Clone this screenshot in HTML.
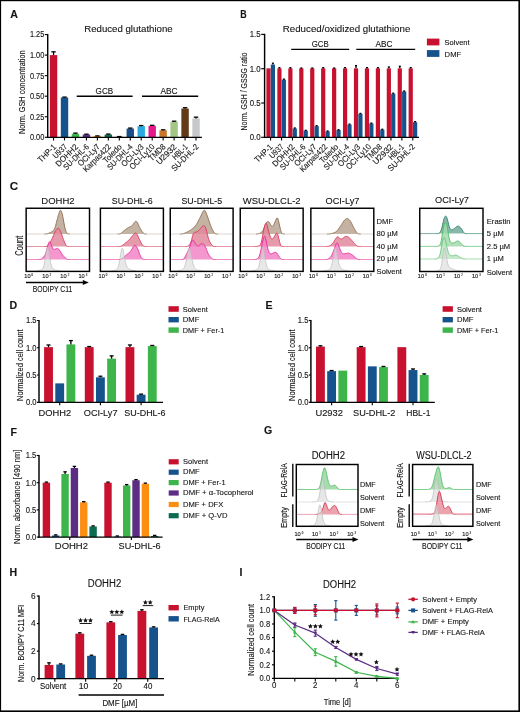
<!DOCTYPE html><html><head><meta charset="utf-8"><style>html,body{margin:0;padding:0;background:#fff;}svg{display:block;will-change:transform;} text{font-family:"Liberation Sans",sans-serif;fill:#141414;stroke:#141414;stroke-width:0.12px;}</style></head><body>
<svg width="520" height="712" viewBox="0 0 520 712">
<text x="10.2" y="17.9" font-size="10.6" font-weight="bold" fill="#000">A</text>
<text x="84.2" y="32" font-size="9.8" textLength="88.5" lengthAdjust="spacingAndGlyphs">Reduced glutathione</text>
<line x1="47.7" y1="33.95" x2="47.7" y2="138" stroke="#000" stroke-width="1.45"/>
<line x1="44.8" y1="34.55" x2="47.7" y2="34.55" stroke="#000" stroke-width="1.15"/>
<text x="44.3" y="37.4" font-size="8.6" text-anchor="end" textLength="14.4" lengthAdjust="spacingAndGlyphs">1.25</text>
<line x1="44.8" y1="55.1" x2="47.7" y2="55.1" stroke="#000" stroke-width="1.15"/>
<text x="44.3" y="57.95" font-size="8.6" text-anchor="end" textLength="14.4" lengthAdjust="spacingAndGlyphs">1.00</text>
<line x1="44.8" y1="75.65" x2="47.7" y2="75.65" stroke="#000" stroke-width="1.15"/>
<text x="44.3" y="78.5" font-size="8.6" text-anchor="end" textLength="14.4" lengthAdjust="spacingAndGlyphs">0.75</text>
<line x1="44.8" y1="96.2" x2="47.7" y2="96.2" stroke="#000" stroke-width="1.15"/>
<text x="44.3" y="99.05" font-size="8.6" text-anchor="end" textLength="14.4" lengthAdjust="spacingAndGlyphs">0.50</text>
<line x1="44.8" y1="116.75" x2="47.7" y2="116.75" stroke="#000" stroke-width="1.15"/>
<text x="44.3" y="119.6" font-size="8.6" text-anchor="end" textLength="14.4" lengthAdjust="spacingAndGlyphs">0.25</text>
<line x1="44.8" y1="137.3" x2="47.7" y2="137.3" stroke="#000" stroke-width="1.15"/>
<text x="44.3" y="140.15" font-size="8.6" text-anchor="end" textLength="14.4" lengthAdjust="spacingAndGlyphs">0.00</text>
<text transform="translate(24.6,92.3) rotate(-90)" font-size="9.2" text-anchor="middle" textLength="83.6" lengthAdjust="spacingAndGlyphs">Norm. GSH concentration</text>
<rect x="49.85" y="55.1" width="7.4" height="82.2" fill="#c8112f"/>
<line x1="53.55" y1="55.1" x2="53.55" y2="51.81" stroke="#000" stroke-width="1.3"/>
<line x1="51.35" y1="51.81" x2="55.75" y2="51.81" stroke="#000" stroke-width="1.3"/>
<line x1="53.55" y1="137.3" x2="53.55" y2="140.5" stroke="#000" stroke-width="1.1"/>
<text transform="translate(56.65,147.4) rotate(-45)" font-size="8.3" text-anchor="end" textLength="22" lengthAdjust="spacingAndGlyphs">THP-1</text>
<rect x="60.81" y="97.52" width="7.4" height="39.78" fill="#16528c"/>
<line x1="64.51" y1="97.52" x2="64.51" y2="97.1" stroke="#000" stroke-width="1.3"/>
<line x1="62.31" y1="97.1" x2="66.71" y2="97.1" stroke="#000" stroke-width="1.3"/>
<line x1="64.51" y1="137.3" x2="64.51" y2="140.5" stroke="#000" stroke-width="1.1"/>
<text transform="translate(67.61,147.4) rotate(-45)" font-size="8.3" text-anchor="end" textLength="16.5" lengthAdjust="spacingAndGlyphs">U937</text>
<rect x="71.77" y="133.77" width="7.4" height="3.53" fill="#3db54a"/>
<line x1="75.47" y1="133.77" x2="75.47" y2="133.11" stroke="#000" stroke-width="1.3"/>
<line x1="73.27" y1="133.11" x2="77.67" y2="133.11" stroke="#000" stroke-width="1.3"/>
<line x1="75.47" y1="137.3" x2="75.47" y2="140.5" stroke="#000" stroke-width="1.1"/>
<text transform="translate(78.57,147.4) rotate(-45)" font-size="8.3" text-anchor="end" textLength="28" lengthAdjust="spacingAndGlyphs">DOHH2</text>
<rect x="82.73" y="134.51" width="7.4" height="2.79" fill="#5b2d83"/>
<line x1="86.43" y1="134.51" x2="86.43" y2="134.18" stroke="#000" stroke-width="1.3"/>
<line x1="84.23" y1="134.18" x2="88.63" y2="134.18" stroke="#000" stroke-width="1.3"/>
<line x1="86.43" y1="137.3" x2="86.43" y2="140.5" stroke="#000" stroke-width="1.1"/>
<text transform="translate(89.53,147.4) rotate(-45)" font-size="8.3" text-anchor="end" textLength="32.5" lengthAdjust="spacingAndGlyphs">SU-DHL-6</text>
<rect x="93.69" y="136.15" width="7.4" height="1.15" fill="#fc8e12"/>
<line x1="97.39" y1="136.15" x2="97.39" y2="135.9" stroke="#000" stroke-width="1.3"/>
<line x1="95.19" y1="135.9" x2="99.59" y2="135.9" stroke="#000" stroke-width="1.3"/>
<line x1="97.39" y1="137.3" x2="97.39" y2="140.5" stroke="#000" stroke-width="1.1"/>
<text transform="translate(100.49,147.4) rotate(-45)" font-size="8.3" text-anchor="end" textLength="27.5" lengthAdjust="spacingAndGlyphs">OCI-Ly7</text>
<rect x="104.65" y="134.51" width="7.4" height="2.79" fill="#0d6b50"/>
<line x1="108.35" y1="134.51" x2="108.35" y2="134.09" stroke="#000" stroke-width="1.3"/>
<line x1="106.15" y1="134.09" x2="110.55" y2="134.09" stroke="#000" stroke-width="1.3"/>
<line x1="108.35" y1="137.3" x2="108.35" y2="140.5" stroke="#000" stroke-width="1.1"/>
<text transform="translate(111.45,147.4) rotate(-45)" font-size="8.3" text-anchor="end" textLength="35.5" lengthAdjust="spacingAndGlyphs">Karpas422</text>
<rect x="115.61" y="136.81" width="7.4" height="0.49" fill="#333"/>
<line x1="119.31" y1="136.81" x2="119.31" y2="136.56" stroke="#000" stroke-width="1.3"/>
<line x1="117.11" y1="136.56" x2="121.51" y2="136.56" stroke="#000" stroke-width="1.3"/>
<line x1="119.31" y1="137.3" x2="119.31" y2="140.5" stroke="#000" stroke-width="1.1"/>
<text transform="translate(122.41,147.4) rotate(-45)" font-size="8.3" text-anchor="end" textLength="23" lengthAdjust="spacingAndGlyphs">Toledo</text>
<rect x="126.57" y="128.59" width="7.4" height="8.71" fill="#1b4f8a"/>
<line x1="130.27" y1="128.59" x2="130.27" y2="128.09" stroke="#000" stroke-width="1.3"/>
<line x1="128.07" y1="128.09" x2="132.47" y2="128.09" stroke="#000" stroke-width="1.3"/>
<line x1="130.27" y1="137.3" x2="130.27" y2="140.5" stroke="#000" stroke-width="1.1"/>
<text transform="translate(133.37,147.4) rotate(-45)" font-size="8.3" text-anchor="end" textLength="32.5" lengthAdjust="spacingAndGlyphs">SU-DHL-4</text>
<rect x="137.53" y="126.2" width="7.4" height="11.1" fill="#29abe2"/>
<line x1="141.23" y1="126.2" x2="141.23" y2="125.55" stroke="#000" stroke-width="1.3"/>
<line x1="139.03" y1="125.55" x2="143.43" y2="125.55" stroke="#000" stroke-width="1.3"/>
<line x1="141.23" y1="137.3" x2="141.23" y2="140.5" stroke="#000" stroke-width="1.1"/>
<text transform="translate(144.33,147.4) rotate(-45)" font-size="8.3" text-anchor="end" textLength="28" lengthAdjust="spacingAndGlyphs">OCI-Ly3</text>
<rect x="148.49" y="125.79" width="7.4" height="11.51" fill="#e6198b"/>
<line x1="152.19" y1="125.79" x2="152.19" y2="125.3" stroke="#000" stroke-width="1.3"/>
<line x1="149.99" y1="125.3" x2="154.39" y2="125.3" stroke="#000" stroke-width="1.3"/>
<line x1="152.19" y1="137.3" x2="152.19" y2="140.5" stroke="#000" stroke-width="1.1"/>
<text transform="translate(155.29,147.4) rotate(-45)" font-size="8.3" text-anchor="end" textLength="32" lengthAdjust="spacingAndGlyphs">OCI-Ly10</text>
<rect x="159.45" y="130.31" width="7.4" height="6.99" fill="#c8782a"/>
<line x1="163.15" y1="130.31" x2="163.15" y2="129.82" stroke="#000" stroke-width="1.3"/>
<line x1="160.95" y1="129.82" x2="165.35" y2="129.82" stroke="#000" stroke-width="1.3"/>
<line x1="163.15" y1="137.3" x2="163.15" y2="140.5" stroke="#000" stroke-width="1.1"/>
<text transform="translate(166.25,147.4) rotate(-45)" font-size="8.3" text-anchor="end" textLength="20" lengthAdjust="spacingAndGlyphs">TMD8</text>
<rect x="170.41" y="121.68" width="7.4" height="15.62" fill="#a3c585"/>
<line x1="174.11" y1="121.68" x2="174.11" y2="121.19" stroke="#000" stroke-width="1.3"/>
<line x1="171.91" y1="121.19" x2="176.31" y2="121.19" stroke="#000" stroke-width="1.3"/>
<line x1="174.11" y1="137.3" x2="174.11" y2="140.5" stroke="#000" stroke-width="1.1"/>
<text transform="translate(177.21,147.4) rotate(-45)" font-size="8.3" text-anchor="end" textLength="25" lengthAdjust="spacingAndGlyphs">U2932</text>
<rect x="181.37" y="108.53" width="7.4" height="28.77" fill="#633a17"/>
<line x1="185.07" y1="108.53" x2="185.07" y2="107.71" stroke="#000" stroke-width="1.3"/>
<line x1="182.87" y1="107.71" x2="187.27" y2="107.71" stroke="#000" stroke-width="1.3"/>
<line x1="185.07" y1="137.3" x2="185.07" y2="140.5" stroke="#000" stroke-width="1.1"/>
<text transform="translate(188.17,147.4) rotate(-45)" font-size="8.3" text-anchor="end" textLength="18" lengthAdjust="spacingAndGlyphs">HBL-1</text>
<rect x="192.33" y="118.39" width="7.4" height="18.91" fill="#c7c8ca"/>
<line x1="196.03" y1="118.39" x2="196.03" y2="117.16" stroke="#000" stroke-width="1.3"/>
<line x1="193.83" y1="117.16" x2="198.23" y2="117.16" stroke="#000" stroke-width="1.3"/>
<line x1="196.03" y1="137.3" x2="196.03" y2="140.5" stroke="#000" stroke-width="1.1"/>
<text transform="translate(199.13,147.4) rotate(-45)" font-size="8.3" text-anchor="end" textLength="34.5" lengthAdjust="spacingAndGlyphs">SU-DHL-2</text>
<line x1="47.1" y1="137.3" x2="201.9" y2="137.3" stroke="#000" stroke-width="1.25"/>
<line x1="76.7" y1="96.3" x2="132.6" y2="96.3" stroke="#000" stroke-width="1.4"/>
<text x="104.4" y="93.8" font-size="9" text-anchor="middle" textLength="17.6" lengthAdjust="spacingAndGlyphs">GCB</text>
<line x1="142" y1="96.3" x2="198.2" y2="96.3" stroke="#000" stroke-width="1.4"/>
<text x="169" y="93.8" font-size="9" text-anchor="middle" textLength="17.2" lengthAdjust="spacingAndGlyphs">ABC</text>
<text x="240.3" y="17.9" font-size="10.6" textLength="6.4" lengthAdjust="spacingAndGlyphs" font-weight="bold" fill="#000">B</text>
<text x="282.8" y="31.9" font-size="9.8" textLength="127.5" lengthAdjust="spacingAndGlyphs">Reduced/oxidized glutathione</text>
<line x1="264.6" y1="33.8" x2="264.6" y2="138" stroke="#000" stroke-width="1.45"/>
<line x1="261.2" y1="34.4" x2="264.6" y2="34.4" stroke="#000" stroke-width="1.15"/>
<text x="260.6" y="37.25" font-size="8.6" text-anchor="end" textLength="10.9" lengthAdjust="spacingAndGlyphs">1.5</text>
<line x1="261.2" y1="68.7" x2="264.6" y2="68.7" stroke="#000" stroke-width="1.15"/>
<text x="260.6" y="71.55" font-size="8.6" text-anchor="end" textLength="10.9" lengthAdjust="spacingAndGlyphs">1.0</text>
<line x1="261.2" y1="103" x2="264.6" y2="103" stroke="#000" stroke-width="1.15"/>
<text x="260.6" y="105.85" font-size="8.6" text-anchor="end" textLength="10.9" lengthAdjust="spacingAndGlyphs">0.5</text>
<line x1="261.2" y1="137.3" x2="264.6" y2="137.3" stroke="#000" stroke-width="1.15"/>
<text x="260.6" y="140.15" font-size="8.6" text-anchor="end" textLength="10.9" lengthAdjust="spacingAndGlyphs">0.0</text>
<text transform="translate(247.1,91.5) rotate(-90)" font-size="9.2" text-anchor="middle" textLength="78" lengthAdjust="spacingAndGlyphs">Norm. GSH / GSSG ratio</text>
<rect x="266.4" y="68.36" width="4.2" height="68.94" fill="#c8112f"/>
<rect x="270.8" y="64.58" width="4.2" height="72.72" fill="#16528c"/>
<line x1="272.9" y1="64.58" x2="272.9" y2="63.21" stroke="#000" stroke-width="1.3"/>
<line x1="271.9" y1="63.21" x2="273.9" y2="63.21" stroke="#000" stroke-width="1.3"/>
<line x1="270.6" y1="137.3" x2="270.6" y2="140.5" stroke="#000" stroke-width="1.1"/>
<text transform="translate(273.3,147.4) rotate(-45)" font-size="8.3" text-anchor="end" textLength="22" lengthAdjust="spacingAndGlyphs">THP-1</text>
<rect x="277.34" y="68.36" width="4.2" height="68.94" fill="#c8112f"/>
<line x1="279.44" y1="68.36" x2="279.44" y2="67.67" stroke="#000" stroke-width="1.3"/>
<line x1="278.44" y1="67.67" x2="280.44" y2="67.67" stroke="#000" stroke-width="1.3"/>
<rect x="281.74" y="79.68" width="4.2" height="57.62" fill="#16528c"/>
<line x1="283.84" y1="79.68" x2="283.84" y2="79.13" stroke="#000" stroke-width="1.3"/>
<line x1="282.84" y1="79.13" x2="284.84" y2="79.13" stroke="#000" stroke-width="1.3"/>
<line x1="281.54" y1="137.3" x2="281.54" y2="140.5" stroke="#000" stroke-width="1.1"/>
<text transform="translate(284.24,147.4) rotate(-45)" font-size="8.3" text-anchor="end" textLength="16.5" lengthAdjust="spacingAndGlyphs">U937</text>
<rect x="288.28" y="68.36" width="4.2" height="68.94" fill="#c8112f"/>
<line x1="290.38" y1="68.36" x2="290.38" y2="67.67" stroke="#000" stroke-width="1.3"/>
<line x1="289.38" y1="67.67" x2="291.38" y2="67.67" stroke="#000" stroke-width="1.3"/>
<rect x="292.68" y="128.52" width="4.2" height="8.78" fill="#16528c"/>
<line x1="294.78" y1="128.52" x2="294.78" y2="127.97" stroke="#000" stroke-width="1.3"/>
<line x1="293.78" y1="127.97" x2="295.78" y2="127.97" stroke="#000" stroke-width="1.3"/>
<line x1="292.48" y1="137.3" x2="292.48" y2="140.5" stroke="#000" stroke-width="1.1"/>
<text transform="translate(295.18,147.4) rotate(-45)" font-size="8.3" text-anchor="end" textLength="28" lengthAdjust="spacingAndGlyphs">DOHH2</text>
<rect x="299.22" y="68.36" width="4.2" height="68.94" fill="#c8112f"/>
<line x1="301.32" y1="68.36" x2="301.32" y2="68.01" stroke="#000" stroke-width="1.3"/>
<line x1="300.32" y1="68.01" x2="302.32" y2="68.01" stroke="#000" stroke-width="1.3"/>
<rect x="303.62" y="130.65" width="4.2" height="6.65" fill="#16528c"/>
<line x1="305.72" y1="130.65" x2="305.72" y2="130.3" stroke="#000" stroke-width="1.3"/>
<line x1="304.72" y1="130.3" x2="306.72" y2="130.3" stroke="#000" stroke-width="1.3"/>
<line x1="303.42" y1="137.3" x2="303.42" y2="140.5" stroke="#000" stroke-width="1.1"/>
<text transform="translate(306.12,147.4) rotate(-45)" font-size="8.3" text-anchor="end" textLength="32.5" lengthAdjust="spacingAndGlyphs">SU-DHL-6</text>
<rect x="310.16" y="68.36" width="4.2" height="68.94" fill="#c8112f"/>
<line x1="312.26" y1="68.36" x2="312.26" y2="68.01" stroke="#000" stroke-width="1.3"/>
<line x1="311.26" y1="68.01" x2="313.26" y2="68.01" stroke="#000" stroke-width="1.3"/>
<rect x="314.56" y="126.19" width="4.2" height="11.11" fill="#16528c"/>
<line x1="316.66" y1="126.19" x2="316.66" y2="125.64" stroke="#000" stroke-width="1.3"/>
<line x1="315.66" y1="125.64" x2="317.66" y2="125.64" stroke="#000" stroke-width="1.3"/>
<line x1="314.36" y1="137.3" x2="314.36" y2="140.5" stroke="#000" stroke-width="1.1"/>
<text transform="translate(317.06,147.4) rotate(-45)" font-size="8.3" text-anchor="end" textLength="27.5" lengthAdjust="spacingAndGlyphs">OCI-Ly7</text>
<rect x="321.1" y="68.36" width="4.2" height="68.94" fill="#c8112f"/>
<line x1="323.2" y1="68.36" x2="323.2" y2="67.67" stroke="#000" stroke-width="1.3"/>
<line x1="322.2" y1="67.67" x2="324.2" y2="67.67" stroke="#000" stroke-width="1.3"/>
<rect x="325.5" y="131.33" width="4.2" height="5.97" fill="#16528c"/>
<line x1="327.6" y1="131.33" x2="327.6" y2="130.99" stroke="#000" stroke-width="1.3"/>
<line x1="326.6" y1="130.99" x2="328.6" y2="130.99" stroke="#000" stroke-width="1.3"/>
<line x1="325.3" y1="137.3" x2="325.3" y2="140.5" stroke="#000" stroke-width="1.1"/>
<text transform="translate(328,147.4) rotate(-45)" font-size="8.3" text-anchor="end" textLength="35.5" lengthAdjust="spacingAndGlyphs">Karpas422</text>
<rect x="332.04" y="68.36" width="4.2" height="68.94" fill="#c8112f"/>
<line x1="334.14" y1="68.36" x2="334.14" y2="68.01" stroke="#000" stroke-width="1.3"/>
<line x1="333.14" y1="68.01" x2="335.14" y2="68.01" stroke="#000" stroke-width="1.3"/>
<rect x="336.44" y="130.03" width="4.2" height="7.27" fill="#16528c"/>
<line x1="338.54" y1="130.03" x2="338.54" y2="129.69" stroke="#000" stroke-width="1.3"/>
<line x1="337.54" y1="129.69" x2="339.54" y2="129.69" stroke="#000" stroke-width="1.3"/>
<line x1="336.24" y1="137.3" x2="336.24" y2="140.5" stroke="#000" stroke-width="1.1"/>
<text transform="translate(338.94,147.4) rotate(-45)" font-size="8.3" text-anchor="end" textLength="23" lengthAdjust="spacingAndGlyphs">Toledo</text>
<rect x="342.98" y="68.36" width="4.2" height="68.94" fill="#c8112f"/>
<line x1="345.08" y1="68.36" x2="345.08" y2="67.67" stroke="#000" stroke-width="1.3"/>
<line x1="344.08" y1="67.67" x2="346.08" y2="67.67" stroke="#000" stroke-width="1.3"/>
<rect x="347.38" y="124.54" width="4.2" height="12.76" fill="#16528c"/>
<line x1="349.48" y1="124.54" x2="349.48" y2="124.13" stroke="#000" stroke-width="1.3"/>
<line x1="348.48" y1="124.13" x2="350.48" y2="124.13" stroke="#000" stroke-width="1.3"/>
<line x1="347.18" y1="137.3" x2="347.18" y2="140.5" stroke="#000" stroke-width="1.1"/>
<text transform="translate(349.88,147.4) rotate(-45)" font-size="8.3" text-anchor="end" textLength="32.5" lengthAdjust="spacingAndGlyphs">SU-DHL-4</text>
<rect x="353.92" y="68.36" width="4.2" height="68.94" fill="#c8112f"/>
<line x1="356.02" y1="68.36" x2="356.02" y2="65.61" stroke="#000" stroke-width="1.3"/>
<line x1="355.02" y1="65.61" x2="357.02" y2="65.61" stroke="#000" stroke-width="1.3"/>
<rect x="358.32" y="113.84" width="4.2" height="23.46" fill="#16528c"/>
<line x1="360.42" y1="113.84" x2="360.42" y2="113.43" stroke="#000" stroke-width="1.3"/>
<line x1="359.42" y1="113.43" x2="361.42" y2="113.43" stroke="#000" stroke-width="1.3"/>
<line x1="358.12" y1="137.3" x2="358.12" y2="140.5" stroke="#000" stroke-width="1.1"/>
<text transform="translate(360.82,147.4) rotate(-45)" font-size="8.3" text-anchor="end" textLength="28" lengthAdjust="spacingAndGlyphs">OCI-Ly3</text>
<rect x="364.86" y="68.36" width="4.2" height="68.94" fill="#c8112f"/>
<line x1="366.96" y1="68.36" x2="366.96" y2="67.67" stroke="#000" stroke-width="1.3"/>
<line x1="365.96" y1="67.67" x2="367.96" y2="67.67" stroke="#000" stroke-width="1.3"/>
<rect x="369.26" y="123.44" width="4.2" height="13.86" fill="#16528c"/>
<line x1="371.36" y1="123.44" x2="371.36" y2="123.1" stroke="#000" stroke-width="1.3"/>
<line x1="370.36" y1="123.1" x2="372.36" y2="123.1" stroke="#000" stroke-width="1.3"/>
<line x1="369.06" y1="137.3" x2="369.06" y2="140.5" stroke="#000" stroke-width="1.1"/>
<text transform="translate(371.76,147.4) rotate(-45)" font-size="8.3" text-anchor="end" textLength="32" lengthAdjust="spacingAndGlyphs">OCI-Ly10</text>
<rect x="375.8" y="68.36" width="4.2" height="68.94" fill="#c8112f"/>
<line x1="377.9" y1="68.36" x2="377.9" y2="67.67" stroke="#000" stroke-width="1.3"/>
<line x1="376.9" y1="67.67" x2="378.9" y2="67.67" stroke="#000" stroke-width="1.3"/>
<rect x="380.2" y="129.62" width="4.2" height="7.68" fill="#16528c"/>
<line x1="382.3" y1="129.62" x2="382.3" y2="129.27" stroke="#000" stroke-width="1.3"/>
<line x1="381.3" y1="129.27" x2="383.3" y2="129.27" stroke="#000" stroke-width="1.3"/>
<line x1="380" y1="137.3" x2="380" y2="140.5" stroke="#000" stroke-width="1.1"/>
<text transform="translate(382.7,147.4) rotate(-45)" font-size="8.3" text-anchor="end" textLength="20" lengthAdjust="spacingAndGlyphs">TMD8</text>
<rect x="386.74" y="68.36" width="4.2" height="68.94" fill="#c8112f"/>
<line x1="388.84" y1="68.36" x2="388.84" y2="66.99" stroke="#000" stroke-width="1.3"/>
<line x1="387.84" y1="66.99" x2="389.84" y2="66.99" stroke="#000" stroke-width="1.3"/>
<rect x="391.14" y="93.74" width="4.2" height="43.56" fill="#16528c"/>
<line x1="393.24" y1="93.74" x2="393.24" y2="93.19" stroke="#000" stroke-width="1.3"/>
<line x1="392.24" y1="93.19" x2="394.24" y2="93.19" stroke="#000" stroke-width="1.3"/>
<line x1="390.94" y1="137.3" x2="390.94" y2="140.5" stroke="#000" stroke-width="1.1"/>
<text transform="translate(393.64,147.4) rotate(-45)" font-size="8.3" text-anchor="end" textLength="25" lengthAdjust="spacingAndGlyphs">U2932</text>
<rect x="397.68" y="68.36" width="4.2" height="68.94" fill="#c8112f"/>
<line x1="399.78" y1="68.36" x2="399.78" y2="66.3" stroke="#000" stroke-width="1.3"/>
<line x1="398.78" y1="66.3" x2="400.78" y2="66.3" stroke="#000" stroke-width="1.3"/>
<rect x="402.08" y="91.54" width="4.2" height="45.76" fill="#16528c"/>
<line x1="404.18" y1="91.54" x2="404.18" y2="91" stroke="#000" stroke-width="1.3"/>
<line x1="403.18" y1="91" x2="405.18" y2="91" stroke="#000" stroke-width="1.3"/>
<line x1="401.88" y1="137.3" x2="401.88" y2="140.5" stroke="#000" stroke-width="1.1"/>
<text transform="translate(404.58,147.4) rotate(-45)" font-size="8.3" text-anchor="end" textLength="18" lengthAdjust="spacingAndGlyphs">HBL-1</text>
<rect x="408.62" y="68.36" width="4.2" height="68.94" fill="#c8112f"/>
<line x1="410.72" y1="68.36" x2="410.72" y2="67.67" stroke="#000" stroke-width="1.3"/>
<line x1="409.72" y1="67.67" x2="411.72" y2="67.67" stroke="#000" stroke-width="1.3"/>
<rect x="413.02" y="122.21" width="4.2" height="15.09" fill="#16528c"/>
<line x1="415.12" y1="122.21" x2="415.12" y2="121.66" stroke="#000" stroke-width="1.3"/>
<line x1="414.12" y1="121.66" x2="416.12" y2="121.66" stroke="#000" stroke-width="1.3"/>
<line x1="412.82" y1="137.3" x2="412.82" y2="140.5" stroke="#000" stroke-width="1.1"/>
<text transform="translate(415.52,147.4) rotate(-45)" font-size="8.3" text-anchor="end" textLength="34.5" lengthAdjust="spacingAndGlyphs">SU-DHL-2</text>
<line x1="264" y1="137.3" x2="419" y2="137.3" stroke="#000" stroke-width="1.25"/>
<line x1="291.2" y1="49.3" x2="349.2" y2="49.3" stroke="#000" stroke-width="1.2"/>
<text x="320.2" y="46.7" font-size="9" text-anchor="middle" textLength="17" lengthAdjust="spacingAndGlyphs">GCB</text>
<line x1="356.3" y1="49.3" x2="415.2" y2="49.3" stroke="#000" stroke-width="1.2"/>
<text x="384" y="46.7" font-size="9" text-anchor="middle" textLength="17" lengthAdjust="spacingAndGlyphs">ABC</text>
<rect x="426.9" y="38.6" width="12.5" height="6.8" fill="#c8112f"/>
<rect x="426.9" y="50.1" width="12.5" height="6.8" fill="#16528c"/>
<text x="444.6" y="44.9" font-size="7.6" textLength="25" lengthAdjust="spacingAndGlyphs">Solvent</text>
<text x="444.6" y="56.5" font-size="7.6" textLength="16.6" lengthAdjust="spacingAndGlyphs">DMF</text>
<text x="9.8" y="190" font-size="10.6" textLength="8.4" lengthAdjust="spacingAndGlyphs" font-weight="bold" fill="#000">C</text>
<text transform="translate(22.6,245.7) rotate(-90)" font-size="10.2" text-anchor="middle" textLength="20" lengthAdjust="spacingAndGlyphs">Count</text>
<text x="41.3" y="203.5" font-size="9.9" textLength="33.3" lengthAdjust="spacingAndGlyphs">DOHH2</text>
<path d="M44.56,234 L44.91,234 L45.26,234 L45.61,234 L45.96,233.99 L46.31,233.97 L46.66,233.93 L47.01,233.86 L47.36,233.77 L47.71,233.66 L48.06,233.53 L48.41,233.39 L48.76,233.25 L49.11,233.11 L49.46,232.96 L49.81,232.8 L50.16,232.64 L50.51,232.46 L50.86,232.28 L51.21,232.09 L51.56,231.88 L51.91,231.67 L52.26,231.45 L52.61,231.21 L52.96,230.95 L53.31,230.64 L53.66,230.26 L54.01,229.78 L54.36,229.18 L54.71,228.42 L55.06,227.49 L55.41,226.39 L55.76,225.15 L56.11,223.82 L56.46,222.44 L56.81,221.08 L57.16,219.74 L57.51,218.44 L57.86,217.16 L58.21,215.9 L58.56,214.67 L58.91,213.51 L59.26,212.44 L59.61,211.54 L59.96,210.84 L60.31,210.42 L60.66,210.32 L61.01,210.58 L61.36,211.21 L61.71,212.17 L62.06,213.41 L62.41,214.87 L62.76,216.5 L63.11,218.25 L63.46,220.1 L63.81,222.04 L64.16,223.98 L64.51,225.85 L64.86,227.53 L65.21,228.97 L65.56,230.17 L65.91,231.15 L66.26,231.96 L66.61,232.63 L66.96,233.16 L67.31,233.54 L67.66,233.78 L68.01,233.91 L68.36,233.97 L68.71,233.99 L69.06,234 L69.41,234 Z" fill="#c4b3a3" fill-opacity="1" stroke="none"/>
<line x1="26.15" y1="234" x2="44.86" y2="234" stroke="#d6cabe" stroke-width="0.8"/>
<line x1="69.11" y1="234" x2="89.5" y2="234" stroke="#d6cabe" stroke-width="0.8"/>
<path d="M44.56,234 L44.91,234 L45.26,234 L45.61,234 L45.96,233.99 L46.31,233.97 L46.66,233.93 L47.01,233.86 L47.36,233.77 L47.71,233.66 L48.06,233.53 L48.41,233.39 L48.76,233.25 L49.11,233.11 L49.46,232.96 L49.81,232.8 L50.16,232.64 L50.51,232.46 L50.86,232.28 L51.21,232.09 L51.56,231.88 L51.91,231.67 L52.26,231.45 L52.61,231.21 L52.96,230.95 L53.31,230.64 L53.66,230.26 L54.01,229.78 L54.36,229.18 L54.71,228.42 L55.06,227.49 L55.41,226.39 L55.76,225.15 L56.11,223.82 L56.46,222.44 L56.81,221.08 L57.16,219.74 L57.51,218.44 L57.86,217.16 L58.21,215.9 L58.56,214.67 L58.91,213.51 L59.26,212.44 L59.61,211.54 L59.96,210.84 L60.31,210.42 L60.66,210.32 L61.01,210.58 L61.36,211.21 L61.71,212.17 L62.06,213.41 L62.41,214.87 L62.76,216.5 L63.11,218.25 L63.46,220.1 L63.81,222.04 L64.16,223.98 L64.51,225.85 L64.86,227.53 L65.21,228.97 L65.56,230.17 L65.91,231.15 L66.26,231.96 L66.61,232.63 L66.96,233.16 L67.31,233.54 L67.66,233.78 L68.01,233.91 L68.36,233.97 L68.71,233.99 L69.06,234 L69.41,234" fill="none" stroke="#8a6a4c" stroke-width="0.9" stroke-linejoin="round"/>
<path d="M45.16,246.5 L45.51,246.5 L45.86,246.5 L46.21,246.49 L46.56,246.45 L46.91,246.37 L47.26,246.22 L47.61,245.96 L47.96,245.6 L48.31,245.14 L48.66,244.63 L49.01,244.09 L49.36,243.54 L49.71,242.98 L50.06,242.41 L50.41,241.83 L50.76,241.24 L51.11,240.64 L51.46,240.01 L51.81,239.34 L52.16,238.63 L52.51,237.87 L52.86,237.05 L53.21,236.18 L53.56,235.29 L53.91,234.4 L54.26,233.54 L54.61,232.73 L54.96,232 L55.31,231.33 L55.66,230.72 L56.01,230.16 L56.36,229.65 L56.71,229.19 L57.06,228.81 L57.41,228.5 L57.76,228.3 L58.11,228.22 L58.46,228.27 L58.81,228.47 L59.16,228.81 L59.51,229.29 L59.86,229.89 L60.21,230.58 L60.56,231.36 L60.91,232.21 L61.26,233.14 L61.61,234.14 L61.96,235.2 L62.31,236.29 L62.66,237.37 L63.01,238.41 L63.36,239.38 L63.71,240.29 L64.06,241.14 L64.41,241.96 L64.76,242.74 L65.11,243.5 L65.46,244.23 L65.81,244.9 L66.16,245.48 L66.51,245.92 L66.86,246.22 L67.21,246.39 L67.56,246.46 L67.91,246.49 L68.26,246.5 L68.61,246.5 L68.96,246.5 Z" fill="#e08a9c" fill-opacity="0.85" stroke="none"/>
<line x1="26.15" y1="246.5" x2="45.46" y2="246.5" stroke="#e0798f" stroke-width="0.8"/>
<line x1="68.66" y1="246.5" x2="89.5" y2="246.5" stroke="#e0798f" stroke-width="0.8"/>
<path d="M45.16,246.5 L45.51,246.5 L45.86,246.5 L46.21,246.49 L46.56,246.45 L46.91,246.37 L47.26,246.22 L47.61,245.96 L47.96,245.6 L48.31,245.14 L48.66,244.63 L49.01,244.09 L49.36,243.54 L49.71,242.98 L50.06,242.41 L50.41,241.83 L50.76,241.24 L51.11,240.64 L51.46,240.01 L51.81,239.34 L52.16,238.63 L52.51,237.87 L52.86,237.05 L53.21,236.18 L53.56,235.29 L53.91,234.4 L54.26,233.54 L54.61,232.73 L54.96,232 L55.31,231.33 L55.66,230.72 L56.01,230.16 L56.36,229.65 L56.71,229.19 L57.06,228.81 L57.41,228.5 L57.76,228.3 L58.11,228.22 L58.46,228.27 L58.81,228.47 L59.16,228.81 L59.51,229.29 L59.86,229.89 L60.21,230.58 L60.56,231.36 L60.91,232.21 L61.26,233.14 L61.61,234.14 L61.96,235.2 L62.31,236.29 L62.66,237.37 L63.01,238.41 L63.36,239.38 L63.71,240.29 L64.06,241.14 L64.41,241.96 L64.76,242.74 L65.11,243.5 L65.46,244.23 L65.81,244.9 L66.16,245.48 L66.51,245.92 L66.86,246.22 L67.21,246.39 L67.56,246.46 L67.91,246.49 L68.26,246.5 L68.61,246.5 L68.96,246.5" fill="none" stroke="#db3259" stroke-width="0.9" stroke-linejoin="round"/>
<path d="M38.67,259.5 L39.02,259.5 L39.37,259.5 L39.72,259.49 L40.07,259.47 L40.42,259.42 L40.77,259.32 L41.12,259.17 L41.47,258.95 L41.82,258.68 L42.17,258.37 L42.52,258.05 L42.87,257.71 L43.22,257.36 L43.57,256.98 L43.92,256.58 L44.27,256.13 L44.62,255.63 L44.97,255.05 L45.32,254.35 L45.67,253.5 L46.02,252.47 L46.37,251.26 L46.72,249.91 L47.07,248.47 L47.42,247.02 L47.77,245.66 L48.12,244.44 L48.47,243.4 L48.82,242.59 L49.17,242.04 L49.52,241.78 L49.87,241.84 L50.22,242.24 L50.57,242.91 L50.92,243.79 L51.27,244.76 L51.62,245.74 L51.97,246.63 L52.32,247.42 L52.67,248.07 L53.02,248.59 L53.37,248.97 L53.72,249.23 L54.07,249.37 L54.42,249.4 L54.77,249.34 L55.12,249.21 L55.47,249.03 L55.82,248.83 L56.17,248.64 L56.52,248.48 L56.87,248.37 L57.22,248.33 L57.57,248.38 L57.92,248.53 L58.27,248.77 L58.62,249.1 L58.97,249.51 L59.32,249.97 L59.67,250.46 L60.02,250.98 L60.37,251.51 L60.72,252.05 L61.07,252.6 L61.42,253.16 L61.77,253.72 L62.12,254.27 L62.47,254.8 L62.82,255.28 L63.17,255.73 L63.52,256.14 L63.87,256.52 L64.22,256.87 L64.57,257.21 L64.92,257.53 L65.27,257.84 L65.62,258.14 L65.97,258.44 L66.32,258.71 L66.67,258.97 L67.02,259.17 L67.37,259.32 L67.72,259.42 L68.07,259.47 L68.42,259.49 L68.77,259.5 L69.12,259.5 L69.47,259.5 L69.82,259.5 Z" fill="#f185c5" fill-opacity="0.85" stroke="none"/>
<line x1="26.15" y1="259.5" x2="38.97" y2="259.5" stroke="#f070b8" stroke-width="0.8"/>
<line x1="69.52" y1="259.5" x2="89.5" y2="259.5" stroke="#f070b8" stroke-width="0.8"/>
<path d="M38.67,259.5 L39.02,259.5 L39.37,259.5 L39.72,259.49 L40.07,259.47 L40.42,259.42 L40.77,259.32 L41.12,259.17 L41.47,258.95 L41.82,258.68 L42.17,258.37 L42.52,258.05 L42.87,257.71 L43.22,257.36 L43.57,256.98 L43.92,256.58 L44.27,256.13 L44.62,255.63 L44.97,255.05 L45.32,254.35 L45.67,253.5 L46.02,252.47 L46.37,251.26 L46.72,249.91 L47.07,248.47 L47.42,247.02 L47.77,245.66 L48.12,244.44 L48.47,243.4 L48.82,242.59 L49.17,242.04 L49.52,241.78 L49.87,241.84 L50.22,242.24 L50.57,242.91 L50.92,243.79 L51.27,244.76 L51.62,245.74 L51.97,246.63 L52.32,247.42 L52.67,248.07 L53.02,248.59 L53.37,248.97 L53.72,249.23 L54.07,249.37 L54.42,249.4 L54.77,249.34 L55.12,249.21 L55.47,249.03 L55.82,248.83 L56.17,248.64 L56.52,248.48 L56.87,248.37 L57.22,248.33 L57.57,248.38 L57.92,248.53 L58.27,248.77 L58.62,249.1 L58.97,249.51 L59.32,249.97 L59.67,250.46 L60.02,250.98 L60.37,251.51 L60.72,252.05 L61.07,252.6 L61.42,253.16 L61.77,253.72 L62.12,254.27 L62.47,254.8 L62.82,255.28 L63.17,255.73 L63.52,256.14 L63.87,256.52 L64.22,256.87 L64.57,257.21 L64.92,257.53 L65.27,257.84 L65.62,258.14 L65.97,258.44 L66.32,258.71 L66.67,258.97 L67.02,259.17 L67.37,259.32 L67.72,259.42 L68.07,259.47 L68.42,259.49 L68.77,259.5 L69.12,259.5 L69.47,259.5 L69.82,259.5" fill="none" stroke="#ea2596" stroke-width="0.9" stroke-linejoin="round"/>
<path d="M36.68,270.58 L37.08,270.57 L37.47,270.55 L37.87,270.53 L38.27,270.51 L38.67,270.48 L39.06,270.44 L39.46,270.39 L39.86,270.32 L40.26,270.24 L40.65,270.13 L41.05,269.98 L41.45,269.79 L41.84,269.53 L42.24,269.16 L42.64,268.65 L43.04,267.94 L43.43,266.96 L43.83,265.67 L44.23,264 L44.62,261.95 L45.02,259.56 L45.42,256.93 L45.82,254.22 L46.21,251.66 L46.61,249.49 L47.01,247.96 L47.41,247.22 L47.8,247.37 L48.2,248.38 L48.6,250.12 L48.99,252.38 L49.39,254.93 L49.79,257.53 L50.19,259.99 L50.58,262.16 L50.98,263.99 L51.38,265.46 L51.78,266.61 L52.17,267.48 L52.57,268.13 L52.97,268.62 L53.36,269 L53.76,269.3 L54.16,269.54 L54.56,269.74 L54.95,269.9 L55.35,270.04 L55.75,270.15 L56.14,270.25 L56.54,270.33 L56.94,270.39 L57.34,270.44 L57.73,270.48 L58.13,270.51 L58.53,270.53 L58.93,270.55 L59.32,270.57 L59.72,270.58 L59.72,270.6 L36.68,270.6 Z" fill="#d9d9d9" fill-opacity="0.6" stroke="none"/>
<path d="M36.68,270.58 L37.08,270.57 L37.47,270.55 L37.87,270.53 L38.27,270.51 L38.67,270.48 L39.06,270.44 L39.46,270.39 L39.86,270.32 L40.26,270.24 L40.65,270.13 L41.05,269.98 L41.45,269.79 L41.84,269.53 L42.24,269.16 L42.64,268.65 L43.04,267.94 L43.43,266.96 L43.83,265.67 L44.23,264 L44.62,261.95 L45.02,259.56 L45.42,256.93 L45.82,254.22 L46.21,251.66 L46.61,249.49 L47.01,247.96 L47.41,247.22 L47.8,247.37 L48.2,248.38 L48.6,250.12 L48.99,252.38 L49.39,254.93 L49.79,257.53 L50.19,259.99 L50.58,262.16 L50.98,263.99 L51.38,265.46 L51.78,266.61 L52.17,267.48 L52.57,268.13 L52.97,268.62 L53.36,269 L53.76,269.3 L54.16,269.54 L54.56,269.74 L54.95,269.9 L55.35,270.04 L55.75,270.15 L56.14,270.25 L56.54,270.33 L56.94,270.39 L57.34,270.44 L57.73,270.48 L58.13,270.51 L58.53,270.53 L58.93,270.55 L59.32,270.57 L59.72,270.58" fill="none" stroke="#bcbcbc" stroke-width="0.7" stroke-linejoin="round"/>
<rect x="26.15" y="208.25" width="63.35" height="63.15" fill="none" stroke="#000" stroke-width="1.45"/>
<text x="24.25" y="277.8" font-size="6.2" fill="#141414" textLength="6.3" lengthAdjust="spacingAndGlyphs">10</text>
<text x="31.55" y="275.6" font-size="2.8" fill="#141414" style="stroke-width:0.1px">0</text>
<text x="42.3" y="277.8" font-size="6.2" fill="#141414" textLength="6.3" lengthAdjust="spacingAndGlyphs">10</text>
<text x="49.6" y="275.6" font-size="2.8" fill="#141414" style="stroke-width:0.1px">1</text>
<text x="60.36" y="277.8" font-size="6.2" fill="#141414" textLength="6.3" lengthAdjust="spacingAndGlyphs">10</text>
<text x="67.66" y="275.6" font-size="2.8" fill="#141414" style="stroke-width:0.1px">2</text>
<text x="78.41" y="277.8" font-size="6.2" fill="#141414" textLength="6.3" lengthAdjust="spacingAndGlyphs">10</text>
<text x="85.71" y="275.6" font-size="2.8" fill="#141414" style="stroke-width:0.1px">3</text>
<text x="111.8" y="203.5" font-size="9.9" textLength="40.8" lengthAdjust="spacingAndGlyphs">SU-DHL-6</text>
<path d="M117.76,234 L118.11,234 L118.46,234 L118.81,234 L119.16,233.98 L119.51,233.95 L119.86,233.88 L120.21,233.76 L120.56,233.58 L120.91,233.35 L121.26,233.08 L121.61,232.8 L121.96,232.5 L122.31,232.21 L122.66,231.91 L123.01,231.61 L123.36,231.32 L123.71,231.02 L124.06,230.73 L124.41,230.44 L124.76,230.16 L125.11,229.87 L125.46,229.59 L125.81,229.32 L126.16,229.05 L126.51,228.8 L126.86,228.55 L127.21,228.32 L127.56,228.09 L127.91,227.88 L128.26,227.67 L128.61,227.48 L128.96,227.29 L129.31,227.11 L129.66,226.94 L130.01,226.78 L130.36,226.62 L130.71,226.46 L131.06,226.27 L131.41,226.05 L131.76,225.77 L132.11,225.44 L132.46,225.05 L132.81,224.61 L133.16,224.13 L133.51,223.64 L133.86,223.14 L134.21,222.67 L134.56,222.23 L134.91,221.85 L135.26,221.56 L135.61,221.36 L135.96,221.3 L136.31,221.38 L136.66,221.62 L137.01,222 L137.36,222.52 L137.71,223.16 L138.06,223.87 L138.41,224.65 L138.76,225.44 L139.11,226.22 L139.46,226.96 L139.81,227.66 L140.16,228.31 L140.51,228.93 L140.86,229.52 L141.21,230.1 L141.56,230.66 L141.91,231.2 L142.26,231.73 L142.61,232.22 L142.96,232.68 L143.31,233.07 L143.66,233.39 L144.01,233.64 L144.36,233.8 L144.71,233.9 L145.06,233.96 L145.41,233.99 L145.76,234 L146.11,234 L146.46,234 L146.81,234 Z" fill="#c4b3a3" fill-opacity="1" stroke="none"/>
<line x1="100.4" y1="234" x2="118.06" y2="234" stroke="#d6cabe" stroke-width="0.8"/>
<line x1="146.51" y1="234" x2="163.4" y2="234" stroke="#d6cabe" stroke-width="0.8"/>
<path d="M117.76,234 L118.11,234 L118.46,234 L118.81,234 L119.16,233.98 L119.51,233.95 L119.86,233.88 L120.21,233.76 L120.56,233.58 L120.91,233.35 L121.26,233.08 L121.61,232.8 L121.96,232.5 L122.31,232.21 L122.66,231.91 L123.01,231.61 L123.36,231.32 L123.71,231.02 L124.06,230.73 L124.41,230.44 L124.76,230.16 L125.11,229.87 L125.46,229.59 L125.81,229.32 L126.16,229.05 L126.51,228.8 L126.86,228.55 L127.21,228.32 L127.56,228.09 L127.91,227.88 L128.26,227.67 L128.61,227.48 L128.96,227.29 L129.31,227.11 L129.66,226.94 L130.01,226.78 L130.36,226.62 L130.71,226.46 L131.06,226.27 L131.41,226.05 L131.76,225.77 L132.11,225.44 L132.46,225.05 L132.81,224.61 L133.16,224.13 L133.51,223.64 L133.86,223.14 L134.21,222.67 L134.56,222.23 L134.91,221.85 L135.26,221.56 L135.61,221.36 L135.96,221.3 L136.31,221.38 L136.66,221.62 L137.01,222 L137.36,222.52 L137.71,223.16 L138.06,223.87 L138.41,224.65 L138.76,225.44 L139.11,226.22 L139.46,226.96 L139.81,227.66 L140.16,228.31 L140.51,228.93 L140.86,229.52 L141.21,230.1 L141.56,230.66 L141.91,231.2 L142.26,231.73 L142.61,232.22 L142.96,232.68 L143.31,233.07 L143.66,233.39 L144.01,233.64 L144.36,233.8 L144.71,233.9 L145.06,233.96 L145.41,233.99 L145.76,234 L146.11,234 L146.46,234 L146.81,234" fill="none" stroke="#8a6a4c" stroke-width="0.9" stroke-linejoin="round"/>
<path d="M118.61,246.5 L118.96,246.5 L119.31,246.5 L119.66,246.49 L120.01,246.47 L120.36,246.43 L120.71,246.35 L121.06,246.23 L121.41,246.05 L121.76,245.83 L122.11,245.59 L122.46,245.34 L122.81,245.08 L123.16,244.81 L123.51,244.55 L123.86,244.28 L124.21,244 L124.56,243.73 L124.91,243.45 L125.26,243.17 L125.61,242.89 L125.96,242.6 L126.31,242.32 L126.66,242.03 L127.01,241.74 L127.36,241.44 L127.71,241.13 L128.06,240.82 L128.41,240.5 L128.76,240.16 L129.11,239.82 L129.46,239.45 L129.81,239.07 L130.16,238.67 L130.51,238.26 L130.86,237.82 L131.21,237.38 L131.56,236.93 L131.91,236.49 L132.26,236.04 L132.61,235.6 L132.96,235.17 L133.31,234.76 L133.66,234.36 L134.01,234 L134.36,233.68 L134.71,233.4 L135.06,233.2 L135.41,233.09 L135.76,233.09 L136.11,233.23 L136.46,233.53 L136.81,233.98 L137.16,234.58 L137.51,235.28 L137.86,236.04 L138.21,236.81 L138.56,237.57 L138.91,238.3 L139.26,239.02 L139.61,239.74 L139.96,240.46 L140.31,241.18 L140.66,241.9 L141.01,242.59 L141.36,243.25 L141.71,243.87 L142.06,244.43 L142.41,244.93 L142.76,245.36 L143.11,245.73 L143.46,246.02 L143.81,246.23 L144.16,246.37 L144.51,246.45 L144.86,246.48 L145.21,246.5 L145.56,246.5 L145.91,246.5 L146.26,246.5 Z" fill="#e08a9c" fill-opacity="0.85" stroke="none"/>
<line x1="100.4" y1="246.5" x2="118.91" y2="246.5" stroke="#e0798f" stroke-width="0.8"/>
<line x1="145.96" y1="246.5" x2="163.4" y2="246.5" stroke="#e0798f" stroke-width="0.8"/>
<path d="M118.61,246.5 L118.96,246.5 L119.31,246.5 L119.66,246.49 L120.01,246.47 L120.36,246.43 L120.71,246.35 L121.06,246.23 L121.41,246.05 L121.76,245.83 L122.11,245.59 L122.46,245.34 L122.81,245.08 L123.16,244.81 L123.51,244.55 L123.86,244.28 L124.21,244 L124.56,243.73 L124.91,243.45 L125.26,243.17 L125.61,242.89 L125.96,242.6 L126.31,242.32 L126.66,242.03 L127.01,241.74 L127.36,241.44 L127.71,241.13 L128.06,240.82 L128.41,240.5 L128.76,240.16 L129.11,239.82 L129.46,239.45 L129.81,239.07 L130.16,238.67 L130.51,238.26 L130.86,237.82 L131.21,237.38 L131.56,236.93 L131.91,236.49 L132.26,236.04 L132.61,235.6 L132.96,235.17 L133.31,234.76 L133.66,234.36 L134.01,234 L134.36,233.68 L134.71,233.4 L135.06,233.2 L135.41,233.09 L135.76,233.09 L136.11,233.23 L136.46,233.53 L136.81,233.98 L137.16,234.58 L137.51,235.28 L137.86,236.04 L138.21,236.81 L138.56,237.57 L138.91,238.3 L139.26,239.02 L139.61,239.74 L139.96,240.46 L140.31,241.18 L140.66,241.9 L141.01,242.59 L141.36,243.25 L141.71,243.87 L142.06,244.43 L142.41,244.93 L142.76,245.36 L143.11,245.73 L143.46,246.02 L143.81,246.23 L144.16,246.37 L144.51,246.45 L144.86,246.48 L145.21,246.5 L145.56,246.5 L145.91,246.5 L146.26,246.5" fill="none" stroke="#db3259" stroke-width="0.9" stroke-linejoin="round"/>
<path d="M118.46,259.5 L118.81,259.5 L119.16,259.5 L119.51,259.5 L119.86,259.48 L120.21,259.45 L120.56,259.39 L120.91,259.27 L121.26,259.09 L121.61,258.87 L121.96,258.6 L122.31,258.33 L122.66,258.04 L123.01,257.75 L123.36,257.46 L123.71,257.17 L124.06,256.88 L124.41,256.59 L124.76,256.3 L125.11,256.01 L125.46,255.71 L125.81,255.42 L126.16,255.13 L126.51,254.84 L126.86,254.55 L127.21,254.27 L127.56,253.99 L127.91,253.72 L128.26,253.45 L128.61,253.17 L128.96,252.89 L129.31,252.59 L129.66,252.27 L130.01,251.91 L130.36,251.52 L130.71,251.07 L131.06,250.57 L131.41,250.01 L131.76,249.4 L132.11,248.75 L132.46,248.1 L132.81,247.45 L133.16,246.85 L133.51,246.3 L133.86,245.86 L134.21,245.53 L134.56,245.33 L134.91,245.29 L135.26,245.38 L135.61,245.62 L135.96,245.98 L136.31,246.44 L136.66,246.99 L137.01,247.6 L137.36,248.28 L137.71,249.01 L138.06,249.8 L138.41,250.66 L138.76,251.59 L139.11,252.57 L139.46,253.56 L139.81,254.52 L140.16,255.4 L140.51,256.17 L140.86,256.84 L141.21,257.4 L141.56,257.87 L141.91,258.28 L142.26,258.63 L142.61,258.92 L142.96,259.15 L143.31,259.32 L143.66,259.42 L144.01,259.47 L144.36,259.49 L144.71,259.5 L145.06,259.5 L145.41,259.5 Z" fill="#f185c5" fill-opacity="0.85" stroke="none"/>
<line x1="100.4" y1="259.5" x2="118.76" y2="259.5" stroke="#f070b8" stroke-width="0.8"/>
<line x1="145.11" y1="259.5" x2="163.4" y2="259.5" stroke="#f070b8" stroke-width="0.8"/>
<path d="M118.46,259.5 L118.81,259.5 L119.16,259.5 L119.51,259.5 L119.86,259.48 L120.21,259.45 L120.56,259.39 L120.91,259.27 L121.26,259.09 L121.61,258.87 L121.96,258.6 L122.31,258.33 L122.66,258.04 L123.01,257.75 L123.36,257.46 L123.71,257.17 L124.06,256.88 L124.41,256.59 L124.76,256.3 L125.11,256.01 L125.46,255.71 L125.81,255.42 L126.16,255.13 L126.51,254.84 L126.86,254.55 L127.21,254.27 L127.56,253.99 L127.91,253.72 L128.26,253.45 L128.61,253.17 L128.96,252.89 L129.31,252.59 L129.66,252.27 L130.01,251.91 L130.36,251.52 L130.71,251.07 L131.06,250.57 L131.41,250.01 L131.76,249.4 L132.11,248.75 L132.46,248.1 L132.81,247.45 L133.16,246.85 L133.51,246.3 L133.86,245.86 L134.21,245.53 L134.56,245.33 L134.91,245.29 L135.26,245.38 L135.61,245.62 L135.96,245.98 L136.31,246.44 L136.66,246.99 L137.01,247.6 L137.36,248.28 L137.71,249.01 L138.06,249.8 L138.41,250.66 L138.76,251.59 L139.11,252.57 L139.46,253.56 L139.81,254.52 L140.16,255.4 L140.51,256.17 L140.86,256.84 L141.21,257.4 L141.56,257.87 L141.91,258.28 L142.26,258.63 L142.61,258.92 L142.96,259.15 L143.31,259.32 L143.66,259.42 L144.01,259.47 L144.36,259.49 L144.71,259.5 L145.06,259.5 L145.41,259.5" fill="none" stroke="#ea2596" stroke-width="0.9" stroke-linejoin="round"/>
<path d="M111.44,270.57 L111.84,270.56 L112.24,270.55 L112.64,270.53 L113.03,270.5 L113.43,270.47 L113.83,270.43 L114.23,270.38 L114.63,270.31 L115.03,270.22 L115.43,270.11 L115.83,269.97 L116.22,269.77 L116.62,269.51 L117.02,269.13 L117.42,268.61 L117.82,267.89 L118.22,266.91 L118.62,265.61 L119.02,263.96 L119.41,261.95 L119.81,259.63 L120.21,257.1 L120.61,254.54 L121.01,252.17 L121.41,250.21 L121.81,248.87 L122.2,248.3 L122.6,248.56 L123,249.59 L123.4,251.26 L123.8,253.38 L124.2,255.7 L124.6,258.03 L125,260.2 L125.39,262.1 L125.79,263.69 L126.19,264.97 L126.59,265.98 L126.99,266.76 L127.39,267.37 L127.79,267.85 L128.18,268.25 L128.58,268.59 L128.98,268.88 L129.38,269.14 L129.78,269.37 L130.18,269.57 L130.58,269.75 L130.98,269.9 L131.37,270.03 L131.77,270.14 L132.17,270.24 L132.57,270.32 L132.97,270.38 L133.37,270.43 L133.77,270.47 L134.17,270.5 L134.56,270.53 L134.96,270.55 L135.36,270.56 L135.76,270.57 L135.76,270.6 L111.44,270.6 Z" fill="#d9d9d9" fill-opacity="0.6" stroke="none"/>
<path d="M111.44,270.57 L111.84,270.56 L112.24,270.55 L112.64,270.53 L113.03,270.5 L113.43,270.47 L113.83,270.43 L114.23,270.38 L114.63,270.31 L115.03,270.22 L115.43,270.11 L115.83,269.97 L116.22,269.77 L116.62,269.51 L117.02,269.13 L117.42,268.61 L117.82,267.89 L118.22,266.91 L118.62,265.61 L119.02,263.96 L119.41,261.95 L119.81,259.63 L120.21,257.1 L120.61,254.54 L121.01,252.17 L121.41,250.21 L121.81,248.87 L122.2,248.3 L122.6,248.56 L123,249.59 L123.4,251.26 L123.8,253.38 L124.2,255.7 L124.6,258.03 L125,260.2 L125.39,262.1 L125.79,263.69 L126.19,264.97 L126.59,265.98 L126.99,266.76 L127.39,267.37 L127.79,267.85 L128.18,268.25 L128.58,268.59 L128.98,268.88 L129.38,269.14 L129.78,269.37 L130.18,269.57 L130.58,269.75 L130.98,269.9 L131.37,270.03 L131.77,270.14 L132.17,270.24 L132.57,270.32 L132.97,270.38 L133.37,270.43 L133.77,270.47 L134.17,270.5 L134.56,270.53 L134.96,270.55 L135.36,270.56 L135.76,270.57" fill="none" stroke="#bcbcbc" stroke-width="0.7" stroke-linejoin="round"/>
<rect x="100.4" y="208.25" width="63" height="63.15" fill="none" stroke="#000" stroke-width="1.45"/>
<text x="98.5" y="277.8" font-size="6.2" fill="#141414" textLength="6.3" lengthAdjust="spacingAndGlyphs">10</text>
<text x="105.8" y="275.6" font-size="2.8" fill="#141414" style="stroke-width:0.1px">0</text>
<text x="116.45" y="277.8" font-size="6.2" fill="#141414" textLength="6.3" lengthAdjust="spacingAndGlyphs">10</text>
<text x="123.75" y="275.6" font-size="2.8" fill="#141414" style="stroke-width:0.1px">1</text>
<text x="134.41" y="277.8" font-size="6.2" fill="#141414" textLength="6.3" lengthAdjust="spacingAndGlyphs">10</text>
<text x="141.71" y="275.6" font-size="2.8" fill="#141414" style="stroke-width:0.1px">2</text>
<text x="152.37" y="277.8" font-size="6.2" fill="#141414" textLength="6.3" lengthAdjust="spacingAndGlyphs">10</text>
<text x="159.67" y="275.6" font-size="2.8" fill="#141414" style="stroke-width:0.1px">3</text>
<text x="181.4" y="203.5" font-size="9.9" textLength="40.8" lengthAdjust="spacingAndGlyphs">SU-DHL-5</text>
<path d="M179.92,234 L180.27,234 L180.62,234 L180.97,234 L181.32,233.99 L181.67,233.98 L182.02,233.95 L182.37,233.9 L182.72,233.82 L183.07,233.72 L183.42,233.6 L183.77,233.47 L184.12,233.34 L184.47,233.21 L184.82,233.07 L185.17,232.93 L185.52,232.79 L185.87,232.65 L186.22,232.5 L186.57,232.34 L186.92,232.19 L187.27,232.02 L187.62,231.84 L187.97,231.66 L188.32,231.47 L188.67,231.27 L189.02,231.06 L189.37,230.84 L189.72,230.61 L190.07,230.38 L190.42,230.15 L190.77,229.91 L191.12,229.66 L191.47,229.4 L191.82,229.14 L192.17,228.87 L192.52,228.6 L192.87,228.31 L193.22,228.01 L193.57,227.7 L193.92,227.38 L194.27,227.04 L194.62,226.69 L194.97,226.31 L195.32,225.91 L195.67,225.47 L196.02,225.01 L196.37,224.5 L196.72,223.96 L197.07,223.38 L197.42,222.77 L197.77,222.12 L198.12,221.46 L198.47,220.78 L198.82,220.1 L199.17,219.41 L199.52,218.73 L199.87,218.04 L200.22,217.34 L200.57,216.62 L200.92,215.87 L201.27,215.11 L201.62,214.33 L201.97,213.57 L202.32,212.83 L202.67,212.13 L203.02,211.51 L203.37,210.99 L203.72,210.6 L204.07,210.36 L204.42,210.31 L204.77,210.45 L205.12,210.78 L205.47,211.31 L205.82,212.01 L206.17,212.85 L206.52,213.78 L206.87,214.78 L207.22,215.8 L207.57,216.82 L207.92,217.83 L208.27,218.82 L208.62,219.82 L208.97,220.82 L209.32,221.83 L209.67,222.85 L210.02,223.85 L210.37,224.82 L210.72,225.75 L211.07,226.63 L211.42,227.46 L211.77,228.23 L212.12,228.96 L212.47,229.65 L212.82,230.3 L213.17,230.92 L213.52,231.52 L213.87,232.07 L214.22,232.58 L214.57,233.03 L214.92,233.38 L215.27,233.64 L215.62,233.82 L215.97,233.92 L216.32,233.97 L216.67,233.99 L217.02,234 L217.37,234 L217.72,234 L218.07,234 Z" fill="#c4b3a3" fill-opacity="1" stroke="none"/>
<line x1="170.25" y1="234" x2="180.22" y2="234" stroke="#d6cabe" stroke-width="0.8"/>
<line x1="217.77" y1="234" x2="233.1" y2="234" stroke="#d6cabe" stroke-width="0.8"/>
<path d="M179.92,234 L180.27,234 L180.62,234 L180.97,234 L181.32,233.99 L181.67,233.98 L182.02,233.95 L182.37,233.9 L182.72,233.82 L183.07,233.72 L183.42,233.6 L183.77,233.47 L184.12,233.34 L184.47,233.21 L184.82,233.07 L185.17,232.93 L185.52,232.79 L185.87,232.65 L186.22,232.5 L186.57,232.34 L186.92,232.19 L187.27,232.02 L187.62,231.84 L187.97,231.66 L188.32,231.47 L188.67,231.27 L189.02,231.06 L189.37,230.84 L189.72,230.61 L190.07,230.38 L190.42,230.15 L190.77,229.91 L191.12,229.66 L191.47,229.4 L191.82,229.14 L192.17,228.87 L192.52,228.6 L192.87,228.31 L193.22,228.01 L193.57,227.7 L193.92,227.38 L194.27,227.04 L194.62,226.69 L194.97,226.31 L195.32,225.91 L195.67,225.47 L196.02,225.01 L196.37,224.5 L196.72,223.96 L197.07,223.38 L197.42,222.77 L197.77,222.12 L198.12,221.46 L198.47,220.78 L198.82,220.1 L199.17,219.41 L199.52,218.73 L199.87,218.04 L200.22,217.34 L200.57,216.62 L200.92,215.87 L201.27,215.11 L201.62,214.33 L201.97,213.57 L202.32,212.83 L202.67,212.13 L203.02,211.51 L203.37,210.99 L203.72,210.6 L204.07,210.36 L204.42,210.31 L204.77,210.45 L205.12,210.78 L205.47,211.31 L205.82,212.01 L206.17,212.85 L206.52,213.78 L206.87,214.78 L207.22,215.8 L207.57,216.82 L207.92,217.83 L208.27,218.82 L208.62,219.82 L208.97,220.82 L209.32,221.83 L209.67,222.85 L210.02,223.85 L210.37,224.82 L210.72,225.75 L211.07,226.63 L211.42,227.46 L211.77,228.23 L212.12,228.96 L212.47,229.65 L212.82,230.3 L213.17,230.92 L213.52,231.52 L213.87,232.07 L214.22,232.58 L214.57,233.03 L214.92,233.38 L215.27,233.64 L215.62,233.82 L215.97,233.92 L216.32,233.97 L216.67,233.99 L217.02,234 L217.37,234 L217.72,234 L218.07,234" fill="none" stroke="#8a6a4c" stroke-width="0.9" stroke-linejoin="round"/>
<path d="M185.36,246.5 L185.71,246.5 L186.06,246.5 L186.41,246.49 L186.76,246.47 L187.11,246.41 L187.46,246.31 L187.81,246.16 L188.16,245.95 L188.51,245.7 L188.86,245.41 L189.21,245.08 L189.56,244.71 L189.91,244.26 L190.26,243.72 L190.61,243.02 L190.96,242.11 L191.31,240.97 L191.66,239.62 L192.01,238.14 L192.36,236.67 L192.71,235.35 L193.06,234.29 L193.41,233.51 L193.76,232.98 L194.11,232.64 L194.46,232.42 L194.81,232.28 L195.16,232.18 L195.51,232.11 L195.86,232.05 L196.21,231.98 L196.56,231.89 L196.91,231.77 L197.26,231.6 L197.61,231.38 L197.96,231.12 L198.31,230.82 L198.66,230.48 L199.01,230.12 L199.36,229.75 L199.71,229.37 L200.06,228.98 L200.41,228.6 L200.76,228.21 L201.11,227.81 L201.46,227.41 L201.81,227.01 L202.16,226.63 L202.51,226.28 L202.86,226 L203.21,225.8 L203.56,225.71 L203.91,225.73 L204.26,225.88 L204.61,226.17 L204.96,226.62 L205.31,227.24 L205.66,228.05 L206.01,229.04 L206.36,230.21 L206.71,231.54 L207.06,232.97 L207.41,234.43 L207.76,235.86 L208.11,237.2 L208.46,238.4 L208.81,239.46 L209.16,240.37 L209.51,241.17 L209.86,241.87 L210.21,242.51 L210.56,243.11 L210.91,243.67 L211.26,244.2 L211.61,244.69 L211.96,245.15 L212.31,245.55 L212.66,245.88 L213.01,246.14 L213.36,246.31 L213.71,246.42 L214.06,246.47 L214.41,246.49 L214.76,246.5 L215.11,246.5 L215.46,246.5 Z" fill="#e08a9c" fill-opacity="0.85" stroke="none"/>
<line x1="170.25" y1="246.5" x2="185.66" y2="246.5" stroke="#e0798f" stroke-width="0.8"/>
<line x1="215.16" y1="246.5" x2="233.1" y2="246.5" stroke="#e0798f" stroke-width="0.8"/>
<path d="M185.36,246.5 L185.71,246.5 L186.06,246.5 L186.41,246.49 L186.76,246.47 L187.11,246.41 L187.46,246.31 L187.81,246.16 L188.16,245.95 L188.51,245.7 L188.86,245.41 L189.21,245.08 L189.56,244.71 L189.91,244.26 L190.26,243.72 L190.61,243.02 L190.96,242.11 L191.31,240.97 L191.66,239.62 L192.01,238.14 L192.36,236.67 L192.71,235.35 L193.06,234.29 L193.41,233.51 L193.76,232.98 L194.11,232.64 L194.46,232.42 L194.81,232.28 L195.16,232.18 L195.51,232.11 L195.86,232.05 L196.21,231.98 L196.56,231.89 L196.91,231.77 L197.26,231.6 L197.61,231.38 L197.96,231.12 L198.31,230.82 L198.66,230.48 L199.01,230.12 L199.36,229.75 L199.71,229.37 L200.06,228.98 L200.41,228.6 L200.76,228.21 L201.11,227.81 L201.46,227.41 L201.81,227.01 L202.16,226.63 L202.51,226.28 L202.86,226 L203.21,225.8 L203.56,225.71 L203.91,225.73 L204.26,225.88 L204.61,226.17 L204.96,226.62 L205.31,227.24 L205.66,228.05 L206.01,229.04 L206.36,230.21 L206.71,231.54 L207.06,232.97 L207.41,234.43 L207.76,235.86 L208.11,237.2 L208.46,238.4 L208.81,239.46 L209.16,240.37 L209.51,241.17 L209.86,241.87 L210.21,242.51 L210.56,243.11 L210.91,243.67 L211.26,244.2 L211.61,244.69 L211.96,245.15 L212.31,245.55 L212.66,245.88 L213.01,246.14 L213.36,246.31 L213.71,246.42 L214.06,246.47 L214.41,246.49 L214.76,246.5 L215.11,246.5 L215.46,246.5" fill="none" stroke="#db3259" stroke-width="0.9" stroke-linejoin="round"/>
<path d="M181.31,259.5 L181.66,259.5 L182.01,259.5 L182.36,259.49 L182.71,259.45 L183.06,259.37 L183.41,259.19 L183.76,258.9 L184.11,258.47 L184.46,257.93 L184.81,257.32 L185.16,256.67 L185.51,256.01 L185.86,255.33 L186.21,254.65 L186.56,253.97 L186.91,253.29 L187.26,252.59 L187.61,251.89 L187.96,251.16 L188.31,250.42 L188.66,249.63 L189.01,248.79 L189.36,247.87 L189.71,246.88 L190.06,245.83 L190.41,244.75 L190.76,243.7 L191.11,242.7 L191.46,241.8 L191.81,241.03 L192.16,240.46 L192.51,240.12 L192.86,240.03 L193.21,240.17 L193.56,240.52 L193.91,241.01 L194.26,241.59 L194.61,242.2 L194.96,242.81 L195.31,243.39 L195.66,243.93 L196.01,244.43 L196.36,244.89 L196.71,245.29 L197.06,245.61 L197.41,245.85 L197.76,245.98 L198.11,246 L198.46,245.92 L198.81,245.75 L199.16,245.51 L199.51,245.22 L199.86,244.9 L200.21,244.58 L200.56,244.27 L200.91,244 L201.26,243.78 L201.61,243.63 L201.96,243.56 L202.31,243.57 L202.66,243.67 L203.01,243.85 L203.36,244.09 L203.71,244.41 L204.06,244.78 L204.41,245.22 L204.76,245.73 L205.11,246.3 L205.46,246.97 L205.81,247.72 L206.16,248.57 L206.51,249.48 L206.86,250.42 L207.21,251.36 L207.56,252.25 L207.91,253.06 L208.26,253.8 L208.61,254.46 L208.96,255.06 L209.31,255.61 L209.66,256.11 L210.01,256.58 L210.36,257.01 L210.71,257.41 L211.06,257.77 L211.41,258.11 L211.76,258.42 L212.11,258.7 L212.46,258.95 L212.81,259.15 L213.16,259.31 L213.51,259.41 L213.86,259.46 L214.21,259.49 L214.56,259.5 L214.91,259.5 L215.26,259.5 L215.61,259.5 Z" fill="#f185c5" fill-opacity="0.85" stroke="none"/>
<line x1="170.25" y1="259.5" x2="181.61" y2="259.5" stroke="#f070b8" stroke-width="0.8"/>
<line x1="215.31" y1="259.5" x2="233.1" y2="259.5" stroke="#f070b8" stroke-width="0.8"/>
<path d="M181.31,259.5 L181.66,259.5 L182.01,259.5 L182.36,259.49 L182.71,259.45 L183.06,259.37 L183.41,259.19 L183.76,258.9 L184.11,258.47 L184.46,257.93 L184.81,257.32 L185.16,256.67 L185.51,256.01 L185.86,255.33 L186.21,254.65 L186.56,253.97 L186.91,253.29 L187.26,252.59 L187.61,251.89 L187.96,251.16 L188.31,250.42 L188.66,249.63 L189.01,248.79 L189.36,247.87 L189.71,246.88 L190.06,245.83 L190.41,244.75 L190.76,243.7 L191.11,242.7 L191.46,241.8 L191.81,241.03 L192.16,240.46 L192.51,240.12 L192.86,240.03 L193.21,240.17 L193.56,240.52 L193.91,241.01 L194.26,241.59 L194.61,242.2 L194.96,242.81 L195.31,243.39 L195.66,243.93 L196.01,244.43 L196.36,244.89 L196.71,245.29 L197.06,245.61 L197.41,245.85 L197.76,245.98 L198.11,246 L198.46,245.92 L198.81,245.75 L199.16,245.51 L199.51,245.22 L199.86,244.9 L200.21,244.58 L200.56,244.27 L200.91,244 L201.26,243.78 L201.61,243.63 L201.96,243.56 L202.31,243.57 L202.66,243.67 L203.01,243.85 L203.36,244.09 L203.71,244.41 L204.06,244.78 L204.41,245.22 L204.76,245.73 L205.11,246.3 L205.46,246.97 L205.81,247.72 L206.16,248.57 L206.51,249.48 L206.86,250.42 L207.21,251.36 L207.56,252.25 L207.91,253.06 L208.26,253.8 L208.61,254.46 L208.96,255.06 L209.31,255.61 L209.66,256.11 L210.01,256.58 L210.36,257.01 L210.71,257.41 L211.06,257.77 L211.41,258.11 L211.76,258.42 L212.11,258.7 L212.46,258.95 L212.81,259.15 L213.16,259.31 L213.51,259.41 L213.86,259.46 L214.21,259.49 L214.56,259.5 L214.91,259.5 L215.26,259.5 L215.61,259.5" fill="none" stroke="#ea2596" stroke-width="0.9" stroke-linejoin="round"/>
<path d="M177,270.58 L177.39,270.57 L177.79,270.56 L178.18,270.54 L178.58,270.52 L178.97,270.5 L179.36,270.47 L179.76,270.43 L180.15,270.38 L180.54,270.32 L180.94,270.24 L181.33,270.14 L181.73,270.02 L182.12,269.86 L182.51,269.66 L182.91,269.38 L183.3,269.02 L183.7,268.54 L184.09,267.91 L184.48,267.09 L184.88,266.04 L185.27,264.74 L185.66,263.17 L186.06,261.34 L186.45,259.3 L186.85,257.12 L187.24,254.9 L187.63,252.79 L188.03,250.92 L188.42,249.45 L188.82,248.5 L189.21,248.14 L189.6,248.41 L190,249.28 L190.39,250.66 L190.78,252.45 L191.18,254.48 L191.57,256.63 L191.97,258.75 L192.36,260.75 L192.75,262.54 L193.15,264.08 L193.54,265.38 L193.94,266.43 L194.33,267.27 L194.72,267.93 L195.12,268.45 L195.51,268.85 L195.9,269.17 L196.3,269.43 L196.69,269.64 L197.09,269.81 L197.48,269.95 L197.87,270.07 L198.27,270.17 L198.66,270.25 L199.06,270.32 L199.45,270.38 L199.84,270.43 L200.24,270.47 L200.63,270.5 L201.02,270.52 L201.42,270.54 L201.81,270.56 L202.21,270.57 L202.6,270.58 L202.6,270.6 L177,270.6 Z" fill="#d9d9d9" fill-opacity="0.6" stroke="none"/>
<path d="M177,270.58 L177.39,270.57 L177.79,270.56 L178.18,270.54 L178.58,270.52 L178.97,270.5 L179.36,270.47 L179.76,270.43 L180.15,270.38 L180.54,270.32 L180.94,270.24 L181.33,270.14 L181.73,270.02 L182.12,269.86 L182.51,269.66 L182.91,269.38 L183.3,269.02 L183.7,268.54 L184.09,267.91 L184.48,267.09 L184.88,266.04 L185.27,264.74 L185.66,263.17 L186.06,261.34 L186.45,259.3 L186.85,257.12 L187.24,254.9 L187.63,252.79 L188.03,250.92 L188.42,249.45 L188.82,248.5 L189.21,248.14 L189.6,248.41 L190,249.28 L190.39,250.66 L190.78,252.45 L191.18,254.48 L191.57,256.63 L191.97,258.75 L192.36,260.75 L192.75,262.54 L193.15,264.08 L193.54,265.38 L193.94,266.43 L194.33,267.27 L194.72,267.93 L195.12,268.45 L195.51,268.85 L195.9,269.17 L196.3,269.43 L196.69,269.64 L197.09,269.81 L197.48,269.95 L197.87,270.07 L198.27,270.17 L198.66,270.25 L199.06,270.32 L199.45,270.38 L199.84,270.43 L200.24,270.47 L200.63,270.5 L201.02,270.52 L201.42,270.54 L201.81,270.56 L202.21,270.57 L202.6,270.58" fill="none" stroke="#bcbcbc" stroke-width="0.7" stroke-linejoin="round"/>
<rect x="170.25" y="208.25" width="62.85" height="63.15" fill="none" stroke="#000" stroke-width="1.45"/>
<text x="168.35" y="277.8" font-size="6.2" fill="#141414" textLength="6.3" lengthAdjust="spacingAndGlyphs">10</text>
<text x="175.65" y="275.6" font-size="2.8" fill="#141414" style="stroke-width:0.1px">0</text>
<text x="186.26" y="277.8" font-size="6.2" fill="#141414" textLength="6.3" lengthAdjust="spacingAndGlyphs">10</text>
<text x="193.56" y="275.6" font-size="2.8" fill="#141414" style="stroke-width:0.1px">1</text>
<text x="204.17" y="277.8" font-size="6.2" fill="#141414" textLength="6.3" lengthAdjust="spacingAndGlyphs">10</text>
<text x="211.47" y="275.6" font-size="2.8" fill="#141414" style="stroke-width:0.1px">2</text>
<text x="222.09" y="277.8" font-size="6.2" fill="#141414" textLength="6.3" lengthAdjust="spacingAndGlyphs">10</text>
<text x="229.39" y="275.6" font-size="2.8" fill="#141414" style="stroke-width:0.1px">3</text>
<text x="242.8" y="203.5" font-size="9.9" textLength="57.8" lengthAdjust="spacingAndGlyphs">WSU-DLCL-2</text>
<path d="M255.97,234 L256.32,234 L256.67,234 L257.02,233.99 L257.37,233.98 L257.72,233.96 L258.07,233.91 L258.42,233.82 L258.77,233.7 L259.12,233.56 L259.47,233.4 L259.82,233.23 L260.17,233.04 L260.52,232.85 L260.87,232.64 L261.22,232.41 L261.57,232.15 L261.92,231.84 L262.27,231.48 L262.62,231.03 L262.97,230.48 L263.32,229.81 L263.67,229.01 L264.02,228.1 L264.37,227.14 L264.72,226.18 L265.07,225.26 L265.42,224.43 L265.77,223.7 L266.12,223.07 L266.47,222.53 L266.82,222.09 L267.17,221.75 L267.52,221.55 L267.87,221.47 L268.22,221.54 L268.57,221.74 L268.92,222.08 L269.27,222.53 L269.62,223.05 L269.97,223.63 L270.32,224.22 L270.67,224.8 L271.02,225.34 L271.37,225.79 L271.72,226.13 L272.07,226.32 L272.42,226.34 L272.77,226.17 L273.12,225.82 L273.47,225.3 L273.82,224.65 L274.17,223.9 L274.52,223.1 L274.87,222.27 L275.22,221.42 L275.57,220.58 L275.92,219.74 L276.27,218.97 L276.62,218.34 L276.97,217.98 L277.32,217.97 L277.67,218.36 L278.02,219.16 L278.37,220.31 L278.72,221.7 L279.07,223.26 L279.42,224.87 L279.77,226.46 L280.12,227.99 L280.47,229.41 L280.82,230.66 L281.17,231.71 L281.52,232.53 L281.87,233.12 L282.22,233.51 L282.57,233.76 L282.92,233.89 L283.27,233.96 L283.62,233.99 L283.97,234 L284.32,234 L284.67,234 Z" fill="#c4b3a3" fill-opacity="1" stroke="none"/>
<line x1="240.25" y1="234" x2="256.27" y2="234" stroke="#d6cabe" stroke-width="0.8"/>
<line x1="284.37" y1="234" x2="303.15" y2="234" stroke="#d6cabe" stroke-width="0.8"/>
<path d="M255.97,234 L256.32,234 L256.67,234 L257.02,233.99 L257.37,233.98 L257.72,233.96 L258.07,233.91 L258.42,233.82 L258.77,233.7 L259.12,233.56 L259.47,233.4 L259.82,233.23 L260.17,233.04 L260.52,232.85 L260.87,232.64 L261.22,232.41 L261.57,232.15 L261.92,231.84 L262.27,231.48 L262.62,231.03 L262.97,230.48 L263.32,229.81 L263.67,229.01 L264.02,228.1 L264.37,227.14 L264.72,226.18 L265.07,225.26 L265.42,224.43 L265.77,223.7 L266.12,223.07 L266.47,222.53 L266.82,222.09 L267.17,221.75 L267.52,221.55 L267.87,221.47 L268.22,221.54 L268.57,221.74 L268.92,222.08 L269.27,222.53 L269.62,223.05 L269.97,223.63 L270.32,224.22 L270.67,224.8 L271.02,225.34 L271.37,225.79 L271.72,226.13 L272.07,226.32 L272.42,226.34 L272.77,226.17 L273.12,225.82 L273.47,225.3 L273.82,224.65 L274.17,223.9 L274.52,223.1 L274.87,222.27 L275.22,221.42 L275.57,220.58 L275.92,219.74 L276.27,218.97 L276.62,218.34 L276.97,217.98 L277.32,217.97 L277.67,218.36 L278.02,219.16 L278.37,220.31 L278.72,221.7 L279.07,223.26 L279.42,224.87 L279.77,226.46 L280.12,227.99 L280.47,229.41 L280.82,230.66 L281.17,231.71 L281.52,232.53 L281.87,233.12 L282.22,233.51 L282.57,233.76 L282.92,233.89 L283.27,233.96 L283.62,233.99 L283.97,234 L284.32,234 L284.67,234" fill="none" stroke="#8a6a4c" stroke-width="0.9" stroke-linejoin="round"/>
<path d="M253.96,246.5 L254.31,246.5 L254.66,246.5 L255.01,246.5 L255.36,246.49 L255.71,246.48 L256.06,246.46 L256.41,246.43 L256.76,246.39 L257.11,246.34 L257.46,246.29 L257.81,246.23 L258.16,246.16 L258.51,246.07 L258.86,245.94 L259.21,245.77 L259.56,245.55 L259.91,245.23 L260.26,244.79 L260.61,244.18 L260.96,243.35 L261.31,242.23 L261.66,240.82 L262.01,239.13 L262.36,237.24 L262.71,235.25 L263.06,233.28 L263.41,231.42 L263.76,229.69 L264.11,228.11 L264.46,226.69 L264.81,225.44 L265.16,224.42 L265.51,223.71 L265.86,223.37 L266.21,223.44 L266.56,223.94 L266.91,224.83 L267.26,226.01 L267.61,227.38 L267.96,228.81 L268.31,230.22 L268.66,231.54 L269.01,232.77 L269.36,233.92 L269.71,234.99 L270.06,235.98 L270.41,236.89 L270.76,237.67 L271.11,238.3 L271.46,238.76 L271.81,239.02 L272.16,239.07 L272.51,238.93 L272.86,238.63 L273.21,238.2 L273.56,237.68 L273.91,237.12 L274.26,236.54 L274.61,235.94 L274.96,235.32 L275.31,234.7 L275.66,234.11 L276.01,233.61 L276.36,233.28 L276.71,233.19 L277.06,233.4 L277.41,233.94 L277.76,234.78 L278.11,235.86 L278.46,237.12 L278.81,238.49 L279.16,239.92 L279.51,241.33 L279.86,242.68 L280.21,243.87 L280.56,244.83 L280.91,245.53 L281.26,245.99 L281.61,246.25 L281.96,246.39 L282.31,246.46 L282.66,246.49 L283.01,246.5 L283.36,246.5 L283.71,246.5 L284.06,246.5 Z" fill="#e08a9c" fill-opacity="0.85" stroke="none"/>
<line x1="240.25" y1="246.5" x2="254.26" y2="246.5" stroke="#e0798f" stroke-width="0.8"/>
<line x1="283.76" y1="246.5" x2="303.15" y2="246.5" stroke="#e0798f" stroke-width="0.8"/>
<path d="M253.96,246.5 L254.31,246.5 L254.66,246.5 L255.01,246.5 L255.36,246.49 L255.71,246.48 L256.06,246.46 L256.41,246.43 L256.76,246.39 L257.11,246.34 L257.46,246.29 L257.81,246.23 L258.16,246.16 L258.51,246.07 L258.86,245.94 L259.21,245.77 L259.56,245.55 L259.91,245.23 L260.26,244.79 L260.61,244.18 L260.96,243.35 L261.31,242.23 L261.66,240.82 L262.01,239.13 L262.36,237.24 L262.71,235.25 L263.06,233.28 L263.41,231.42 L263.76,229.69 L264.11,228.11 L264.46,226.69 L264.81,225.44 L265.16,224.42 L265.51,223.71 L265.86,223.37 L266.21,223.44 L266.56,223.94 L266.91,224.83 L267.26,226.01 L267.61,227.38 L267.96,228.81 L268.31,230.22 L268.66,231.54 L269.01,232.77 L269.36,233.92 L269.71,234.99 L270.06,235.98 L270.41,236.89 L270.76,237.67 L271.11,238.3 L271.46,238.76 L271.81,239.02 L272.16,239.07 L272.51,238.93 L272.86,238.63 L273.21,238.2 L273.56,237.68 L273.91,237.12 L274.26,236.54 L274.61,235.94 L274.96,235.32 L275.31,234.7 L275.66,234.11 L276.01,233.61 L276.36,233.28 L276.71,233.19 L277.06,233.4 L277.41,233.94 L277.76,234.78 L278.11,235.86 L278.46,237.12 L278.81,238.49 L279.16,239.92 L279.51,241.33 L279.86,242.68 L280.21,243.87 L280.56,244.83 L280.91,245.53 L281.26,245.99 L281.61,246.25 L281.96,246.39 L282.31,246.46 L282.66,246.49 L283.01,246.5 L283.36,246.5 L283.71,246.5 L284.06,246.5" fill="none" stroke="#db3259" stroke-width="0.9" stroke-linejoin="round"/>
<path d="M254.06,259.5 L254.41,259.5 L254.76,259.5 L255.11,259.49 L255.46,259.47 L255.81,259.42 L256.16,259.34 L256.51,259.2 L256.86,259.02 L257.21,258.8 L257.56,258.54 L257.91,258.23 L258.26,257.86 L258.61,257.4 L258.96,256.82 L259.31,256.07 L259.66,255.12 L260.01,253.94 L260.36,252.54 L260.71,250.95 L261.06,249.23 L261.41,247.47 L261.76,245.74 L262.11,244.06 L262.46,242.47 L262.81,240.97 L263.16,239.56 L263.51,238.29 L263.86,237.24 L264.21,236.5 L264.56,236.2 L264.91,236.42 L265.26,237.19 L265.61,238.47 L265.96,240.09 L266.31,241.87 L266.66,243.65 L267.01,245.3 L267.36,246.81 L267.71,248.17 L268.06,249.42 L268.41,250.54 L268.76,251.52 L269.11,252.34 L269.46,252.97 L269.81,253.42 L270.16,253.7 L270.51,253.82 L270.86,253.83 L271.21,253.76 L271.56,253.66 L271.91,253.54 L272.26,253.41 L272.61,253.27 L272.96,253.12 L273.31,252.95 L273.66,252.78 L274.01,252.62 L274.36,252.47 L274.71,252.35 L275.06,252.28 L275.41,252.26 L275.76,252.33 L276.11,252.5 L276.46,252.77 L276.81,253.15 L277.16,253.62 L277.51,254.15 L277.86,254.72 L278.21,255.28 L278.56,255.83 L278.91,256.35 L279.26,256.85 L279.61,257.33 L279.96,257.8 L280.31,258.24 L280.66,258.64 L281.01,258.97 L281.36,259.22 L281.71,259.37 L282.06,259.45 L282.41,259.48 L282.76,259.5 L283.11,259.5 L283.46,259.5 Z" fill="#f185c5" fill-opacity="0.85" stroke="none"/>
<line x1="240.25" y1="259.5" x2="254.36" y2="259.5" stroke="#f070b8" stroke-width="0.8"/>
<line x1="283.16" y1="259.5" x2="303.15" y2="259.5" stroke="#f070b8" stroke-width="0.8"/>
<path d="M254.06,259.5 L254.41,259.5 L254.76,259.5 L255.11,259.49 L255.46,259.47 L255.81,259.42 L256.16,259.34 L256.51,259.2 L256.86,259.02 L257.21,258.8 L257.56,258.54 L257.91,258.23 L258.26,257.86 L258.61,257.4 L258.96,256.82 L259.31,256.07 L259.66,255.12 L260.01,253.94 L260.36,252.54 L260.71,250.95 L261.06,249.23 L261.41,247.47 L261.76,245.74 L262.11,244.06 L262.46,242.47 L262.81,240.97 L263.16,239.56 L263.51,238.29 L263.86,237.24 L264.21,236.5 L264.56,236.2 L264.91,236.42 L265.26,237.19 L265.61,238.47 L265.96,240.09 L266.31,241.87 L266.66,243.65 L267.01,245.3 L267.36,246.81 L267.71,248.17 L268.06,249.42 L268.41,250.54 L268.76,251.52 L269.11,252.34 L269.46,252.97 L269.81,253.42 L270.16,253.7 L270.51,253.82 L270.86,253.83 L271.21,253.76 L271.56,253.66 L271.91,253.54 L272.26,253.41 L272.61,253.27 L272.96,253.12 L273.31,252.95 L273.66,252.78 L274.01,252.62 L274.36,252.47 L274.71,252.35 L275.06,252.28 L275.41,252.26 L275.76,252.33 L276.11,252.5 L276.46,252.77 L276.81,253.15 L277.16,253.62 L277.51,254.15 L277.86,254.72 L278.21,255.28 L278.56,255.83 L278.91,256.35 L279.26,256.85 L279.61,257.33 L279.96,257.8 L280.31,258.24 L280.66,258.64 L281.01,258.97 L281.36,259.22 L281.71,259.37 L282.06,259.45 L282.41,259.48 L282.76,259.5 L283.11,259.5 L283.46,259.5" fill="none" stroke="#ea2596" stroke-width="0.9" stroke-linejoin="round"/>
<path d="M251.78,270.58 L252.18,270.57 L252.57,270.55 L252.97,270.53 L253.37,270.51 L253.77,270.48 L254.16,270.44 L254.56,270.39 L254.96,270.32 L255.36,270.24 L255.75,270.14 L256.15,270 L256.55,269.83 L256.94,269.59 L257.34,269.28 L257.74,268.84 L258.14,268.24 L258.53,267.41 L258.93,266.3 L259.33,264.85 L259.72,263.03 L260.12,260.85 L260.52,258.39 L260.92,255.76 L261.31,253.17 L261.71,250.85 L262.11,249.03 L262.51,247.92 L262.9,247.65 L263.3,248.25 L263.7,249.63 L264.09,251.63 L264.49,254.03 L264.89,256.59 L265.29,259.09 L265.68,261.38 L266.08,263.35 L266.48,264.97 L266.88,266.25 L267.27,267.23 L267.67,267.97 L268.07,268.53 L268.46,268.95 L268.86,269.27 L269.26,269.52 L269.66,269.73 L270.05,269.9 L270.45,270.04 L270.85,270.15 L271.24,270.25 L271.64,270.33 L272.04,270.39 L272.44,270.44 L272.83,270.48 L273.23,270.51 L273.63,270.53 L274.03,270.55 L274.42,270.57 L274.82,270.58 L274.82,270.6 L251.78,270.6 Z" fill="#d9d9d9" fill-opacity="0.6" stroke="none"/>
<path d="M251.78,270.58 L252.18,270.57 L252.57,270.55 L252.97,270.53 L253.37,270.51 L253.77,270.48 L254.16,270.44 L254.56,270.39 L254.96,270.32 L255.36,270.24 L255.75,270.14 L256.15,270 L256.55,269.83 L256.94,269.59 L257.34,269.28 L257.74,268.84 L258.14,268.24 L258.53,267.41 L258.93,266.3 L259.33,264.85 L259.72,263.03 L260.12,260.85 L260.52,258.39 L260.92,255.76 L261.31,253.17 L261.71,250.85 L262.11,249.03 L262.51,247.92 L262.9,247.65 L263.3,248.25 L263.7,249.63 L264.09,251.63 L264.49,254.03 L264.89,256.59 L265.29,259.09 L265.68,261.38 L266.08,263.35 L266.48,264.97 L266.88,266.25 L267.27,267.23 L267.67,267.97 L268.07,268.53 L268.46,268.95 L268.86,269.27 L269.26,269.52 L269.66,269.73 L270.05,269.9 L270.45,270.04 L270.85,270.15 L271.24,270.25 L271.64,270.33 L272.04,270.39 L272.44,270.44 L272.83,270.48 L273.23,270.51 L273.63,270.53 L274.03,270.55 L274.42,270.57 L274.82,270.58" fill="none" stroke="#bcbcbc" stroke-width="0.7" stroke-linejoin="round"/>
<rect x="240.25" y="208.25" width="62.9" height="63.15" fill="none" stroke="#000" stroke-width="1.45"/>
<text x="238.35" y="277.8" font-size="6.2" fill="#141414" textLength="6.3" lengthAdjust="spacingAndGlyphs">10</text>
<text x="245.65" y="275.6" font-size="2.8" fill="#141414" style="stroke-width:0.1px">0</text>
<text x="256.28" y="277.8" font-size="6.2" fill="#141414" textLength="6.3" lengthAdjust="spacingAndGlyphs">10</text>
<text x="263.58" y="275.6" font-size="2.8" fill="#141414" style="stroke-width:0.1px">1</text>
<text x="274.2" y="277.8" font-size="6.2" fill="#141414" textLength="6.3" lengthAdjust="spacingAndGlyphs">10</text>
<text x="281.5" y="275.6" font-size="2.8" fill="#141414" style="stroke-width:0.1px">2</text>
<text x="292.13" y="277.8" font-size="6.2" fill="#141414" textLength="6.3" lengthAdjust="spacingAndGlyphs">10</text>
<text x="299.43" y="275.6" font-size="2.8" fill="#141414" style="stroke-width:0.1px">3</text>
<text x="325.5" y="203.5" font-size="9.9" textLength="33.9" lengthAdjust="spacingAndGlyphs">OCI-Ly7</text>
<path d="M327.12,234 L327.47,234 L327.82,234 L328.17,234 L328.52,234 L328.87,233.99 L329.22,233.97 L329.57,233.93 L329.92,233.88 L330.27,233.81 L330.62,233.73 L330.97,233.65 L331.32,233.57 L331.67,233.48 L332.02,233.4 L332.37,233.3 L332.72,233.21 L333.07,233.11 L333.42,233 L333.77,232.88 L334.12,232.76 L334.47,232.62 L334.82,232.46 L335.17,232.29 L335.52,232.09 L335.87,231.87 L336.22,231.61 L336.57,231.32 L336.92,231 L337.27,230.63 L337.62,230.23 L337.97,229.8 L338.32,229.34 L338.67,228.85 L339.02,228.35 L339.37,227.83 L339.72,227.3 L340.07,226.78 L340.42,226.26 L340.77,225.73 L341.12,225.2 L341.47,224.66 L341.82,224.11 L342.17,223.55 L342.52,222.98 L342.87,222.42 L343.22,221.87 L343.57,221.34 L343.92,220.85 L344.27,220.39 L344.62,219.98 L344.97,219.63 L345.32,219.32 L345.67,219.07 L346.02,218.87 L346.37,218.74 L346.72,218.66 L347.07,218.64 L347.42,218.68 L347.77,218.77 L348.12,218.92 L348.47,219.12 L348.82,219.38 L349.17,219.68 L349.52,220.04 L349.87,220.45 L350.22,220.92 L350.57,221.44 L350.92,222.02 L351.27,222.65 L351.62,223.33 L351.97,224.05 L352.32,224.78 L352.67,225.52 L353.02,226.25 L353.37,226.95 L353.72,227.63 L354.07,228.28 L354.42,228.91 L354.77,229.51 L355.12,230.09 L355.47,230.66 L355.82,231.21 L356.17,231.74 L356.52,232.24 L356.87,232.7 L357.22,233.1 L357.57,233.42 L357.92,233.66 L358.27,233.82 L358.62,233.92 L358.97,233.97 L359.32,233.99 L359.67,234 L360.02,234 L360.37,234 L360.72,234 Z" fill="#c4b3a3" fill-opacity="1" stroke="none"/>
<line x1="310.85" y1="234" x2="327.42" y2="234" stroke="#d6cabe" stroke-width="0.8"/>
<line x1="360.42" y1="234" x2="373.8" y2="234" stroke="#d6cabe" stroke-width="0.8"/>
<path d="M327.12,234 L327.47,234 L327.82,234 L328.17,234 L328.52,234 L328.87,233.99 L329.22,233.97 L329.57,233.93 L329.92,233.88 L330.27,233.81 L330.62,233.73 L330.97,233.65 L331.32,233.57 L331.67,233.48 L332.02,233.4 L332.37,233.3 L332.72,233.21 L333.07,233.11 L333.42,233 L333.77,232.88 L334.12,232.76 L334.47,232.62 L334.82,232.46 L335.17,232.29 L335.52,232.09 L335.87,231.87 L336.22,231.61 L336.57,231.32 L336.92,231 L337.27,230.63 L337.62,230.23 L337.97,229.8 L338.32,229.34 L338.67,228.85 L339.02,228.35 L339.37,227.83 L339.72,227.3 L340.07,226.78 L340.42,226.26 L340.77,225.73 L341.12,225.2 L341.47,224.66 L341.82,224.11 L342.17,223.55 L342.52,222.98 L342.87,222.42 L343.22,221.87 L343.57,221.34 L343.92,220.85 L344.27,220.39 L344.62,219.98 L344.97,219.63 L345.32,219.32 L345.67,219.07 L346.02,218.87 L346.37,218.74 L346.72,218.66 L347.07,218.64 L347.42,218.68 L347.77,218.77 L348.12,218.92 L348.47,219.12 L348.82,219.38 L349.17,219.68 L349.52,220.04 L349.87,220.45 L350.22,220.92 L350.57,221.44 L350.92,222.02 L351.27,222.65 L351.62,223.33 L351.97,224.05 L352.32,224.78 L352.67,225.52 L353.02,226.25 L353.37,226.95 L353.72,227.63 L354.07,228.28 L354.42,228.91 L354.77,229.51 L355.12,230.09 L355.47,230.66 L355.82,231.21 L356.17,231.74 L356.52,232.24 L356.87,232.7 L357.22,233.1 L357.57,233.42 L357.92,233.66 L358.27,233.82 L358.62,233.92 L358.97,233.97 L359.32,233.99 L359.67,234 L360.02,234 L360.37,234 L360.72,234" fill="none" stroke="#8a6a4c" stroke-width="0.9" stroke-linejoin="round"/>
<path d="M326.01,246.5 L326.36,246.5 L326.71,246.5 L327.06,246.49 L327.41,246.48 L327.76,246.45 L328.11,246.4 L328.46,246.32 L328.81,246.2 L329.16,246.06 L329.51,245.91 L329.86,245.73 L330.21,245.55 L330.56,245.35 L330.91,245.13 L331.26,244.89 L331.61,244.61 L331.96,244.29 L332.31,243.92 L332.66,243.49 L333.01,243 L333.36,242.47 L333.71,241.9 L334.06,241.31 L334.41,240.72 L334.76,240.13 L335.11,239.56 L335.46,239.02 L335.81,238.51 L336.16,238.05 L336.51,237.64 L336.86,237.3 L337.21,237.07 L337.56,236.95 L337.91,236.96 L338.26,237.07 L338.61,237.28 L338.96,237.56 L339.31,237.88 L339.66,238.2 L340.01,238.5 L340.36,238.74 L340.71,238.91 L341.06,238.99 L341.41,238.97 L341.76,238.87 L342.11,238.69 L342.46,238.47 L342.81,238.21 L343.16,237.94 L343.51,237.67 L343.86,237.41 L344.21,237.17 L344.56,236.95 L344.91,236.75 L345.26,236.57 L345.61,236.44 L345.96,236.37 L346.31,236.35 L346.66,236.4 L347.01,236.49 L347.36,236.64 L347.71,236.81 L348.06,237.02 L348.41,237.24 L348.76,237.49 L349.11,237.75 L349.46,238.03 L349.81,238.32 L350.16,238.63 L350.51,238.96 L350.86,239.31 L351.21,239.69 L351.56,240.08 L351.91,240.5 L352.26,240.93 L352.61,241.37 L352.96,241.81 L353.31,242.24 L353.66,242.66 L354.01,243.06 L354.36,243.45 L354.71,243.83 L355.06,244.2 L355.41,244.55 L355.76,244.88 L356.11,245.18 L356.46,245.46 L356.81,245.71 L357.16,245.92 L357.51,246.1 L357.86,246.24 L358.21,246.35 L358.56,246.42 L358.91,246.47 L359.26,246.49 L359.61,246.5 L359.96,246.5 L360.31,246.5 L360.66,246.5 Z" fill="#e08a9c" fill-opacity="0.85" stroke="none"/>
<line x1="310.85" y1="246.5" x2="326.31" y2="246.5" stroke="#e0798f" stroke-width="0.8"/>
<line x1="360.36" y1="246.5" x2="373.8" y2="246.5" stroke="#e0798f" stroke-width="0.8"/>
<path d="M326.01,246.5 L326.36,246.5 L326.71,246.5 L327.06,246.49 L327.41,246.48 L327.76,246.45 L328.11,246.4 L328.46,246.32 L328.81,246.2 L329.16,246.06 L329.51,245.91 L329.86,245.73 L330.21,245.55 L330.56,245.35 L330.91,245.13 L331.26,244.89 L331.61,244.61 L331.96,244.29 L332.31,243.92 L332.66,243.49 L333.01,243 L333.36,242.47 L333.71,241.9 L334.06,241.31 L334.41,240.72 L334.76,240.13 L335.11,239.56 L335.46,239.02 L335.81,238.51 L336.16,238.05 L336.51,237.64 L336.86,237.3 L337.21,237.07 L337.56,236.95 L337.91,236.96 L338.26,237.07 L338.61,237.28 L338.96,237.56 L339.31,237.88 L339.66,238.2 L340.01,238.5 L340.36,238.74 L340.71,238.91 L341.06,238.99 L341.41,238.97 L341.76,238.87 L342.11,238.69 L342.46,238.47 L342.81,238.21 L343.16,237.94 L343.51,237.67 L343.86,237.41 L344.21,237.17 L344.56,236.95 L344.91,236.75 L345.26,236.57 L345.61,236.44 L345.96,236.37 L346.31,236.35 L346.66,236.4 L347.01,236.49 L347.36,236.64 L347.71,236.81 L348.06,237.02 L348.41,237.24 L348.76,237.49 L349.11,237.75 L349.46,238.03 L349.81,238.32 L350.16,238.63 L350.51,238.96 L350.86,239.31 L351.21,239.69 L351.56,240.08 L351.91,240.5 L352.26,240.93 L352.61,241.37 L352.96,241.81 L353.31,242.24 L353.66,242.66 L354.01,243.06 L354.36,243.45 L354.71,243.83 L355.06,244.2 L355.41,244.55 L355.76,244.88 L356.11,245.18 L356.46,245.46 L356.81,245.71 L357.16,245.92 L357.51,246.1 L357.86,246.24 L358.21,246.35 L358.56,246.42 L358.91,246.47 L359.26,246.49 L359.61,246.5 L359.96,246.5 L360.31,246.5 L360.66,246.5" fill="none" stroke="#db3259" stroke-width="0.9" stroke-linejoin="round"/>
<path d="M325.31,259.5 L325.66,259.5 L326.01,259.5 L326.36,259.49 L326.71,259.47 L327.06,259.43 L327.41,259.34 L327.76,259.2 L328.11,259.02 L328.46,258.79 L328.81,258.53 L329.16,258.25 L329.51,257.96 L329.86,257.64 L330.21,257.31 L330.56,256.93 L330.91,256.51 L331.26,256.02 L331.61,255.46 L331.96,254.8 L332.31,254.05 L332.66,253.21 L333.01,252.31 L333.36,251.37 L333.71,250.4 L334.06,249.42 L334.41,248.43 L334.76,247.43 L335.11,246.43 L335.46,245.46 L335.81,244.56 L336.16,243.8 L336.51,243.24 L336.86,242.93 L337.21,242.92 L337.56,243.22 L337.91,243.79 L338.26,244.56 L338.61,245.47 L338.96,246.43 L339.31,247.39 L339.66,248.33 L340.01,249.24 L340.36,250.12 L340.71,250.94 L341.06,251.68 L341.41,252.3 L341.76,252.81 L342.11,253.19 L342.46,253.46 L342.81,253.63 L343.16,253.73 L343.51,253.78 L343.86,253.78 L344.21,253.76 L344.56,253.73 L344.91,253.68 L345.26,253.63 L345.61,253.58 L345.96,253.53 L346.31,253.46 L346.66,253.39 L347.01,253.31 L347.36,253.24 L347.71,253.19 L348.06,253.18 L348.41,253.2 L348.76,253.27 L349.11,253.37 L349.46,253.49 L349.81,253.64 L350.16,253.8 L350.51,253.97 L350.86,254.15 L351.21,254.35 L351.56,254.55 L351.91,254.76 L352.26,254.99 L352.61,255.23 L352.96,255.49 L353.31,255.77 L353.66,256.06 L354.01,256.37 L354.36,256.68 L354.71,257.01 L355.06,257.33 L355.41,257.66 L355.76,257.97 L356.11,258.28 L356.46,258.58 L356.81,258.85 L357.16,259.09 L357.51,259.27 L357.86,259.39 L358.21,259.45 L358.56,259.48 L358.91,259.5 L359.26,259.5 L359.61,259.5 L359.96,259.5 Z" fill="#f185c5" fill-opacity="0.85" stroke="none"/>
<line x1="310.85" y1="259.5" x2="325.61" y2="259.5" stroke="#f070b8" stroke-width="0.8"/>
<line x1="359.66" y1="259.5" x2="373.8" y2="259.5" stroke="#f070b8" stroke-width="0.8"/>
<path d="M325.31,259.5 L325.66,259.5 L326.01,259.5 L326.36,259.49 L326.71,259.47 L327.06,259.43 L327.41,259.34 L327.76,259.2 L328.11,259.02 L328.46,258.79 L328.81,258.53 L329.16,258.25 L329.51,257.96 L329.86,257.64 L330.21,257.31 L330.56,256.93 L330.91,256.51 L331.26,256.02 L331.61,255.46 L331.96,254.8 L332.31,254.05 L332.66,253.21 L333.01,252.31 L333.36,251.37 L333.71,250.4 L334.06,249.42 L334.41,248.43 L334.76,247.43 L335.11,246.43 L335.46,245.46 L335.81,244.56 L336.16,243.8 L336.51,243.24 L336.86,242.93 L337.21,242.92 L337.56,243.22 L337.91,243.79 L338.26,244.56 L338.61,245.47 L338.96,246.43 L339.31,247.39 L339.66,248.33 L340.01,249.24 L340.36,250.12 L340.71,250.94 L341.06,251.68 L341.41,252.3 L341.76,252.81 L342.11,253.19 L342.46,253.46 L342.81,253.63 L343.16,253.73 L343.51,253.78 L343.86,253.78 L344.21,253.76 L344.56,253.73 L344.91,253.68 L345.26,253.63 L345.61,253.58 L345.96,253.53 L346.31,253.46 L346.66,253.39 L347.01,253.31 L347.36,253.24 L347.71,253.19 L348.06,253.18 L348.41,253.2 L348.76,253.27 L349.11,253.37 L349.46,253.49 L349.81,253.64 L350.16,253.8 L350.51,253.97 L350.86,254.15 L351.21,254.35 L351.56,254.55 L351.91,254.76 L352.26,254.99 L352.61,255.23 L352.96,255.49 L353.31,255.77 L353.66,256.06 L354.01,256.37 L354.36,256.68 L354.71,257.01 L355.06,257.33 L355.41,257.66 L355.76,257.97 L356.11,258.28 L356.46,258.58 L356.81,258.85 L357.16,259.09 L357.51,259.27 L357.86,259.39 L358.21,259.45 L358.56,259.48 L358.91,259.5 L359.26,259.5 L359.61,259.5 L359.96,259.5" fill="none" stroke="#ea2596" stroke-width="0.9" stroke-linejoin="round"/>
<path d="M324.04,270.57 L324.44,270.57 L324.84,270.55 L325.24,270.53 L325.63,270.51 L326.03,270.48 L326.43,270.44 L326.83,270.4 L327.23,270.34 L327.63,270.26 L328.03,270.16 L328.43,270.04 L328.82,269.88 L329.22,269.66 L329.62,269.37 L330.02,268.98 L330.42,268.43 L330.82,267.7 L331.22,266.71 L331.62,265.44 L332.01,263.83 L332.41,261.88 L332.81,259.64 L333.21,257.2 L333.61,254.68 L334.01,252.29 L334.41,250.23 L334.8,248.69 L335.2,247.83 L335.6,247.75 L336,248.43 L336.4,249.81 L336.8,251.73 L337.2,253.98 L337.6,256.38 L337.99,258.74 L338.39,260.91 L338.79,262.81 L339.19,264.4 L339.59,265.68 L339.99,266.69 L340.39,267.47 L340.78,268.07 L341.18,268.54 L341.58,268.9 L341.98,269.2 L342.38,269.44 L342.78,269.64 L343.18,269.81 L343.58,269.96 L343.97,270.08 L344.37,270.18 L344.77,270.27 L345.17,270.34 L345.57,270.4 L345.97,270.45 L346.37,270.48 L346.77,270.51 L347.16,270.53 L347.56,270.55 L347.96,270.57 L348.36,270.57 L348.36,270.6 L324.04,270.6 Z" fill="#d9d9d9" fill-opacity="0.6" stroke="none"/>
<path d="M324.04,270.57 L324.44,270.57 L324.84,270.55 L325.24,270.53 L325.63,270.51 L326.03,270.48 L326.43,270.44 L326.83,270.4 L327.23,270.34 L327.63,270.26 L328.03,270.16 L328.43,270.04 L328.82,269.88 L329.22,269.66 L329.62,269.37 L330.02,268.98 L330.42,268.43 L330.82,267.7 L331.22,266.71 L331.62,265.44 L332.01,263.83 L332.41,261.88 L332.81,259.64 L333.21,257.2 L333.61,254.68 L334.01,252.29 L334.41,250.23 L334.8,248.69 L335.2,247.83 L335.6,247.75 L336,248.43 L336.4,249.81 L336.8,251.73 L337.2,253.98 L337.6,256.38 L337.99,258.74 L338.39,260.91 L338.79,262.81 L339.19,264.4 L339.59,265.68 L339.99,266.69 L340.39,267.47 L340.78,268.07 L341.18,268.54 L341.58,268.9 L341.98,269.2 L342.38,269.44 L342.78,269.64 L343.18,269.81 L343.58,269.96 L343.97,270.08 L344.37,270.18 L344.77,270.27 L345.17,270.34 L345.57,270.4 L345.97,270.45 L346.37,270.48 L346.77,270.51 L347.16,270.53 L347.56,270.55 L347.96,270.57 L348.36,270.57" fill="none" stroke="#bcbcbc" stroke-width="0.7" stroke-linejoin="round"/>
<rect x="310.85" y="208.25" width="62.95" height="63.15" fill="none" stroke="#000" stroke-width="1.45"/>
<text x="308.95" y="277.8" font-size="6.2" fill="#141414" textLength="6.3" lengthAdjust="spacingAndGlyphs">10</text>
<text x="316.25" y="275.6" font-size="2.8" fill="#141414" style="stroke-width:0.1px">0</text>
<text x="326.89" y="277.8" font-size="6.2" fill="#141414" textLength="6.3" lengthAdjust="spacingAndGlyphs">10</text>
<text x="334.19" y="275.6" font-size="2.8" fill="#141414" style="stroke-width:0.1px">1</text>
<text x="344.83" y="277.8" font-size="6.2" fill="#141414" textLength="6.3" lengthAdjust="spacingAndGlyphs">10</text>
<text x="352.13" y="275.6" font-size="2.8" fill="#141414" style="stroke-width:0.1px">2</text>
<text x="362.77" y="277.8" font-size="6.2" fill="#141414" textLength="6.3" lengthAdjust="spacingAndGlyphs">10</text>
<text x="370.07" y="275.6" font-size="2.8" fill="#141414" style="stroke-width:0.1px">3</text>
<line x1="26" y1="282.5" x2="83.3" y2="282.5" stroke="#000" stroke-width="1.45"/>
<path d="M82.8,280 L88.8,282.5 L82.8,285 Z" fill="#000"/>
<text x="32.8" y="291.7" font-size="8.2" textLength="39.6" lengthAdjust="spacingAndGlyphs">BODIPY C11</text>
<text x="376.6" y="223.6" font-size="7.6">DMF</text>
<text x="376.6" y="236.2" font-size="7.6">80 µM</text>
<text x="376.6" y="248.7" font-size="7.6">40 µM</text>
<text x="376.6" y="261.2" font-size="7.6">20 µM</text>
<text x="376.6" y="274.4" font-size="7.6">Solvent</text>
<text x="435" y="203.4" font-size="9.9" textLength="34" lengthAdjust="spacingAndGlyphs">OCI-Ly7</text>
<path d="M436.71,233.6 L437.06,233.6 L437.41,233.6 L437.76,233.58 L438.11,233.55 L438.46,233.47 L438.81,233.32 L439.16,233.09 L439.51,232.77 L439.86,232.38 L440.21,231.92 L440.56,231.35 L440.91,230.67 L441.26,229.81 L441.61,228.73 L441.96,227.44 L442.31,225.96 L442.66,224.36 L443.01,222.76 L443.36,221.25 L443.71,219.89 L444.06,218.71 L444.41,217.72 L444.76,216.94 L445.11,216.4 L445.46,216.13 L445.81,216.12 L446.16,216.4 L446.51,216.94 L446.86,217.73 L447.21,218.74 L447.56,219.96 L447.91,221.36 L448.26,222.85 L448.61,224.33 L448.96,225.69 L449.31,226.86 L449.66,227.79 L450.01,228.5 L450.36,229.01 L450.71,229.38 L451.06,229.62 L451.41,229.77 L451.76,229.83 L452.11,229.82 L452.46,229.74 L452.81,229.59 L453.16,229.4 L453.51,229.16 L453.86,228.89 L454.21,228.6 L454.56,228.31 L454.91,228.02 L455.26,227.73 L455.61,227.43 L455.96,227.14 L456.31,226.85 L456.66,226.58 L457.01,226.36 L457.36,226.21 L457.71,226.13 L458.06,226.13 L458.41,226.21 L458.76,226.35 L459.11,226.54 L459.46,226.77 L459.81,227.04 L460.16,227.34 L460.51,227.67 L460.86,228.05 L461.21,228.47 L461.56,228.96 L461.91,229.51 L462.26,230.11 L462.61,230.74 L462.96,231.35 L463.31,231.93 L463.66,232.44 L464.01,232.87 L464.36,233.18 L464.71,233.39 L465.06,233.51 L465.41,233.57 L465.76,233.59 L466.11,233.6 L466.46,233.6 L466.81,233.6 Z" fill="#88b8a9" fill-opacity="1" stroke="none"/>
<line x1="419.75" y1="233.6" x2="437.01" y2="233.6" stroke="#5d9c8c" stroke-width="0.8"/>
<line x1="466.51" y1="233.6" x2="483" y2="233.6" stroke="#5d9c8c" stroke-width="0.8"/>
<path d="M436.71,233.6 L437.06,233.6 L437.41,233.6 L437.76,233.58 L438.11,233.55 L438.46,233.47 L438.81,233.32 L439.16,233.09 L439.51,232.77 L439.86,232.38 L440.21,231.92 L440.56,231.35 L440.91,230.67 L441.26,229.81 L441.61,228.73 L441.96,227.44 L442.31,225.96 L442.66,224.36 L443.01,222.76 L443.36,221.25 L443.71,219.89 L444.06,218.71 L444.41,217.72 L444.76,216.94 L445.11,216.4 L445.46,216.13 L445.81,216.12 L446.16,216.4 L446.51,216.94 L446.86,217.73 L447.21,218.74 L447.56,219.96 L447.91,221.36 L448.26,222.85 L448.61,224.33 L448.96,225.69 L449.31,226.86 L449.66,227.79 L450.01,228.5 L450.36,229.01 L450.71,229.38 L451.06,229.62 L451.41,229.77 L451.76,229.83 L452.11,229.82 L452.46,229.74 L452.81,229.59 L453.16,229.4 L453.51,229.16 L453.86,228.89 L454.21,228.6 L454.56,228.31 L454.91,228.02 L455.26,227.73 L455.61,227.43 L455.96,227.14 L456.31,226.85 L456.66,226.58 L457.01,226.36 L457.36,226.21 L457.71,226.13 L458.06,226.13 L458.41,226.21 L458.76,226.35 L459.11,226.54 L459.46,226.77 L459.81,227.04 L460.16,227.34 L460.51,227.67 L460.86,228.05 L461.21,228.47 L461.56,228.96 L461.91,229.51 L462.26,230.11 L462.61,230.74 L462.96,231.35 L463.31,231.93 L463.66,232.44 L464.01,232.87 L464.36,233.18 L464.71,233.39 L465.06,233.51 L465.41,233.57 L465.76,233.59 L466.11,233.6 L466.46,233.6 L466.81,233.6" fill="none" stroke="#2f7f6c" stroke-width="0.9" stroke-linejoin="round"/>
<path d="M435.36,246.4 L435.71,246.4 L436.06,246.4 L436.41,246.39 L436.76,246.38 L437.11,246.35 L437.46,246.3 L437.81,246.22 L438.16,246.11 L438.51,245.98 L438.86,245.81 L439.21,245.59 L439.56,245.31 L439.91,244.91 L440.26,244.32 L440.61,243.47 L440.96,242.26 L441.31,240.63 L441.66,238.63 L442.01,236.38 L442.36,234.09 L442.71,231.93 L443.06,230 L443.41,228.32 L443.76,226.86 L444.11,225.58 L444.46,224.48 L444.81,223.6 L445.16,222.98 L445.51,222.69 L445.86,222.78 L446.21,223.28 L446.56,224.19 L446.91,225.48 L447.26,227.12 L447.61,229.04 L447.96,231.17 L448.31,233.39 L448.66,235.54 L449.01,237.45 L449.36,239.04 L449.71,240.26 L450.06,241.16 L450.41,241.79 L450.76,242.23 L451.11,242.54 L451.46,242.75 L451.81,242.89 L452.16,242.97 L452.51,243.01 L452.86,243 L453.21,242.95 L453.56,242.86 L453.91,242.73 L454.26,242.58 L454.61,242.41 L454.96,242.23 L455.31,242.04 L455.66,241.85 L456.01,241.65 L456.36,241.44 L456.71,241.25 L457.06,241.09 L457.41,240.99 L457.76,240.98 L458.11,241.05 L458.46,241.2 L458.81,241.41 L459.16,241.66 L459.51,241.95 L459.86,242.25 L460.21,242.57 L460.56,242.9 L460.91,243.24 L461.26,243.61 L461.61,243.99 L461.96,244.39 L462.31,244.79 L462.66,245.18 L463.01,245.53 L463.36,245.81 L463.71,246.03 L464.06,246.19 L464.41,246.29 L464.76,246.35 L465.11,246.38 L465.46,246.39 L465.81,246.4 L466.16,246.4 L466.51,246.4 Z" fill="#a3d9ad" fill-opacity="0.85" stroke="none"/>
<line x1="419.75" y1="246.4" x2="435.66" y2="246.4" stroke="#6fc682" stroke-width="0.8"/>
<line x1="466.21" y1="246.4" x2="483" y2="246.4" stroke="#6fc682" stroke-width="0.8"/>
<path d="M435.36,246.4 L435.71,246.4 L436.06,246.4 L436.41,246.39 L436.76,246.38 L437.11,246.35 L437.46,246.3 L437.81,246.22 L438.16,246.11 L438.51,245.98 L438.86,245.81 L439.21,245.59 L439.56,245.31 L439.91,244.91 L440.26,244.32 L440.61,243.47 L440.96,242.26 L441.31,240.63 L441.66,238.63 L442.01,236.38 L442.36,234.09 L442.71,231.93 L443.06,230 L443.41,228.32 L443.76,226.86 L444.11,225.58 L444.46,224.48 L444.81,223.6 L445.16,222.98 L445.51,222.69 L445.86,222.78 L446.21,223.28 L446.56,224.19 L446.91,225.48 L447.26,227.12 L447.61,229.04 L447.96,231.17 L448.31,233.39 L448.66,235.54 L449.01,237.45 L449.36,239.04 L449.71,240.26 L450.06,241.16 L450.41,241.79 L450.76,242.23 L451.11,242.54 L451.46,242.75 L451.81,242.89 L452.16,242.97 L452.51,243.01 L452.86,243 L453.21,242.95 L453.56,242.86 L453.91,242.73 L454.26,242.58 L454.61,242.41 L454.96,242.23 L455.31,242.04 L455.66,241.85 L456.01,241.65 L456.36,241.44 L456.71,241.25 L457.06,241.09 L457.41,240.99 L457.76,240.98 L458.11,241.05 L458.46,241.2 L458.81,241.41 L459.16,241.66 L459.51,241.95 L459.86,242.25 L460.21,242.57 L460.56,242.9 L460.91,243.24 L461.26,243.61 L461.61,243.99 L461.96,244.39 L462.31,244.79 L462.66,245.18 L463.01,245.53 L463.36,245.81 L463.71,246.03 L464.06,246.19 L464.41,246.29 L464.76,246.35 L465.11,246.38 L465.46,246.39 L465.81,246.4 L466.16,246.4 L466.51,246.4" fill="none" stroke="#4fba66" stroke-width="0.9" stroke-linejoin="round"/>
<path d="M434.76,259 L435.11,259 L435.46,259 L435.81,258.99 L436.16,258.96 L436.51,258.89 L436.86,258.77 L437.21,258.59 L437.56,258.33 L437.91,258.02 L438.26,257.66 L438.61,257.24 L438.96,256.75 L439.31,256.15 L439.66,255.37 L440.01,254.35 L440.36,253.03 L440.71,251.37 L441.06,249.44 L441.41,247.33 L441.76,245.22 L442.11,243.26 L442.46,241.53 L442.81,240.08 L443.16,238.94 L443.51,238.13 L443.86,237.71 L444.21,237.71 L444.56,238.14 L444.91,238.98 L445.26,240.12 L445.61,241.48 L445.96,242.95 L446.31,244.49 L446.66,246.05 L447.01,247.6 L447.36,249.08 L447.71,250.45 L448.06,251.66 L448.41,252.66 L448.76,253.47 L449.11,254.09 L449.46,254.56 L449.81,254.91 L450.16,255.17 L450.51,255.36 L450.86,255.5 L451.21,255.6 L451.56,255.68 L451.91,255.74 L452.26,255.77 L452.61,255.79 L452.96,255.77 L453.31,255.72 L453.66,255.62 L454.01,255.49 L454.36,255.35 L454.71,255.21 L455.06,255.1 L455.41,255.04 L455.76,255.03 L456.11,255.08 L456.46,255.18 L456.81,255.32 L457.16,255.5 L457.51,255.71 L457.86,255.93 L458.21,256.16 L458.56,256.4 L458.91,256.63 L459.26,256.86 L459.61,257.08 L459.96,257.29 L460.31,257.49 L460.66,257.69 L461.01,257.88 L461.36,258.07 L461.71,258.26 L462.06,258.44 L462.41,258.6 L462.76,258.75 L463.11,258.86 L463.46,258.93 L463.81,258.97 L464.16,258.99 L464.51,259 L464.86,259 L465.21,259 L465.56,259 Z" fill="#bde6c4" fill-opacity="0.85" stroke="none"/>
<line x1="419.75" y1="259" x2="435.06" y2="259" stroke="#8ed69b" stroke-width="0.8"/>
<line x1="465.26" y1="259" x2="483" y2="259" stroke="#8ed69b" stroke-width="0.8"/>
<path d="M434.76,259 L435.11,259 L435.46,259 L435.81,258.99 L436.16,258.96 L436.51,258.89 L436.86,258.77 L437.21,258.59 L437.56,258.33 L437.91,258.02 L438.26,257.66 L438.61,257.24 L438.96,256.75 L439.31,256.15 L439.66,255.37 L440.01,254.35 L440.36,253.03 L440.71,251.37 L441.06,249.44 L441.41,247.33 L441.76,245.22 L442.11,243.26 L442.46,241.53 L442.81,240.08 L443.16,238.94 L443.51,238.13 L443.86,237.71 L444.21,237.71 L444.56,238.14 L444.91,238.98 L445.26,240.12 L445.61,241.48 L445.96,242.95 L446.31,244.49 L446.66,246.05 L447.01,247.6 L447.36,249.08 L447.71,250.45 L448.06,251.66 L448.41,252.66 L448.76,253.47 L449.11,254.09 L449.46,254.56 L449.81,254.91 L450.16,255.17 L450.51,255.36 L450.86,255.5 L451.21,255.6 L451.56,255.68 L451.91,255.74 L452.26,255.77 L452.61,255.79 L452.96,255.77 L453.31,255.72 L453.66,255.62 L454.01,255.49 L454.36,255.35 L454.71,255.21 L455.06,255.1 L455.41,255.04 L455.76,255.03 L456.11,255.08 L456.46,255.18 L456.81,255.32 L457.16,255.5 L457.51,255.71 L457.86,255.93 L458.21,256.16 L458.56,256.4 L458.91,256.63 L459.26,256.86 L459.61,257.08 L459.96,257.29 L460.31,257.49 L460.66,257.69 L461.01,257.88 L461.36,258.07 L461.71,258.26 L462.06,258.44 L462.41,258.6 L462.76,258.75 L463.11,258.86 L463.46,258.93 L463.81,258.97 L464.16,258.99 L464.51,259 L464.86,259 L465.21,259 L465.56,259" fill="none" stroke="#66c478" stroke-width="0.9" stroke-linejoin="round"/>
<path d="M437.26,270.57 L437.66,270.55 L438.06,270.52 L438.46,270.45 L438.86,270.34 L439.26,270.14 L439.65,269.8 L440.05,269.26 L440.45,268.44 L440.85,267.25 L441.25,265.61 L441.65,263.5 L442.05,260.95 L442.45,258.07 L442.85,255.08 L443.25,252.25 L443.64,249.9 L444.04,248.31 L444.44,247.67 L444.84,248.05 L445.24,249.37 L445.64,251.41 L446.04,253.91 L446.44,256.55 L446.84,259.08 L447.24,261.31 L447.63,263.15 L448.03,264.57 L448.43,265.62 L448.83,266.38 L449.23,266.91 L449.63,267.3 L450.03,267.6 L450.43,267.85 L450.83,268.08 L451.23,268.29 L451.62,268.49 L452.02,268.69 L452.42,268.89 L452.82,269.08 L453.22,269.26 L453.62,269.43 L454.02,269.59 L454.42,269.73 L454.82,269.87 L455.22,269.99 L455.61,270.09 L456.01,270.19 L456.41,270.27 L456.81,270.34 L457.21,270.39 L457.61,270.44 L458.01,270.48 L458.41,270.51 L458.81,270.53 L459.21,270.55 L459.6,270.57 L460,270.58 L460.4,270.58 L460.8,270.59 L461.2,270.59 L461.6,270.6 L461.6,270.6 L437.26,270.6 Z" fill="#d9d9d9" fill-opacity="0.6" stroke="none"/>
<path d="M437.26,270.57 L437.66,270.55 L438.06,270.52 L438.46,270.45 L438.86,270.34 L439.26,270.14 L439.65,269.8 L440.05,269.26 L440.45,268.44 L440.85,267.25 L441.25,265.61 L441.65,263.5 L442.05,260.95 L442.45,258.07 L442.85,255.08 L443.25,252.25 L443.64,249.9 L444.04,248.31 L444.44,247.67 L444.84,248.05 L445.24,249.37 L445.64,251.41 L446.04,253.91 L446.44,256.55 L446.84,259.08 L447.24,261.31 L447.63,263.15 L448.03,264.57 L448.43,265.62 L448.83,266.38 L449.23,266.91 L449.63,267.3 L450.03,267.6 L450.43,267.85 L450.83,268.08 L451.23,268.29 L451.62,268.49 L452.02,268.69 L452.42,268.89 L452.82,269.08 L453.22,269.26 L453.62,269.43 L454.02,269.59 L454.42,269.73 L454.82,269.87 L455.22,269.99 L455.61,270.09 L456.01,270.19 L456.41,270.27 L456.81,270.34 L457.21,270.39 L457.61,270.44 L458.01,270.48 L458.41,270.51 L458.81,270.53 L459.21,270.55 L459.6,270.57 L460,270.58 L460.4,270.58 L460.8,270.59 L461.2,270.59 L461.6,270.6" fill="none" stroke="#bcbcbc" stroke-width="0.7" stroke-linejoin="round"/>
<rect x="419.75" y="208.3" width="63.25" height="63.2" fill="none" stroke="#000" stroke-width="1.45"/>
<text x="417.85" y="277.8" font-size="6.2" fill="#141414" textLength="6.3" lengthAdjust="spacingAndGlyphs">10</text>
<text x="425.15" y="275.6" font-size="2.8" fill="#141414" style="stroke-width:0.1px">0</text>
<text x="435.88" y="277.8" font-size="6.2" fill="#141414" textLength="6.3" lengthAdjust="spacingAndGlyphs">10</text>
<text x="443.18" y="275.6" font-size="2.8" fill="#141414" style="stroke-width:0.1px">1</text>
<text x="453.9" y="277.8" font-size="6.2" fill="#141414" textLength="6.3" lengthAdjust="spacingAndGlyphs">10</text>
<text x="461.2" y="275.6" font-size="2.8" fill="#141414" style="stroke-width:0.1px">2</text>
<text x="471.93" y="277.8" font-size="6.2" fill="#141414" textLength="6.3" lengthAdjust="spacingAndGlyphs">10</text>
<text x="479.23" y="275.6" font-size="2.8" fill="#141414" style="stroke-width:0.1px">3</text>
<text x="486.8" y="223.7" font-size="7.6">Erastin</text>
<text x="486.8" y="236.3" font-size="7.6">5 µM</text>
<text x="486.8" y="248.7" font-size="7.6">2.5 µM</text>
<text x="486.8" y="261.4" font-size="7.6">1 µM</text>
<text x="486.8" y="274.5" font-size="7.6">Solvent</text>
<text x="9.6" y="309.4" font-size="10.6" font-weight="bold" fill="#000">D</text>
<text x="265.4" y="309.4" font-size="10.6" font-weight="bold" fill="#000">E</text>
<line x1="39" y1="319.88" x2="39" y2="403" stroke="#000" stroke-width="1.45"/>
<line x1="37" y1="320.48" x2="39" y2="320.48" stroke="#000" stroke-width="1.15"/>
<text x="36.5" y="323.33" font-size="8.6" text-anchor="end" textLength="10.6" lengthAdjust="spacingAndGlyphs">1.5</text>
<line x1="37" y1="347.75" x2="39" y2="347.75" stroke="#000" stroke-width="1.15"/>
<text x="36.5" y="350.6" font-size="8.6" text-anchor="end" textLength="10.6" lengthAdjust="spacingAndGlyphs">1.0</text>
<line x1="37" y1="375.03" x2="39" y2="375.03" stroke="#000" stroke-width="1.15"/>
<text x="36.5" y="377.88" font-size="8.6" text-anchor="end" textLength="10.6" lengthAdjust="spacingAndGlyphs">0.5</text>
<line x1="37" y1="402.3" x2="39" y2="402.3" stroke="#000" stroke-width="1.15"/>
<text x="36.5" y="405.15" font-size="8.6" text-anchor="end" textLength="10.6" lengthAdjust="spacingAndGlyphs">0.0</text>
<text transform="translate(23.3,365.2) rotate(-90)" font-size="9.2" text-anchor="middle" textLength="71.4" lengthAdjust="spacingAndGlyphs">Normalized cell count</text>
<rect x="44.1" y="347.15" width="8.85" height="55.15" fill="#c8112f"/>
<line x1="48.52" y1="347.15" x2="48.52" y2="344.97" stroke="#000" stroke-width="1.3"/>
<line x1="46.52" y1="344.97" x2="50.52" y2="344.97" stroke="#000" stroke-width="1.3"/>
<rect x="55.28" y="383.37" width="8.85" height="18.93" fill="#16528c"/>
<rect x="66.46" y="344.42" width="8.85" height="57.88" fill="#3db54a"/>
<line x1="70.89" y1="344.42" x2="70.89" y2="340.6" stroke="#000" stroke-width="1.3"/>
<line x1="68.89" y1="340.6" x2="72.89" y2="340.6" stroke="#000" stroke-width="1.3"/>
<line x1="59.7" y1="402.3" x2="59.7" y2="405.3" stroke="#000" stroke-width="1.1"/>
<text x="38.5" y="415.6" font-size="9.6" textLength="32.7" lengthAdjust="spacingAndGlyphs">DOHH2</text>
<rect x="84.8" y="347.15" width="8.85" height="55.15" fill="#c8112f"/>
<line x1="89.23" y1="347.15" x2="89.23" y2="346.55" stroke="#000" stroke-width="1.3"/>
<line x1="87.23" y1="346.55" x2="91.23" y2="346.55" stroke="#000" stroke-width="1.3"/>
<rect x="95.98" y="377.32" width="8.85" height="24.98" fill="#16528c"/>
<line x1="100.41" y1="377.32" x2="100.41" y2="376.23" stroke="#000" stroke-width="1.3"/>
<line x1="98.41" y1="376.23" x2="102.41" y2="376.23" stroke="#000" stroke-width="1.3"/>
<rect x="107.16" y="358.61" width="8.85" height="43.69" fill="#3db54a"/>
<line x1="111.59" y1="358.61" x2="111.59" y2="355.88" stroke="#000" stroke-width="1.3"/>
<line x1="109.59" y1="355.88" x2="113.59" y2="355.88" stroke="#000" stroke-width="1.3"/>
<line x1="100.41" y1="402.3" x2="100.41" y2="405.3" stroke="#000" stroke-width="1.1"/>
<text x="83.8" y="415.6" font-size="9.6" textLength="33.7" lengthAdjust="spacingAndGlyphs">OCI-Ly7</text>
<rect x="125.5" y="347.15" width="8.85" height="55.15" fill="#c8112f"/>
<line x1="129.93" y1="347.15" x2="129.93" y2="344.97" stroke="#000" stroke-width="1.3"/>
<line x1="127.93" y1="344.97" x2="131.93" y2="344.97" stroke="#000" stroke-width="1.3"/>
<rect x="136.68" y="394.72" width="8.85" height="7.58" fill="#16528c"/>
<line x1="141.11" y1="394.72" x2="141.11" y2="394.12" stroke="#000" stroke-width="1.3"/>
<line x1="139.11" y1="394.12" x2="143.11" y2="394.12" stroke="#000" stroke-width="1.3"/>
<rect x="147.86" y="346.06" width="8.85" height="56.24" fill="#3db54a"/>
<line x1="152.29" y1="346.06" x2="152.29" y2="345.46" stroke="#000" stroke-width="1.3"/>
<line x1="150.29" y1="345.46" x2="154.29" y2="345.46" stroke="#000" stroke-width="1.3"/>
<line x1="141.11" y1="402.3" x2="141.11" y2="405.3" stroke="#000" stroke-width="1.1"/>
<text x="124.2" y="415.6" font-size="9.6" textLength="41.4" lengthAdjust="spacingAndGlyphs">SU-DHL-6</text>
<line x1="38.4" y1="402.3" x2="163" y2="402.3" stroke="#000" stroke-width="1.25"/>
<rect x="168.5" y="306.2" width="10.3" height="5.6" fill="#c8112f"/>
<rect x="168.5" y="317" width="10.3" height="5.4" fill="#16528c"/>
<rect x="168.5" y="327.4" width="10.3" height="5.4" fill="#3db54a"/>
<text x="182.8" y="312" font-size="7.6" textLength="25" lengthAdjust="spacingAndGlyphs">Solvent</text>
<text x="182.8" y="322.3" font-size="7.6" textLength="16.6" lengthAdjust="spacingAndGlyphs">DMF</text>
<text x="182.8" y="332.6" font-size="7.6" textLength="41.5" lengthAdjust="spacingAndGlyphs">DMF + Fer-1</text>
<line x1="310.9" y1="319.88" x2="310.9" y2="403" stroke="#000" stroke-width="1.45"/>
<line x1="308.9" y1="320.48" x2="310.9" y2="320.48" stroke="#000" stroke-width="1.15"/>
<text x="308.4" y="323.33" font-size="8.6" text-anchor="end" textLength="10.6" lengthAdjust="spacingAndGlyphs">1.5</text>
<line x1="308.9" y1="347.75" x2="310.9" y2="347.75" stroke="#000" stroke-width="1.15"/>
<text x="308.4" y="350.6" font-size="8.6" text-anchor="end" textLength="10.6" lengthAdjust="spacingAndGlyphs">1.0</text>
<line x1="308.9" y1="375.03" x2="310.9" y2="375.03" stroke="#000" stroke-width="1.15"/>
<text x="308.4" y="377.88" font-size="8.6" text-anchor="end" textLength="10.6" lengthAdjust="spacingAndGlyphs">0.5</text>
<line x1="308.9" y1="402.3" x2="310.9" y2="402.3" stroke="#000" stroke-width="1.15"/>
<text x="308.4" y="405.15" font-size="8.6" text-anchor="end" textLength="10.6" lengthAdjust="spacingAndGlyphs">0.0</text>
<text transform="translate(294.9,365.2) rotate(-90)" font-size="9.2" text-anchor="middle" textLength="71.4" lengthAdjust="spacingAndGlyphs">Normalized cell count</text>
<rect x="316" y="346.6" width="8.85" height="55.7" fill="#c8112f"/>
<line x1="320.43" y1="346.6" x2="320.43" y2="345.79" stroke="#000" stroke-width="1.3"/>
<line x1="318.43" y1="345.79" x2="322.43" y2="345.79" stroke="#000" stroke-width="1.3"/>
<rect x="327.18" y="371.15" width="8.85" height="31.15" fill="#16528c"/>
<line x1="331.61" y1="371.15" x2="331.61" y2="370.55" stroke="#000" stroke-width="1.3"/>
<line x1="329.61" y1="370.55" x2="333.61" y2="370.55" stroke="#000" stroke-width="1.3"/>
<rect x="338.36" y="370.61" width="8.85" height="31.69" fill="#3db54a"/>
<line x1="331.61" y1="402.3" x2="331.61" y2="405.3" stroke="#000" stroke-width="1.1"/>
<text x="315.4" y="415.6" font-size="9.6" textLength="27.6" lengthAdjust="spacingAndGlyphs">U2932</text>
<rect x="356.7" y="347.15" width="8.85" height="55.15" fill="#c8112f"/>
<line x1="361.12" y1="347.15" x2="361.12" y2="346.55" stroke="#000" stroke-width="1.3"/>
<line x1="359.12" y1="346.55" x2="363.12" y2="346.55" stroke="#000" stroke-width="1.3"/>
<rect x="367.88" y="366.35" width="8.85" height="35.95" fill="#16528c"/>
<rect x="379.06" y="367.06" width="8.85" height="35.24" fill="#3db54a"/>
<line x1="383.49" y1="367.06" x2="383.49" y2="366.46" stroke="#000" stroke-width="1.3"/>
<line x1="381.49" y1="366.46" x2="385.49" y2="366.46" stroke="#000" stroke-width="1.3"/>
<line x1="372.31" y1="402.3" x2="372.31" y2="405.3" stroke="#000" stroke-width="1.1"/>
<text x="353" y="415.6" font-size="9.6" textLength="42.4" lengthAdjust="spacingAndGlyphs">SU-DHL-2</text>
<rect x="397.4" y="347.15" width="8.85" height="55.15" fill="#c8112f"/>
<rect x="408.58" y="370.06" width="8.85" height="32.24" fill="#16528c"/>
<line x1="413" y1="370.06" x2="413" y2="368.97" stroke="#000" stroke-width="1.3"/>
<line x1="411" y1="368.97" x2="415" y2="368.97" stroke="#000" stroke-width="1.3"/>
<rect x="419.76" y="374.97" width="8.85" height="27.33" fill="#3db54a"/>
<line x1="424.19" y1="374.97" x2="424.19" y2="373.88" stroke="#000" stroke-width="1.3"/>
<line x1="422.19" y1="373.88" x2="426.19" y2="373.88" stroke="#000" stroke-width="1.3"/>
<line x1="413" y1="402.3" x2="413" y2="405.3" stroke="#000" stroke-width="1.1"/>
<text x="406.3" y="415.6" font-size="9.6" textLength="24.1" lengthAdjust="spacingAndGlyphs">HBL-1</text>
<line x1="310.3" y1="402.3" x2="434.8" y2="402.3" stroke="#000" stroke-width="1.25"/>
<rect x="442.6" y="306.2" width="10.3" height="5.6" fill="#c8112f"/>
<rect x="442.6" y="317" width="10.3" height="5.4" fill="#16528c"/>
<rect x="442.6" y="327.4" width="10.3" height="5.4" fill="#3db54a"/>
<text x="456.9" y="312" font-size="7.6" textLength="25" lengthAdjust="spacingAndGlyphs">Solvent</text>
<text x="456.9" y="322.3" font-size="7.6" textLength="16.6" lengthAdjust="spacingAndGlyphs">DMF</text>
<text x="456.9" y="332.6" font-size="7.6" textLength="41.5" lengthAdjust="spacingAndGlyphs">DMF + Fer-1</text>
<text x="10.4" y="435.6" font-size="10.6" font-weight="bold" fill="#000">F</text>
<line x1="39" y1="454.9" x2="39" y2="537.8" stroke="#000" stroke-width="1.45"/>
<line x1="36.7" y1="455.5" x2="39" y2="455.5" stroke="#000" stroke-width="1.15"/>
<text x="36.3" y="458.35" font-size="8.6" text-anchor="end" textLength="10.6" lengthAdjust="spacingAndGlyphs">1.5</text>
<line x1="36.7" y1="482.7" x2="39" y2="482.7" stroke="#000" stroke-width="1.15"/>
<text x="36.3" y="485.55" font-size="8.6" text-anchor="end" textLength="10.6" lengthAdjust="spacingAndGlyphs">1.0</text>
<line x1="36.7" y1="509.9" x2="39" y2="509.9" stroke="#000" stroke-width="1.15"/>
<text x="36.3" y="512.75" font-size="8.6" text-anchor="end" textLength="10.6" lengthAdjust="spacingAndGlyphs">0.5</text>
<line x1="36.7" y1="537.1" x2="39" y2="537.1" stroke="#000" stroke-width="1.15"/>
<text x="36.3" y="539.95" font-size="8.6" text-anchor="end" textLength="10.6" lengthAdjust="spacingAndGlyphs">0.0</text>
<text transform="translate(19.9,496.8) rotate(-90)" font-size="9.2" text-anchor="middle" textLength="94.5" lengthAdjust="spacingAndGlyphs">Norm. absorbance [490 nm]</text>
<rect x="42.7" y="482.7" width="7.4" height="54.4" fill="#c8112f"/>
<line x1="46.4" y1="482.7" x2="46.4" y2="482.1" stroke="#000" stroke-width="1.3"/>
<line x1="44.7" y1="482.1" x2="48.1" y2="482.1" stroke="#000" stroke-width="1.3"/>
<rect x="52.04" y="535.47" width="7.4" height="1.63" fill="#16528c"/>
<line x1="55.74" y1="535.47" x2="55.74" y2="534.87" stroke="#000" stroke-width="1.3"/>
<line x1="54.04" y1="534.87" x2="57.44" y2="534.87" stroke="#000" stroke-width="1.3"/>
<rect x="61.38" y="474" width="7.4" height="63.1" fill="#3db54a"/>
<line x1="65.08" y1="474" x2="65.08" y2="471.82" stroke="#000" stroke-width="1.3"/>
<line x1="63.38" y1="471.82" x2="66.78" y2="471.82" stroke="#000" stroke-width="1.3"/>
<rect x="70.72" y="468.01" width="7.4" height="69.09" fill="#5b2d83"/>
<line x1="74.42" y1="468.01" x2="74.42" y2="466.38" stroke="#000" stroke-width="1.3"/>
<line x1="72.72" y1="466.38" x2="76.12" y2="466.38" stroke="#000" stroke-width="1.3"/>
<rect x="80.06" y="502.28" width="7.4" height="34.82" fill="#fc8e12"/>
<line x1="83.76" y1="502.28" x2="83.76" y2="501.68" stroke="#000" stroke-width="1.3"/>
<line x1="82.06" y1="501.68" x2="85.46" y2="501.68" stroke="#000" stroke-width="1.3"/>
<rect x="89.4" y="526.49" width="7.4" height="10.61" fill="#0d6b50"/>
<line x1="93.1" y1="526.49" x2="93.1" y2="525.89" stroke="#000" stroke-width="1.3"/>
<line x1="91.4" y1="525.89" x2="94.8" y2="525.89" stroke="#000" stroke-width="1.3"/>
<line x1="69.75" y1="537.1" x2="69.75" y2="540.1" stroke="#000" stroke-width="1.1"/>
<rect x="104.3" y="482.7" width="7.4" height="54.4" fill="#c8112f"/>
<line x1="108" y1="482.7" x2="108" y2="482.1" stroke="#000" stroke-width="1.3"/>
<line x1="106.3" y1="482.1" x2="109.7" y2="482.1" stroke="#000" stroke-width="1.3"/>
<rect x="113.64" y="536.56" width="7.4" height="0.54" fill="#16528c"/>
<line x1="117.34" y1="536.56" x2="117.34" y2="535.96" stroke="#000" stroke-width="1.3"/>
<line x1="115.64" y1="535.96" x2="119.04" y2="535.96" stroke="#000" stroke-width="1.3"/>
<rect x="122.98" y="485.42" width="7.4" height="51.68" fill="#3db54a"/>
<line x1="126.68" y1="485.42" x2="126.68" y2="484.6" stroke="#000" stroke-width="1.3"/>
<line x1="124.98" y1="484.6" x2="128.38" y2="484.6" stroke="#000" stroke-width="1.3"/>
<rect x="132.32" y="480.25" width="7.4" height="56.85" fill="#5b2d83"/>
<line x1="136.02" y1="480.25" x2="136.02" y2="479.65" stroke="#000" stroke-width="1.3"/>
<line x1="134.32" y1="479.65" x2="137.72" y2="479.65" stroke="#000" stroke-width="1.3"/>
<rect x="141.66" y="483.79" width="7.4" height="53.31" fill="#fc8e12"/>
<line x1="145.36" y1="483.79" x2="145.36" y2="483.14" stroke="#000" stroke-width="1.3"/>
<line x1="143.66" y1="483.14" x2="147.06" y2="483.14" stroke="#000" stroke-width="1.3"/>
<rect x="151" y="536.01" width="7.4" height="1.09" fill="#0d6b50"/>
<line x1="154.7" y1="536.01" x2="154.7" y2="535.41" stroke="#000" stroke-width="1.3"/>
<line x1="153" y1="535.41" x2="156.4" y2="535.41" stroke="#000" stroke-width="1.3"/>
<line x1="131.35" y1="537.1" x2="131.35" y2="540.1" stroke="#000" stroke-width="1.1"/>
<line x1="38.4" y1="537.1" x2="162.6" y2="537.1" stroke="#000" stroke-width="1.25"/>
<text x="54.8" y="548.7" font-size="9.5" textLength="33.2" lengthAdjust="spacingAndGlyphs">DOHH2</text>
<text x="118.6" y="548.5" font-size="9.5" textLength="42" lengthAdjust="spacingAndGlyphs">SU-DHL-6</text>
<rect x="168.7" y="459.2" width="10" height="5.2" fill="#c8112f"/>
<text x="183.1" y="463.8" font-size="7.6" textLength="25" lengthAdjust="spacingAndGlyphs">Solvent</text>
<rect x="168.7" y="469.6" width="10" height="5.2" fill="#16528c"/>
<text x="183.1" y="474" font-size="7.6" textLength="16.6" lengthAdjust="spacingAndGlyphs">DMF</text>
<rect x="168.7" y="480" width="10" height="5.2" fill="#3db54a"/>
<text x="183.1" y="484.6" font-size="7.6" textLength="42.5" lengthAdjust="spacingAndGlyphs">DMF + Fer-1</text>
<rect x="168.7" y="490.4" width="10" height="5.2" fill="#5b2d83"/>
<text x="183.1" y="495.2" font-size="7.6" textLength="70.5" lengthAdjust="spacingAndGlyphs">DMF + α-Tocopherol</text>
<rect x="168.7" y="501.9" width="10" height="5.2" fill="#fc8e12"/>
<text x="183.1" y="507.3" font-size="7.6" textLength="40.2" lengthAdjust="spacingAndGlyphs">DMF + DFX</text>
<rect x="168.7" y="513.1" width="10" height="5.2" fill="#0d6b50"/>
<text x="183.1" y="518.3" font-size="7.6" textLength="44.4" lengthAdjust="spacingAndGlyphs">DMF + Q-VD</text>
<text x="264" y="433.5" font-size="10.6" font-weight="bold" fill="#000">G</text>
<text x="311.7" y="458.7" font-size="10" textLength="33.3" lengthAdjust="spacingAndGlyphs">DOHH2</text>
<path d="M315.31,489.5 L315.66,489.5 L316.01,489.49 L316.36,489.48 L316.71,489.43 L317.06,489.36 L317.41,489.23 L317.76,489.05 L318.11,488.83 L318.46,488.55 L318.81,488.2 L319.16,487.74 L319.51,487.1 L319.86,486.23 L320.21,485.07 L320.56,483.62 L320.91,481.94 L321.26,480.13 L321.61,478.29 L321.96,476.48 L322.31,474.75 L322.66,473.11 L323.01,471.57 L323.36,470.19 L323.71,469.04 L324.06,468.21 L324.41,467.77 L324.76,467.78 L325.11,468.23 L325.46,469.1 L325.81,470.29 L326.16,471.71 L326.51,473.29 L326.86,474.96 L327.21,476.67 L327.56,478.35 L327.91,479.92 L328.26,481.3 L328.61,482.47 L328.96,483.43 L329.31,484.22 L329.66,484.85 L330.01,485.35 L330.36,485.72 L330.71,485.96 L331.06,486.09 L331.41,486.12 L331.76,486.07 L332.11,485.95 L332.46,485.79 L332.81,485.61 L333.16,485.43 L333.51,485.27 L333.86,485.15 L334.21,485.08 L334.56,485.09 L334.91,485.18 L335.26,485.37 L335.61,485.63 L335.96,485.96 L336.31,486.35 L336.66,486.76 L337.01,487.18 L337.36,487.6 L337.71,488.02 L338.06,488.43 L338.41,488.8 L338.76,489.09 L339.11,489.3 L339.46,489.42 L339.81,489.47 L340.16,489.49 L340.51,489.5 L340.86,489.5 Z" fill="#a6dcae" fill-opacity="1" stroke="none"/>
<line x1="296.3" y1="489.5" x2="315.61" y2="489.5" stroke="#6fca80" stroke-width="0.9"/>
<line x1="340.56" y1="489.5" x2="358" y2="489.5" stroke="#6fca80" stroke-width="0.9"/>
<path d="M315.31,489.5 L315.66,489.5 L316.01,489.49 L316.36,489.48 L316.71,489.43 L317.06,489.36 L317.41,489.23 L317.76,489.05 L318.11,488.83 L318.46,488.55 L318.81,488.2 L319.16,487.74 L319.51,487.1 L319.86,486.23 L320.21,485.07 L320.56,483.62 L320.91,481.94 L321.26,480.13 L321.61,478.29 L321.96,476.48 L322.31,474.75 L322.66,473.11 L323.01,471.57 L323.36,470.19 L323.71,469.04 L324.06,468.21 L324.41,467.77 L324.76,467.78 L325.11,468.23 L325.46,469.1 L325.81,470.29 L326.16,471.71 L326.51,473.29 L326.86,474.96 L327.21,476.67 L327.56,478.35 L327.91,479.92 L328.26,481.3 L328.61,482.47 L328.96,483.43 L329.31,484.22 L329.66,484.85 L330.01,485.35 L330.36,485.72 L330.71,485.96 L331.06,486.09 L331.41,486.12 L331.76,486.07 L332.11,485.95 L332.46,485.79 L332.81,485.61 L333.16,485.43 L333.51,485.27 L333.86,485.15 L334.21,485.08 L334.56,485.09 L334.91,485.18 L335.26,485.37 L335.61,485.63 L335.96,485.96 L336.31,486.35 L336.66,486.76 L337.01,487.18 L337.36,487.6 L337.71,488.02 L338.06,488.43 L338.41,488.8 L338.76,489.09 L339.11,489.3 L339.46,489.42 L339.81,489.47 L340.16,489.49 L340.51,489.5 L340.86,489.5" fill="none" stroke="#55c06a" stroke-width="0.9" stroke-linejoin="round"/>
<path d="M312.12,501.99 L312.52,501.98 L312.91,501.97 L313.31,501.96 L313.7,501.94 L314.1,501.92 L314.49,501.89 L314.89,501.84 L315.29,501.78 L315.68,501.7 L316.08,501.59 L316.47,501.42 L316.87,501.18 L317.26,500.83 L317.66,500.33 L318.05,499.62 L318.45,498.66 L318.85,497.38 L319.24,495.76 L319.64,493.79 L320.03,491.52 L320.43,489.03 L320.82,486.48 L321.22,484.06 L321.62,481.98 L322.01,480.45 L322.41,479.63 L322.8,479.61 L323.2,480.38 L323.59,481.86 L323.99,483.89 L324.38,486.27 L324.78,488.78 L325.18,491.24 L325.57,493.49 L325.97,495.44 L326.36,497.06 L326.76,498.34 L327.15,499.32 L327.55,500.04 L327.95,500.57 L328.34,500.95 L328.74,501.22 L329.13,501.41 L329.53,501.55 L329.92,501.66 L330.32,501.74 L330.71,501.8 L331.11,501.85 L331.51,501.89 L331.9,501.92 L332.3,501.94 L332.69,501.96 L333.09,501.97 L333.48,501.98 L333.88,501.99 L333.88,502 L312.12,502 Z" fill="#d9d9d9" fill-opacity="0.62" stroke="none"/>
<line x1="296.3" y1="502" x2="312.42" y2="502" stroke="#dcdcdc" stroke-width="0.8"/>
<line x1="333.58" y1="502" x2="358" y2="502" stroke="#dcdcdc" stroke-width="0.8"/>
<path d="M312.12,501.99 L312.52,501.98 L312.91,501.97 L313.31,501.96 L313.7,501.94 L314.1,501.92 L314.49,501.89 L314.89,501.84 L315.29,501.78 L315.68,501.7 L316.08,501.59 L316.47,501.42 L316.87,501.18 L317.26,500.83 L317.66,500.33 L318.05,499.62 L318.45,498.66 L318.85,497.38 L319.24,495.76 L319.64,493.79 L320.03,491.52 L320.43,489.03 L320.82,486.48 L321.22,484.06 L321.62,481.98 L322.01,480.45 L322.41,479.63 L322.8,479.61 L323.2,480.38 L323.59,481.86 L323.99,483.89 L324.38,486.27 L324.78,488.78 L325.18,491.24 L325.57,493.49 L325.97,495.44 L326.36,497.06 L326.76,498.34 L327.15,499.32 L327.55,500.04 L327.95,500.57 L328.34,500.95 L328.74,501.22 L329.13,501.41 L329.53,501.55 L329.92,501.66 L330.32,501.74 L330.71,501.8 L331.11,501.85 L331.51,501.89 L331.9,501.92 L332.3,501.94 L332.69,501.96 L333.09,501.97 L333.48,501.98 L333.88,501.99" fill="none" stroke="#bcbcbc" stroke-width="0.7" stroke-linejoin="round"/>
<path d="M315.86,514.4 L316.21,514.4 L316.56,514.39 L316.91,514.37 L317.26,514.32 L317.61,514.23 L317.96,514.09 L318.31,513.9 L318.66,513.7 L319.01,513.49 L319.36,513.29 L319.71,513.08 L320.06,512.85 L320.41,512.59 L320.76,512.28 L321.11,511.89 L321.46,511.41 L321.81,510.82 L322.16,510.11 L322.51,509.29 L322.86,508.36 L323.21,507.31 L323.56,506.17 L323.91,504.99 L324.26,503.91 L324.61,503.08 L324.96,502.63 L325.31,502.62 L325.66,503.03 L326.01,503.76 L326.36,504.7 L326.71,505.73 L327.06,506.75 L327.41,507.69 L327.76,508.52 L328.11,509.2 L328.46,509.71 L328.81,510.05 L329.16,510.2 L329.51,510.17 L329.86,509.98 L330.21,509.64 L330.56,509.21 L330.91,508.72 L331.26,508.22 L331.61,507.75 L331.96,507.32 L332.31,506.94 L332.66,506.6 L333.01,506.31 L333.36,506.06 L333.71,505.84 L334.06,505.68 L334.41,505.58 L334.76,505.58 L335.11,505.71 L335.46,505.99 L335.81,506.44 L336.16,507.04 L336.51,507.75 L336.86,508.51 L337.21,509.28 L337.56,510.05 L337.91,510.79 L338.26,511.52 L338.61,512.23 L338.96,512.88 L339.31,513.44 L339.66,513.86 L340.01,514.14 L340.36,514.3 L340.71,514.37 L341.06,514.39 L341.41,514.4 L341.76,514.4 Z" fill="#e8949f" fill-opacity="0.85" stroke="none"/>
<line x1="296.3" y1="514.4" x2="316.16" y2="514.4" stroke="#e58ea2" stroke-width="0.8"/>
<line x1="341.46" y1="514.4" x2="358" y2="514.4" stroke="#e58ea2" stroke-width="0.8"/>
<path d="M315.86,514.4 L316.21,514.4 L316.56,514.39 L316.91,514.37 L317.26,514.32 L317.61,514.23 L317.96,514.09 L318.31,513.9 L318.66,513.7 L319.01,513.49 L319.36,513.29 L319.71,513.08 L320.06,512.85 L320.41,512.59 L320.76,512.28 L321.11,511.89 L321.46,511.41 L321.81,510.82 L322.16,510.11 L322.51,509.29 L322.86,508.36 L323.21,507.31 L323.56,506.17 L323.91,504.99 L324.26,503.91 L324.61,503.08 L324.96,502.63 L325.31,502.62 L325.66,503.03 L326.01,503.76 L326.36,504.7 L326.71,505.73 L327.06,506.75 L327.41,507.69 L327.76,508.52 L328.11,509.2 L328.46,509.71 L328.81,510.05 L329.16,510.2 L329.51,510.17 L329.86,509.98 L330.21,509.64 L330.56,509.21 L330.91,508.72 L331.26,508.22 L331.61,507.75 L331.96,507.32 L332.31,506.94 L332.66,506.6 L333.01,506.31 L333.36,506.06 L333.71,505.84 L334.06,505.68 L334.41,505.58 L334.76,505.58 L335.11,505.71 L335.46,505.99 L335.81,506.44 L336.16,507.04 L336.51,507.75 L336.86,508.51 L337.21,509.28 L337.56,510.05 L337.91,510.79 L338.26,511.52 L338.61,512.23 L338.96,512.88 L339.31,513.44 L339.66,513.86 L340.01,514.14 L340.36,514.3 L340.71,514.37 L341.06,514.39 L341.41,514.4 L341.76,514.4" fill="none" stroke="#d42a4c" stroke-width="0.9" stroke-linejoin="round"/>
<path d="M310.26,525.59 L310.65,525.58 L311.05,525.57 L311.44,525.56 L311.84,525.54 L312.23,525.51 L312.62,525.48 L313.02,525.42 L313.41,525.35 L313.8,525.23 L314.2,525.06 L314.59,524.81 L314.99,524.43 L315.38,523.87 L315.77,523.08 L316.17,521.99 L316.56,520.57 L316.96,518.79 L317.35,516.67 L317.74,514.3 L318.14,511.82 L318.53,509.43 L318.92,507.35 L319.32,505.8 L319.71,504.96 L320.11,504.93 L320.5,505.7 L320.89,507.18 L321.29,509.2 L321.68,511.53 L322.08,513.96 L322.47,516.28 L322.86,518.37 L323.26,520.13 L323.65,521.55 L324.04,522.64 L324.44,523.45 L324.83,524.04 L325.23,524.46 L325.62,524.76 L326.01,524.97 L326.41,525.13 L326.8,525.24 L327.2,525.33 L327.59,525.4 L327.98,525.45 L328.38,525.49 L328.77,525.52 L329.16,525.54 L329.56,525.56 L329.95,525.57 L330.35,525.58 L330.74,525.59 L330.74,525.6 L310.26,525.6 Z" fill="#d9d9d9" fill-opacity="0.62" stroke="none"/>
<path d="M310.26,525.59 L310.65,525.58 L311.05,525.57 L311.44,525.56 L311.84,525.54 L312.23,525.51 L312.62,525.48 L313.02,525.42 L313.41,525.35 L313.8,525.23 L314.2,525.06 L314.59,524.81 L314.99,524.43 L315.38,523.87 L315.77,523.08 L316.17,521.99 L316.56,520.57 L316.96,518.79 L317.35,516.67 L317.74,514.3 L318.14,511.82 L318.53,509.43 L318.92,507.35 L319.32,505.8 L319.71,504.96 L320.11,504.93 L320.5,505.7 L320.89,507.18 L321.29,509.2 L321.68,511.53 L322.08,513.96 L322.47,516.28 L322.86,518.37 L323.26,520.13 L323.65,521.55 L324.04,522.64 L324.44,523.45 L324.83,524.04 L325.23,524.46 L325.62,524.76 L326.01,524.97 L326.41,525.13 L326.8,525.24 L327.2,525.33 L327.59,525.4 L327.98,525.45 L328.38,525.49 L328.77,525.52 L329.16,525.54 L329.56,525.56 L329.95,525.57 L330.35,525.58 L330.74,525.59" fill="none" stroke="#bcbcbc" stroke-width="0.7" stroke-linejoin="round"/>
<rect x="296.3" y="464.5" width="61.7" height="61.8" fill="none" stroke="#000" stroke-width="1.45"/>
<line x1="292.8" y1="463.8" x2="292.8" y2="496.4" stroke="#000" stroke-width="1.35"/>
<line x1="292.8" y1="504.2" x2="292.8" y2="527.1" stroke="#000" stroke-width="1.35"/>
<text transform="translate(286.6,480.4) rotate(-90)" font-size="8.4" text-anchor="middle" textLength="34" lengthAdjust="spacingAndGlyphs">FLAG-RelA</text>
<text transform="translate(286.6,517.5) rotate(-90)" font-size="8.4" text-anchor="middle" textLength="20.6" lengthAdjust="spacingAndGlyphs">Empty</text>
<text x="360" y="486.8" font-size="7.7" textLength="15.8" lengthAdjust="spacingAndGlyphs">DMF</text>
<text x="360" y="499.6" font-size="7.7" textLength="24.2" lengthAdjust="spacingAndGlyphs">Solvent</text>
<text x="360" y="512.6" font-size="7.7" textLength="15.8" lengthAdjust="spacingAndGlyphs">DMF</text>
<text x="360" y="525.8" font-size="7.7" textLength="24.2" lengthAdjust="spacingAndGlyphs">Solvent</text>
<text x="294.4" y="535.9" font-size="6.2" fill="#141414" textLength="6.3" lengthAdjust="spacingAndGlyphs">10</text>
<text x="301.7" y="533.7" font-size="2.8" fill="#141414" style="stroke-width:0.1px">0</text>
<text x="311.98" y="535.9" font-size="6.2" fill="#141414" textLength="6.3" lengthAdjust="spacingAndGlyphs">10</text>
<text x="319.28" y="533.7" font-size="2.8" fill="#141414" style="stroke-width:0.1px">1</text>
<text x="329.57" y="535.9" font-size="6.2" fill="#141414" textLength="6.3" lengthAdjust="spacingAndGlyphs">10</text>
<text x="336.87" y="533.7" font-size="2.8" fill="#141414" style="stroke-width:0.1px">2</text>
<text x="347.15" y="535.9" font-size="6.2" fill="#141414" textLength="6.3" lengthAdjust="spacingAndGlyphs">10</text>
<text x="354.45" y="533.7" font-size="2.8" fill="#141414" style="stroke-width:0.1px">3</text>
<line x1="296.3" y1="539.5" x2="353" y2="539.5" stroke="#000" stroke-width="1.45"/>
<path d="M352.5,537 L358.5,539.5 L352.5,542 Z" fill="#000"/>
<text x="306.2" y="548.5" font-size="8.2" textLength="39.2" lengthAdjust="spacingAndGlyphs">BODIPY C11</text>
<text x="416.3" y="458.7" font-size="10" textLength="55.2" lengthAdjust="spacingAndGlyphs">WSU-DLCL-2</text>
<path d="M426.76,489.5 L427.11,489.5 L427.46,489.5 L427.81,489.48 L428.16,489.45 L428.51,489.39 L428.86,489.29 L429.21,489.15 L429.56,488.99 L429.91,488.8 L430.26,488.59 L430.61,488.35 L430.96,488.05 L431.31,487.68 L431.66,487.19 L432.01,486.54 L432.36,485.71 L432.71,484.67 L433.06,483.45 L433.41,482.09 L433.76,480.65 L434.11,479.19 L434.46,477.76 L434.81,476.38 L435.16,475.04 L435.51,473.73 L435.86,472.45 L436.21,471.2 L436.56,470.03 L436.91,468.95 L437.26,468.03 L437.61,467.31 L437.96,466.88 L438.31,466.81 L438.66,467.13 L439.01,467.86 L439.36,468.98 L439.71,470.4 L440.06,472.04 L440.41,473.83 L440.76,475.72 L441.11,477.66 L441.46,479.58 L441.81,481.4 L442.16,483.03 L442.51,484.41 L442.86,485.53 L443.21,486.41 L443.56,487.09 L443.91,487.61 L444.26,487.99 L444.61,488.25 L444.96,488.42 L445.31,488.51 L445.66,488.53 L446.01,488.5 L446.36,488.42 L446.71,488.32 L447.06,488.2 L447.41,488.08 L447.76,487.95 L448.11,487.83 L448.46,487.74 L448.81,487.67 L449.16,487.64 L449.51,487.66 L449.86,487.74 L450.21,487.86 L450.56,488.03 L450.91,488.22 L451.26,488.44 L451.61,488.65 L451.96,488.85 L452.31,489.03 L452.66,489.19 L453.01,489.31 L453.36,489.4 L453.71,489.46 L454.06,489.48 L454.41,489.5 L454.76,489.5 L455.11,489.5 Z" fill="#a6dcae" fill-opacity="1" stroke="none"/>
<line x1="412.6" y1="489.5" x2="427.06" y2="489.5" stroke="#6fca80" stroke-width="0.9"/>
<line x1="454.81" y1="489.5" x2="472.9" y2="489.5" stroke="#6fca80" stroke-width="0.9"/>
<path d="M426.76,489.5 L427.11,489.5 L427.46,489.5 L427.81,489.48 L428.16,489.45 L428.51,489.39 L428.86,489.29 L429.21,489.15 L429.56,488.99 L429.91,488.8 L430.26,488.59 L430.61,488.35 L430.96,488.05 L431.31,487.68 L431.66,487.19 L432.01,486.54 L432.36,485.71 L432.71,484.67 L433.06,483.45 L433.41,482.09 L433.76,480.65 L434.11,479.19 L434.46,477.76 L434.81,476.38 L435.16,475.04 L435.51,473.73 L435.86,472.45 L436.21,471.2 L436.56,470.03 L436.91,468.95 L437.26,468.03 L437.61,467.31 L437.96,466.88 L438.31,466.81 L438.66,467.13 L439.01,467.86 L439.36,468.98 L439.71,470.4 L440.06,472.04 L440.41,473.83 L440.76,475.72 L441.11,477.66 L441.46,479.58 L441.81,481.4 L442.16,483.03 L442.51,484.41 L442.86,485.53 L443.21,486.41 L443.56,487.09 L443.91,487.61 L444.26,487.99 L444.61,488.25 L444.96,488.42 L445.31,488.51 L445.66,488.53 L446.01,488.5 L446.36,488.42 L446.71,488.32 L447.06,488.2 L447.41,488.08 L447.76,487.95 L448.11,487.83 L448.46,487.74 L448.81,487.67 L449.16,487.64 L449.51,487.66 L449.86,487.74 L450.21,487.86 L450.56,488.03 L450.91,488.22 L451.26,488.44 L451.61,488.65 L451.96,488.85 L452.31,489.03 L452.66,489.19 L453.01,489.31 L453.36,489.4 L453.71,489.46 L454.06,489.48 L454.41,489.5 L454.76,489.5 L455.11,489.5" fill="none" stroke="#55c06a" stroke-width="0.9" stroke-linejoin="round"/>
<path d="M424.98,501.98 L425.38,501.98 L425.77,501.97 L426.17,501.96 L426.57,501.94 L426.97,501.92 L427.36,501.89 L427.76,501.86 L428.16,501.81 L428.56,501.76 L428.95,501.68 L429.35,501.58 L429.75,501.44 L430.14,501.24 L430.54,500.97 L430.94,500.6 L431.34,500.07 L431.73,499.36 L432.13,498.4 L432.53,497.16 L432.92,495.6 L433.32,493.72 L433.72,491.54 L434.12,489.15 L434.51,486.66 L434.91,484.24 L435.31,482.09 L435.71,480.38 L436.1,479.28 L436.5,478.9 L436.9,479.28 L437.29,480.38 L437.69,482.09 L438.09,484.24 L438.49,486.66 L438.88,489.15 L439.28,491.54 L439.68,493.72 L440.08,495.6 L440.47,497.16 L440.87,498.4 L441.27,499.36 L441.66,500.07 L442.06,500.6 L442.46,500.97 L442.86,501.24 L443.25,501.44 L443.65,501.58 L444.05,501.68 L444.44,501.76 L444.84,501.81 L445.24,501.86 L445.64,501.89 L446.03,501.92 L446.43,501.94 L446.83,501.96 L447.23,501.97 L447.62,501.98 L448.02,501.98 L448.02,502 L424.98,502 Z" fill="#d9d9d9" fill-opacity="0.62" stroke="none"/>
<line x1="412.6" y1="502" x2="425.28" y2="502" stroke="#dcdcdc" stroke-width="0.8"/>
<line x1="447.72" y1="502" x2="472.9" y2="502" stroke="#dcdcdc" stroke-width="0.8"/>
<path d="M424.98,501.98 L425.38,501.98 L425.77,501.97 L426.17,501.96 L426.57,501.94 L426.97,501.92 L427.36,501.89 L427.76,501.86 L428.16,501.81 L428.56,501.76 L428.95,501.68 L429.35,501.58 L429.75,501.44 L430.14,501.24 L430.54,500.97 L430.94,500.6 L431.34,500.07 L431.73,499.36 L432.13,498.4 L432.53,497.16 L432.92,495.6 L433.32,493.72 L433.72,491.54 L434.12,489.15 L434.51,486.66 L434.91,484.24 L435.31,482.09 L435.71,480.38 L436.1,479.28 L436.5,478.9 L436.9,479.28 L437.29,480.38 L437.69,482.09 L438.09,484.24 L438.49,486.66 L438.88,489.15 L439.28,491.54 L439.68,493.72 L440.08,495.6 L440.47,497.16 L440.87,498.4 L441.27,499.36 L441.66,500.07 L442.06,500.6 L442.46,500.97 L442.86,501.24 L443.25,501.44 L443.65,501.58 L444.05,501.68 L444.44,501.76 L444.84,501.81 L445.24,501.86 L445.64,501.89 L446.03,501.92 L446.43,501.94 L446.83,501.96 L447.23,501.97 L447.62,501.98 L448.02,501.98" fill="none" stroke="#bcbcbc" stroke-width="0.7" stroke-linejoin="round"/>
<path d="M429.96,514.2 L430.31,514.2 L430.66,514.2 L431.01,514.19 L431.36,514.16 L431.71,514.1 L432.06,514.02 L432.41,513.9 L432.76,513.76 L433.11,513.6 L433.46,513.43 L433.81,513.21 L434.16,512.92 L434.51,512.51 L434.86,511.91 L435.21,511.04 L435.56,509.81 L435.91,508.21 L436.26,506.26 L436.61,504.07 L436.96,501.78 L437.31,499.53 L437.66,497.41 L438.01,495.48 L438.36,493.82 L438.71,492.52 L439.06,491.69 L439.41,491.41 L439.76,491.69 L440.11,492.49 L440.46,493.69 L440.81,495.14 L441.16,496.7 L441.51,498.28 L441.86,499.83 L442.21,501.33 L442.56,502.78 L442.91,504.15 L443.26,505.42 L443.61,506.53 L443.96,507.43 L444.31,508.09 L444.66,508.49 L445.01,508.64 L445.36,508.59 L445.71,508.38 L446.06,508.08 L446.41,507.74 L446.76,507.39 L447.11,507.05 L447.46,506.74 L447.81,506.48 L448.16,506.33 L448.51,506.32 L448.86,506.49 L449.21,506.83 L449.56,507.33 L449.91,507.96 L450.26,508.68 L450.61,509.47 L450.96,510.29 L451.31,511.11 L451.66,511.88 L452.01,512.54 L452.36,513.08 L452.71,513.48 L453.06,513.78 L453.41,513.98 L453.76,514.1 L454.11,514.16 L454.46,514.19 L454.81,514.2 L455.16,514.2 L455.51,514.2 Z" fill="#e8949f" fill-opacity="0.85" stroke="none"/>
<line x1="412.6" y1="514.2" x2="430.26" y2="514.2" stroke="#eba0b0" stroke-width="1.7"/>
<line x1="455.21" y1="514.2" x2="472.9" y2="514.2" stroke="#eba0b0" stroke-width="1.7"/>
<path d="M429.96,514.2 L430.31,514.2 L430.66,514.2 L431.01,514.19 L431.36,514.16 L431.71,514.1 L432.06,514.02 L432.41,513.9 L432.76,513.76 L433.11,513.6 L433.46,513.43 L433.81,513.21 L434.16,512.92 L434.51,512.51 L434.86,511.91 L435.21,511.04 L435.56,509.81 L435.91,508.21 L436.26,506.26 L436.61,504.07 L436.96,501.78 L437.31,499.53 L437.66,497.41 L438.01,495.48 L438.36,493.82 L438.71,492.52 L439.06,491.69 L439.41,491.41 L439.76,491.69 L440.11,492.49 L440.46,493.69 L440.81,495.14 L441.16,496.7 L441.51,498.28 L441.86,499.83 L442.21,501.33 L442.56,502.78 L442.91,504.15 L443.26,505.42 L443.61,506.53 L443.96,507.43 L444.31,508.09 L444.66,508.49 L445.01,508.64 L445.36,508.59 L445.71,508.38 L446.06,508.08 L446.41,507.74 L446.76,507.39 L447.11,507.05 L447.46,506.74 L447.81,506.48 L448.16,506.33 L448.51,506.32 L448.86,506.49 L449.21,506.83 L449.56,507.33 L449.91,507.96 L450.26,508.68 L450.61,509.47 L450.96,510.29 L451.31,511.11 L451.66,511.88 L452.01,512.54 L452.36,513.08 L452.71,513.48 L453.06,513.78 L453.41,513.98 L453.76,514.1 L454.11,514.16 L454.46,514.19 L454.81,514.2 L455.16,514.2 L455.51,514.2" fill="none" stroke="#d42a4c" stroke-width="0.9" stroke-linejoin="round"/>
<path d="M425.72,525.59 L426.12,525.58 L426.51,525.57 L426.91,525.56 L427.3,525.54 L427.7,525.52 L428.09,525.5 L428.49,525.46 L428.89,525.41 L429.28,525.34 L429.68,525.25 L430.07,525.11 L430.47,524.92 L430.86,524.65 L431.26,524.25 L431.65,523.69 L432.05,522.92 L432.45,521.89 L432.84,520.55 L433.24,518.89 L433.63,516.93 L434.03,514.71 L434.42,512.37 L434.82,510.06 L435.22,507.96 L435.61,506.28 L436.01,505.19 L436.4,504.8 L436.8,505.17 L437.19,506.23 L437.59,507.89 L437.98,509.97 L438.38,512.26 L438.78,514.59 L439.17,516.79 L439.57,518.75 L439.96,520.41 L440.36,521.74 L440.75,522.78 L441.15,523.56 L441.55,524.13 L441.94,524.53 L442.34,524.82 L442.73,525.02 L443.13,525.17 L443.52,525.28 L443.92,525.36 L444.31,525.42 L444.71,525.46 L445.11,525.5 L445.5,525.52 L445.9,525.55 L446.29,525.56 L446.69,525.57 L447.08,525.58 L447.48,525.59 L447.48,525.6 L425.72,525.6 Z" fill="#d9d9d9" fill-opacity="0.62" stroke="none"/>
<path d="M425.72,525.59 L426.12,525.58 L426.51,525.57 L426.91,525.56 L427.3,525.54 L427.7,525.52 L428.09,525.5 L428.49,525.46 L428.89,525.41 L429.28,525.34 L429.68,525.25 L430.07,525.11 L430.47,524.92 L430.86,524.65 L431.26,524.25 L431.65,523.69 L432.05,522.92 L432.45,521.89 L432.84,520.55 L433.24,518.89 L433.63,516.93 L434.03,514.71 L434.42,512.37 L434.82,510.06 L435.22,507.96 L435.61,506.28 L436.01,505.19 L436.4,504.8 L436.8,505.17 L437.19,506.23 L437.59,507.89 L437.98,509.97 L438.38,512.26 L438.78,514.59 L439.17,516.79 L439.57,518.75 L439.96,520.41 L440.36,521.74 L440.75,522.78 L441.15,523.56 L441.55,524.13 L441.94,524.53 L442.34,524.82 L442.73,525.02 L443.13,525.17 L443.52,525.28 L443.92,525.36 L444.31,525.42 L444.71,525.46 L445.11,525.5 L445.5,525.52 L445.9,525.55 L446.29,525.56 L446.69,525.57 L447.08,525.58 L447.48,525.59" fill="none" stroke="#bcbcbc" stroke-width="0.7" stroke-linejoin="round"/>
<rect x="412.6" y="464.5" width="60.3" height="61.8" fill="none" stroke="#000" stroke-width="1.45"/>
<line x1="409.2" y1="463.8" x2="409.2" y2="496.4" stroke="#000" stroke-width="1.35"/>
<line x1="409.2" y1="504.2" x2="409.2" y2="527.1" stroke="#000" stroke-width="1.35"/>
<text transform="translate(403.2,480.4) rotate(-90)" font-size="8.4" text-anchor="middle" textLength="34" lengthAdjust="spacingAndGlyphs">FLAG-RelA</text>
<text transform="translate(403.2,517.5) rotate(-90)" font-size="8.4" text-anchor="middle" textLength="20.6" lengthAdjust="spacingAndGlyphs">Empty</text>
<text x="476" y="486.8" font-size="7.7" textLength="15.8" lengthAdjust="spacingAndGlyphs">DMF</text>
<text x="476" y="499.6" font-size="7.7" textLength="24.2" lengthAdjust="spacingAndGlyphs">Solvent</text>
<text x="476" y="512.6" font-size="7.7" textLength="15.8" lengthAdjust="spacingAndGlyphs">DMF</text>
<text x="476" y="525.8" font-size="7.7" textLength="24.2" lengthAdjust="spacingAndGlyphs">Solvent</text>
<text x="410.7" y="535.9" font-size="6.2" fill="#141414" textLength="6.3" lengthAdjust="spacingAndGlyphs">10</text>
<text x="418" y="533.7" font-size="2.8" fill="#141414" style="stroke-width:0.1px">0</text>
<text x="427.89" y="535.9" font-size="6.2" fill="#141414" textLength="6.3" lengthAdjust="spacingAndGlyphs">10</text>
<text x="435.19" y="533.7" font-size="2.8" fill="#141414" style="stroke-width:0.1px">1</text>
<text x="445.07" y="535.9" font-size="6.2" fill="#141414" textLength="6.3" lengthAdjust="spacingAndGlyphs">10</text>
<text x="452.37" y="533.7" font-size="2.8" fill="#141414" style="stroke-width:0.1px">2</text>
<text x="462.26" y="535.9" font-size="6.2" fill="#141414" textLength="6.3" lengthAdjust="spacingAndGlyphs">10</text>
<text x="469.56" y="533.7" font-size="2.8" fill="#141414" style="stroke-width:0.1px">3</text>
<line x1="412.6" y1="539.5" x2="467.9" y2="539.5" stroke="#000" stroke-width="1.45"/>
<path d="M467.4,537 L473.4,539.5 L467.4,542 Z" fill="#000"/>
<text x="422" y="548.5" font-size="8.2" textLength="40.5" lengthAdjust="spacingAndGlyphs">BODIPY C11</text>
<text x="9.6" y="575.8" font-size="10.6" font-weight="bold" fill="#000">H</text>
<text x="87.8" y="587.3" font-size="10" textLength="33.4" lengthAdjust="spacingAndGlyphs">DOHH2</text>
<line x1="39" y1="595.42" x2="39" y2="679.4" stroke="#000" stroke-width="1.45"/>
<line x1="36.9" y1="596.02" x2="39" y2="596.02" stroke="#000" stroke-width="1.15"/>
<text x="35.5" y="598.87" font-size="8.6" text-anchor="end" textLength="4.6" lengthAdjust="spacingAndGlyphs">6</text>
<line x1="36.9" y1="623.58" x2="39" y2="623.58" stroke="#000" stroke-width="1.15"/>
<text x="35.5" y="626.43" font-size="8.6" text-anchor="end" textLength="4.6" lengthAdjust="spacingAndGlyphs">4</text>
<line x1="36.9" y1="651.14" x2="39" y2="651.14" stroke="#000" stroke-width="1.15"/>
<text x="35.5" y="653.99" font-size="8.6" text-anchor="end" textLength="4.6" lengthAdjust="spacingAndGlyphs">2</text>
<line x1="36.9" y1="678.7" x2="39" y2="678.7" stroke="#000" stroke-width="1.15"/>
<text x="35.5" y="681.55" font-size="8.6" text-anchor="end" textLength="4.6" lengthAdjust="spacingAndGlyphs">0</text>
<text transform="translate(24.3,643.4) rotate(-90)" font-size="9.2" text-anchor="middle" textLength="77.3" lengthAdjust="spacingAndGlyphs">Norm. BODIPY C11 MFI</text>
<rect x="44.6" y="664.92" width="8.8" height="13.78" fill="#c8112f"/>
<line x1="49" y1="664.92" x2="49" y2="662.85" stroke="#000" stroke-width="1.3"/>
<line x1="47.2" y1="662.85" x2="50.8" y2="662.85" stroke="#000" stroke-width="1.3"/>
<rect x="56.3" y="664.51" width="8.8" height="14.19" fill="#16528c"/>
<line x1="60.7" y1="664.51" x2="60.7" y2="663.91" stroke="#000" stroke-width="1.3"/>
<line x1="58.9" y1="663.91" x2="62.5" y2="663.91" stroke="#000" stroke-width="1.3"/>
<line x1="54.85" y1="678.7" x2="54.85" y2="681.7" stroke="#000" stroke-width="1.1"/>
<rect x="75.4" y="633.64" width="8.8" height="45.06" fill="#c8112f"/>
<line x1="79.8" y1="633.64" x2="79.8" y2="632.81" stroke="#000" stroke-width="1.3"/>
<line x1="78" y1="632.81" x2="81.6" y2="632.81" stroke="#000" stroke-width="1.3"/>
<rect x="87.1" y="655.83" width="8.8" height="22.87" fill="#16528c"/>
<line x1="91.5" y1="655.83" x2="91.5" y2="655.23" stroke="#000" stroke-width="1.3"/>
<line x1="89.7" y1="655.23" x2="93.3" y2="655.23" stroke="#000" stroke-width="1.3"/>
<line x1="85.65" y1="678.7" x2="85.65" y2="681.7" stroke="#000" stroke-width="1.1"/>
<rect x="106.4" y="622.34" width="8.8" height="56.36" fill="#c8112f"/>
<line x1="110.8" y1="622.34" x2="110.8" y2="621.74" stroke="#000" stroke-width="1.3"/>
<line x1="109" y1="621.74" x2="112.6" y2="621.74" stroke="#000" stroke-width="1.3"/>
<rect x="118.1" y="635.02" width="8.8" height="43.68" fill="#16528c"/>
<line x1="122.5" y1="635.02" x2="122.5" y2="634.42" stroke="#000" stroke-width="1.3"/>
<line x1="120.7" y1="634.42" x2="124.3" y2="634.42" stroke="#000" stroke-width="1.3"/>
<line x1="116.65" y1="678.7" x2="116.65" y2="681.7" stroke="#000" stroke-width="1.1"/>
<rect x="137.5" y="610.9" width="8.8" height="67.8" fill="#c8112f"/>
<line x1="141.9" y1="610.9" x2="141.9" y2="609.8" stroke="#000" stroke-width="1.3"/>
<line x1="140.1" y1="609.8" x2="143.7" y2="609.8" stroke="#000" stroke-width="1.3"/>
<rect x="149.2" y="627.44" width="8.8" height="51.26" fill="#16528c"/>
<line x1="153.6" y1="627.44" x2="153.6" y2="626.84" stroke="#000" stroke-width="1.3"/>
<line x1="151.8" y1="626.84" x2="155.4" y2="626.84" stroke="#000" stroke-width="1.3"/>
<line x1="147.75" y1="678.7" x2="147.75" y2="681.7" stroke="#000" stroke-width="1.1"/>
<line x1="38.4" y1="678.7" x2="164" y2="678.7" stroke="#000" stroke-width="1.25"/>
<text x="40" y="689.2" font-size="8.2" textLength="26.3" lengthAdjust="spacingAndGlyphs">Solvent</text>
<text x="78.8" y="689.4" font-size="8.6" textLength="9.6" lengthAdjust="spacingAndGlyphs">10</text>
<text x="113" y="689.4" font-size="8.6" textLength="8.8" lengthAdjust="spacingAndGlyphs">20</text>
<text x="143.5" y="689.4" font-size="8.6" textLength="8.8" lengthAdjust="spacingAndGlyphs">40</text>
<line x1="78.6" y1="695" x2="164" y2="695" stroke="#000" stroke-width="1.4"/>
<text x="102.4" y="705.7" font-size="8.2" textLength="35" lengthAdjust="spacingAndGlyphs">DMF [µM]</text>
<line x1="79.8" y1="623.5" x2="91.6" y2="623.5" stroke="#000" stroke-width="0.9"/>
<polygon points="80.5,617.8 81.23,619.39 82.97,619.6 81.69,620.79 82.03,622.5 80.5,621.65 78.97,622.5 79.31,620.79 78.03,619.6 79.77,619.39" fill="#111"/>
<polygon points="85.5,617.8 86.23,619.39 87.97,619.6 86.69,620.79 87.03,622.5 85.5,621.65 83.97,622.5 84.31,620.79 83.03,619.6 84.77,619.39" fill="#111"/>
<polygon points="90.5,617.8 91.23,619.39 92.97,619.6 91.69,620.79 92.03,622.5 90.5,621.65 88.97,622.5 89.31,620.79 88.03,619.6 89.77,619.39" fill="#111"/>
<line x1="110.8" y1="615.1" x2="122.6" y2="615.1" stroke="#000" stroke-width="0.9"/>
<polygon points="111.8,609.4 112.53,610.99 114.27,611.2 112.99,612.39 113.33,614.1 111.8,613.25 110.27,614.1 110.61,612.39 109.33,611.2 111.07,610.99" fill="#111"/>
<polygon points="116.8,609.4 117.53,610.99 119.27,611.2 117.99,612.39 118.33,614.1 116.8,613.25 115.27,614.1 115.61,612.39 114.33,611.2 116.07,610.99" fill="#111"/>
<polygon points="121.8,609.4 122.53,610.99 124.27,611.2 122.99,612.39 123.33,614.1 121.8,613.25 120.27,614.1 120.61,612.39 119.33,611.2 121.07,610.99" fill="#111"/>
<line x1="142.6" y1="605.6" x2="153.2" y2="605.6" stroke="#000" stroke-width="0.9"/>
<polygon points="145.4,599.8 146.13,601.39 147.87,601.6 146.59,602.79 146.93,604.5 145.4,603.65 143.87,604.5 144.21,602.79 142.93,601.6 144.67,601.39" fill="#111"/>
<polygon points="150.2,599.8 150.93,601.39 152.67,601.6 151.39,602.79 151.73,604.5 150.2,603.65 148.67,604.5 149.01,602.79 147.73,601.6 149.47,601.39" fill="#111"/>
<rect x="168.5" y="605" width="10.3" height="5.4" fill="#c8112f"/>
<rect x="168.5" y="616.1" width="10.3" height="5.4" fill="#16528c"/>
<text x="183.4" y="609.6" font-size="7.6" textLength="21" lengthAdjust="spacingAndGlyphs">Empty</text>
<text x="183.4" y="621.5" font-size="7.6" textLength="36.3" lengthAdjust="spacingAndGlyphs">FLAG-RelA</text>
<text x="239.6" y="575.7" font-size="10.6" font-weight="bold" fill="#000">I</text>
<text x="323" y="587.8" font-size="10" textLength="33.1" lengthAdjust="spacingAndGlyphs">DOHH2</text>
<line x1="274.3" y1="596.2" x2="274.3" y2="679.1" stroke="#000" stroke-width="1.45"/>
<line x1="272" y1="596.8" x2="274.3" y2="596.8" stroke="#000" stroke-width="1.15"/>
<text x="270.1" y="599.65" font-size="8.6" text-anchor="end" textLength="10.5" lengthAdjust="spacingAndGlyphs">1.2</text>
<line x1="272" y1="610.4" x2="274.3" y2="610.4" stroke="#000" stroke-width="1.15"/>
<text x="270.1" y="613.25" font-size="8.6" text-anchor="end" textLength="10.5" lengthAdjust="spacingAndGlyphs">1.0</text>
<line x1="272" y1="624" x2="274.3" y2="624" stroke="#000" stroke-width="1.15"/>
<text x="270.1" y="626.85" font-size="8.6" text-anchor="end" textLength="10.5" lengthAdjust="spacingAndGlyphs">0.8</text>
<line x1="272" y1="637.6" x2="274.3" y2="637.6" stroke="#000" stroke-width="1.15"/>
<text x="270.1" y="640.45" font-size="8.6" text-anchor="end" textLength="10.5" lengthAdjust="spacingAndGlyphs">0.6</text>
<line x1="272" y1="651.2" x2="274.3" y2="651.2" stroke="#000" stroke-width="1.15"/>
<text x="270.1" y="654.05" font-size="8.6" text-anchor="end" textLength="10.5" lengthAdjust="spacingAndGlyphs">0.4</text>
<line x1="272" y1="664.8" x2="274.3" y2="664.8" stroke="#000" stroke-width="1.15"/>
<text x="270.1" y="667.65" font-size="8.6" text-anchor="end" textLength="10.5" lengthAdjust="spacingAndGlyphs">0.2</text>
<line x1="272" y1="678.4" x2="274.3" y2="678.4" stroke="#000" stroke-width="1.15"/>
<text x="270.1" y="681.25" font-size="8.6" text-anchor="end" textLength="10.5" lengthAdjust="spacingAndGlyphs">0.0</text>
<text transform="translate(254.2,639.9) rotate(-90)" font-size="9.2" text-anchor="middle" textLength="71.9" lengthAdjust="spacingAndGlyphs">Normalized cell count</text>
<line x1="273.7" y1="678.4" x2="397.7" y2="678.4" stroke="#000" stroke-width="1.25"/>
<line x1="274.3" y1="678.4" x2="274.3" y2="681.4" stroke="#000" stroke-width="1.1"/>
<line x1="294.8" y1="678.4" x2="294.8" y2="681.4" stroke="#000" stroke-width="1.1"/>
<line x1="315.3" y1="678.4" x2="315.3" y2="681.4" stroke="#000" stroke-width="1.1"/>
<line x1="335.8" y1="678.4" x2="335.8" y2="681.4" stroke="#000" stroke-width="1.1"/>
<line x1="356.3" y1="678.4" x2="356.3" y2="681.4" stroke="#000" stroke-width="1.1"/>
<line x1="376.8" y1="678.4" x2="376.8" y2="681.4" stroke="#000" stroke-width="1.1"/>
<line x1="397.3" y1="678.4" x2="397.3" y2="681.4" stroke="#000" stroke-width="1.1"/>
<text x="274.3" y="688.3" font-size="8.6" text-anchor="middle" textLength="4.4" lengthAdjust="spacingAndGlyphs">0</text>
<text x="315.3" y="688.3" font-size="8.6" text-anchor="middle" textLength="4.4" lengthAdjust="spacingAndGlyphs">2</text>
<text x="356.3" y="688.3" font-size="8.6" text-anchor="middle" textLength="4.4" lengthAdjust="spacingAndGlyphs">4</text>
<text x="397.3" y="688.3" font-size="8.6" text-anchor="middle" textLength="4.4" lengthAdjust="spacingAndGlyphs">6</text>
<text x="323.8" y="704.6" font-size="8.2" textLength="27" lengthAdjust="spacingAndGlyphs">Time [d]</text>
<path d="M274.3,610.4 L294.8,610.4 L315.3,610.4 L335.8,610.4 L356.3,610.4 L376.8,610.4 L397.3,610.4" fill="none" stroke="#16528c" stroke-width="1.2" stroke-linejoin="round"/>
<rect x="272.3" y="608.4" width="4" height="4" fill="#16528c"/>
<line x1="294.8" y1="607.68" x2="294.8" y2="613.12" stroke="#16528c" stroke-width="1.1"/>
<line x1="293.2" y1="607.68" x2="296.4" y2="607.68" stroke="#16528c" stroke-width="1.1"/>
<line x1="293.2" y1="613.12" x2="296.4" y2="613.12" stroke="#16528c" stroke-width="1.1"/>
<rect x="292.8" y="608.4" width="4" height="4" fill="#16528c"/>
<line x1="315.3" y1="604.55" x2="315.3" y2="616.25" stroke="#16528c" stroke-width="1.1"/>
<line x1="313.7" y1="604.55" x2="316.9" y2="604.55" stroke="#16528c" stroke-width="1.1"/>
<line x1="313.7" y1="616.25" x2="316.9" y2="616.25" stroke="#16528c" stroke-width="1.1"/>
<rect x="313.3" y="608.4" width="4" height="4" fill="#16528c"/>
<line x1="335.8" y1="600.68" x2="335.8" y2="620.12" stroke="#16528c" stroke-width="1.1"/>
<line x1="334.2" y1="600.68" x2="337.4" y2="600.68" stroke="#16528c" stroke-width="1.1"/>
<line x1="334.2" y1="620.12" x2="337.4" y2="620.12" stroke="#16528c" stroke-width="1.1"/>
<rect x="333.8" y="608.4" width="4" height="4" fill="#16528c"/>
<line x1="356.3" y1="605.44" x2="356.3" y2="615.36" stroke="#16528c" stroke-width="1.1"/>
<line x1="354.7" y1="605.44" x2="357.9" y2="605.44" stroke="#16528c" stroke-width="1.1"/>
<line x1="354.7" y1="615.36" x2="357.9" y2="615.36" stroke="#16528c" stroke-width="1.1"/>
<rect x="354.3" y="608.4" width="4" height="4" fill="#16528c"/>
<line x1="376.8" y1="605.84" x2="376.8" y2="614.96" stroke="#16528c" stroke-width="1.1"/>
<line x1="375.2" y1="605.84" x2="378.4" y2="605.84" stroke="#16528c" stroke-width="1.1"/>
<line x1="375.2" y1="614.96" x2="378.4" y2="614.96" stroke="#16528c" stroke-width="1.1"/>
<rect x="374.8" y="608.4" width="4" height="4" fill="#16528c"/>
<line x1="397.3" y1="607" x2="397.3" y2="613.8" stroke="#16528c" stroke-width="1.1"/>
<line x1="395.7" y1="607" x2="398.9" y2="607" stroke="#16528c" stroke-width="1.1"/>
<line x1="395.7" y1="613.8" x2="398.9" y2="613.8" stroke="#16528c" stroke-width="1.1"/>
<rect x="395.3" y="608.4" width="4" height="4" fill="#16528c"/>
<path d="M274.3,610.4 L294.8,632.16 L315.3,652.22 L335.8,661.4 L356.3,672.28 L376.8,676.36 L397.3,678.4" fill="none" stroke="#3db54a" stroke-width="1.2" stroke-linejoin="round"/>
<path d="M274.3,608.6 L276.2,611.8 L272.4,611.8 Z" fill="#3db54a"/>
<line x1="294.8" y1="627.74" x2="294.8" y2="636.58" stroke="#3db54a" stroke-width="1.1"/>
<line x1="293.2" y1="627.74" x2="296.4" y2="627.74" stroke="#3db54a" stroke-width="1.1"/>
<line x1="293.2" y1="636.58" x2="296.4" y2="636.58" stroke="#3db54a" stroke-width="1.1"/>
<path d="M294.8,630.36 L296.7,633.56 L292.9,633.56 Z" fill="#3db54a"/>
<line x1="315.3" y1="648.82" x2="315.3" y2="655.62" stroke="#3db54a" stroke-width="1.1"/>
<line x1="313.7" y1="648.82" x2="316.9" y2="648.82" stroke="#3db54a" stroke-width="1.1"/>
<line x1="313.7" y1="655.62" x2="316.9" y2="655.62" stroke="#3db54a" stroke-width="1.1"/>
<path d="M315.3,650.42 L317.2,653.62 L313.4,653.62 Z" fill="#3db54a"/>
<line x1="335.8" y1="656.64" x2="335.8" y2="666.16" stroke="#3db54a" stroke-width="1.1"/>
<line x1="334.2" y1="656.64" x2="337.4" y2="656.64" stroke="#3db54a" stroke-width="1.1"/>
<line x1="334.2" y1="666.16" x2="337.4" y2="666.16" stroke="#3db54a" stroke-width="1.1"/>
<path d="M335.8,659.6 L337.7,662.8 L333.9,662.8 Z" fill="#3db54a"/>
<line x1="356.3" y1="671.6" x2="356.3" y2="672.96" stroke="#3db54a" stroke-width="1.1"/>
<line x1="354.7" y1="671.6" x2="357.9" y2="671.6" stroke="#3db54a" stroke-width="1.1"/>
<line x1="354.7" y1="672.96" x2="357.9" y2="672.96" stroke="#3db54a" stroke-width="1.1"/>
<path d="M356.3,670.48 L358.2,673.68 L354.4,673.68 Z" fill="#3db54a"/>
<line x1="376.8" y1="675.68" x2="376.8" y2="677.04" stroke="#3db54a" stroke-width="1.1"/>
<line x1="375.2" y1="675.68" x2="378.4" y2="675.68" stroke="#3db54a" stroke-width="1.1"/>
<line x1="375.2" y1="677.04" x2="378.4" y2="677.04" stroke="#3db54a" stroke-width="1.1"/>
<path d="M376.8,674.56 L378.7,677.76 L374.9,677.76 Z" fill="#3db54a"/>
<line x1="397.3" y1="678.06" x2="397.3" y2="678.74" stroke="#3db54a" stroke-width="1.1"/>
<line x1="395.7" y1="678.06" x2="398.9" y2="678.06" stroke="#3db54a" stroke-width="1.1"/>
<line x1="395.7" y1="678.74" x2="398.9" y2="678.74" stroke="#3db54a" stroke-width="1.1"/>
<path d="M397.3,676.6 L399.2,679.8 L395.4,679.8 Z" fill="#3db54a"/>
<path d="M274.3,610.4 L294.8,625.02 L315.3,633.18 L335.8,647.46 L356.3,659.36 L376.8,668.47 L397.3,674.18" fill="none" stroke="#5b2d83" stroke-width="1.2" stroke-linejoin="round"/>
<path d="M274.3,612.2 L276.2,609 L272.4,609 Z" fill="#5b2d83"/>
<line x1="294.8" y1="622.98" x2="294.8" y2="627.06" stroke="#5b2d83" stroke-width="1.1"/>
<line x1="293.2" y1="622.98" x2="296.4" y2="622.98" stroke="#5b2d83" stroke-width="1.1"/>
<line x1="293.2" y1="627.06" x2="296.4" y2="627.06" stroke="#5b2d83" stroke-width="1.1"/>
<path d="M294.8,626.82 L296.7,623.62 L292.9,623.62 Z" fill="#5b2d83"/>
<line x1="315.3" y1="630.12" x2="315.3" y2="636.24" stroke="#5b2d83" stroke-width="1.1"/>
<line x1="313.7" y1="630.12" x2="316.9" y2="630.12" stroke="#5b2d83" stroke-width="1.1"/>
<line x1="313.7" y1="636.24" x2="316.9" y2="636.24" stroke="#5b2d83" stroke-width="1.1"/>
<path d="M315.3,634.98 L317.2,631.78 L313.4,631.78 Z" fill="#5b2d83"/>
<line x1="335.8" y1="646.44" x2="335.8" y2="648.48" stroke="#5b2d83" stroke-width="1.1"/>
<line x1="334.2" y1="646.44" x2="337.4" y2="646.44" stroke="#5b2d83" stroke-width="1.1"/>
<line x1="334.2" y1="648.48" x2="337.4" y2="648.48" stroke="#5b2d83" stroke-width="1.1"/>
<path d="M335.8,649.26 L337.7,646.06 L333.9,646.06 Z" fill="#5b2d83"/>
<line x1="356.3" y1="658.68" x2="356.3" y2="660.04" stroke="#5b2d83" stroke-width="1.1"/>
<line x1="354.7" y1="658.68" x2="357.9" y2="658.68" stroke="#5b2d83" stroke-width="1.1"/>
<line x1="354.7" y1="660.04" x2="357.9" y2="660.04" stroke="#5b2d83" stroke-width="1.1"/>
<path d="M356.3,661.16 L358.2,657.96 L354.4,657.96 Z" fill="#5b2d83"/>
<line x1="376.8" y1="666.43" x2="376.8" y2="670.51" stroke="#5b2d83" stroke-width="1.1"/>
<line x1="375.2" y1="666.43" x2="378.4" y2="666.43" stroke="#5b2d83" stroke-width="1.1"/>
<line x1="375.2" y1="670.51" x2="378.4" y2="670.51" stroke="#5b2d83" stroke-width="1.1"/>
<path d="M376.8,670.27 L378.7,667.07 L374.9,667.07 Z" fill="#5b2d83"/>
<line x1="397.3" y1="673.16" x2="397.3" y2="675.2" stroke="#5b2d83" stroke-width="1.1"/>
<line x1="395.7" y1="673.16" x2="398.9" y2="673.16" stroke="#5b2d83" stroke-width="1.1"/>
<line x1="395.7" y1="675.2" x2="398.9" y2="675.2" stroke="#5b2d83" stroke-width="1.1"/>
<path d="M397.3,675.98 L399.2,672.78 L395.4,672.78 Z" fill="#5b2d83"/>
<path d="M274.3,610.4 L294.8,610.4 L315.3,610.4 L335.8,610.4 L356.3,610.4 L376.8,610.4 L397.3,610.4" fill="none" stroke="#c8112f" stroke-width="1.2" stroke-linejoin="round"/>
<circle cx="274.3" cy="610.4" r="2.1" fill="#c8112f"/>
<line x1="294.8" y1="607.34" x2="294.8" y2="613.46" stroke="#c8112f" stroke-width="1.1"/>
<line x1="293.2" y1="607.34" x2="296.4" y2="607.34" stroke="#c8112f" stroke-width="1.1"/>
<line x1="293.2" y1="613.46" x2="296.4" y2="613.46" stroke="#c8112f" stroke-width="1.1"/>
<circle cx="294.8" cy="610.4" r="2.1" fill="#c8112f"/>
<line x1="315.3" y1="606.05" x2="315.3" y2="614.75" stroke="#c8112f" stroke-width="1.1"/>
<line x1="313.7" y1="606.05" x2="316.9" y2="606.05" stroke="#c8112f" stroke-width="1.1"/>
<line x1="313.7" y1="614.75" x2="316.9" y2="614.75" stroke="#c8112f" stroke-width="1.1"/>
<circle cx="315.3" cy="610.4" r="2.1" fill="#c8112f"/>
<circle cx="335.8" cy="610.4" r="2.1" fill="#c8112f"/>
<circle cx="356.3" cy="610.4" r="2.1" fill="#c8112f"/>
<line x1="376.8" y1="603.94" x2="376.8" y2="616.86" stroke="#c8112f" stroke-width="1.1"/>
<line x1="375.2" y1="603.94" x2="378.4" y2="603.94" stroke="#c8112f" stroke-width="1.1"/>
<line x1="375.2" y1="616.86" x2="378.4" y2="616.86" stroke="#c8112f" stroke-width="1.1"/>
<circle cx="376.8" cy="610.4" r="2.1" fill="#c8112f"/>
<line x1="397.3" y1="603.12" x2="397.3" y2="617.68" stroke="#c8112f" stroke-width="1.1"/>
<line x1="395.7" y1="603.12" x2="398.9" y2="603.12" stroke="#c8112f" stroke-width="1.1"/>
<line x1="395.7" y1="617.68" x2="398.9" y2="617.68" stroke="#c8112f" stroke-width="1.1"/>
<circle cx="397.3" cy="610.4" r="2.1" fill="#c8112f"/>
<polygon points="310.4,623.7 311.13,625.29 312.87,625.5 311.59,626.69 311.93,628.4 310.4,627.55 308.87,628.4 309.21,626.69 307.93,625.5 309.67,625.29" fill="#111"/>
<polygon points="315.4,623.7 316.13,625.29 317.87,625.5 316.59,626.69 316.93,628.4 315.4,627.55 313.87,628.4 314.21,626.69 312.93,625.5 314.67,625.29" fill="#111"/>
<polygon points="320.4,623.7 321.13,625.29 322.87,625.5 321.59,626.69 321.93,628.4 320.4,627.55 318.87,628.4 319.21,626.69 317.93,625.5 319.67,625.29" fill="#111"/>
<polygon points="332.7,639.2 333.43,640.79 335.17,641 333.89,642.19 334.23,643.9 332.7,643.05 331.17,643.9 331.51,642.19 330.23,641 331.97,640.79" fill="#111"/>
<polygon points="337.7,639.2 338.43,640.79 340.17,641 338.89,642.19 339.23,643.9 337.7,643.05 336.17,643.9 336.51,642.19 335.23,641 336.97,640.79" fill="#111"/>
<polygon points="351,651.7 351.73,653.29 353.47,653.5 352.19,654.69 352.53,656.4 351,655.55 349.47,656.4 349.81,654.69 348.53,653.5 350.27,653.29" fill="#111"/>
<polygon points="356,651.7 356.73,653.29 358.47,653.5 357.19,654.69 357.53,656.4 356,655.55 354.47,656.4 354.81,654.69 353.53,653.5 355.27,653.29" fill="#111"/>
<polygon points="361,651.7 361.73,653.29 363.47,653.5 362.19,654.69 362.53,656.4 361,655.55 359.47,656.4 359.81,654.69 358.53,653.5 360.27,653.29" fill="#111"/>
<polygon points="376.4,659.6 377.13,661.19 378.87,661.4 377.59,662.59 377.93,664.3 376.4,663.45 374.87,664.3 375.21,662.59 373.93,661.4 375.67,661.19" fill="#111"/>
<polygon points="397,666.8 397.73,668.39 399.47,668.6 398.19,669.79 398.53,671.5 397,670.65 395.47,671.5 395.81,669.79 394.53,668.6 396.27,668.39" fill="#111"/>
<line x1="408.4" y1="599.3" x2="417.8" y2="599.3" stroke="#c8112f" stroke-width="1.3"/>
<circle cx="413.1" cy="599.3" r="2.1" fill="#c8112f"/>
<text x="422.3" y="601.6" font-size="7.6" textLength="54.6" lengthAdjust="spacingAndGlyphs">Solvent + Empty</text>
<line x1="408.4" y1="610.4" x2="417.8" y2="610.4" stroke="#16528c" stroke-width="1.3"/>
<rect x="411.1" y="608.4" width="4" height="4" fill="#16528c"/>
<text x="422.3" y="613.2" font-size="7.6" textLength="70.5" lengthAdjust="spacingAndGlyphs">Solvent + FLAG-RelA</text>
<line x1="408.4" y1="621.9" x2="417.8" y2="621.9" stroke="#3db54a" stroke-width="1.3"/>
<path d="M413.1,620.1 L415,623.3 L411.2,623.3 Z" fill="#3db54a"/>
<text x="422.3" y="623.9" font-size="7.6" textLength="46.6" lengthAdjust="spacingAndGlyphs">DMF + Empty</text>
<line x1="408.4" y1="632.4" x2="417.8" y2="632.4" stroke="#5b2d83" stroke-width="1.3"/>
<path d="M413.1,634.2 L415,631 L411.2,631 Z" fill="#5b2d83"/>
<text x="422.3" y="635" font-size="7.6" textLength="62.3" lengthAdjust="spacingAndGlyphs">DMF + FLAG-RelA</text>
<rect x="0" y="0" width="520" height="1.2" fill="#000"/>
<rect x="0" y="0" width="1.1" height="712" fill="#000"/>
<rect x="518.4" y="0" width="1.6" height="712" fill="#000"/>
<rect x="0" y="710.4" width="520" height="1.6" fill="#000"/>
</svg></body></html>
